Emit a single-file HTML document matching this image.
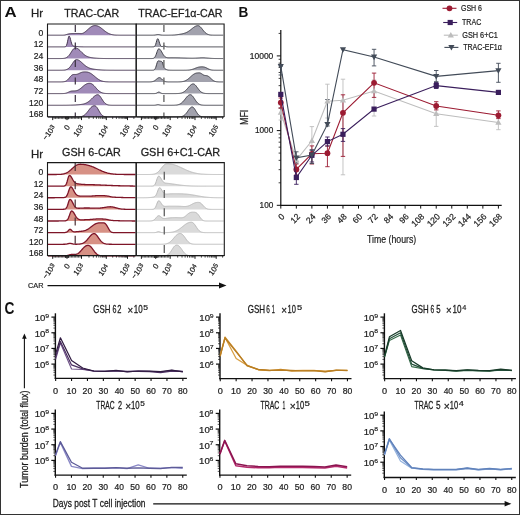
<!DOCTYPE html>
<html><head><meta charset="utf-8"><style>
html,body{margin:0;padding:0;background:#fff;}
body{width:520px;height:515px;overflow:hidden;}
svg{display:block;will-change:transform;font-family:"Liberation Sans", sans-serif;}
</style></head><body>
<svg width="520" height="515" viewBox="0 0 520 515">
<rect x="0" y="0" width="520" height="515" fill="#fff"/>
<text x="4.48" y="17" font-size="15.14" fill="#111" font-weight="bold" textLength="12.18" lengthAdjust="spacingAndGlyphs">A</text>
<text x="30.99" y="16.9" font-size="10.5" fill="#222" font-weight="normal" textLength="12.04" lengthAdjust="spacingAndGlyphs" stroke="#222" stroke-width="0.26">Hr</text>
<text x="64.29" y="16.9" font-size="10.5" fill="#222" font-weight="normal" textLength="54.81" lengthAdjust="spacingAndGlyphs" stroke="#222" stroke-width="0.26">TRAC-CAR</text>
<text x="138.29" y="16.9" font-size="10.5" fill="#222" font-weight="normal" textLength="84.21" lengthAdjust="spacingAndGlyphs" stroke="#222" stroke-width="0.26">TRAC-EF1&#945;-CAR</text>
<text x="30.99" y="157.8" font-size="10.5" fill="#222" font-weight="normal" textLength="12.04" lengthAdjust="spacingAndGlyphs" stroke="#222" stroke-width="0.26">Hr</text>
<text x="62.06" y="156.4" font-size="10.5" fill="#222" font-weight="normal" textLength="58.63" lengthAdjust="spacingAndGlyphs" stroke="#222" stroke-width="0.26">GSH 6-CAR</text>
<text x="140.66" y="156.4" font-size="10.5" fill="#222" font-weight="normal" textLength="79.56" lengthAdjust="spacingAndGlyphs" stroke="#222" stroke-width="0.26">GSH 6+C1-CAR</text>
<text x="43.35" y="35.7" font-size="8.6" text-anchor="end" fill="#222" font-weight="normal" stroke="#222" stroke-width="0.2" >0</text>
<text x="43.35" y="47.38" font-size="8.6" text-anchor="end" fill="#222" font-weight="normal" stroke="#222" stroke-width="0.2" >12</text>
<text x="43.35" y="59.06" font-size="8.6" text-anchor="end" fill="#222" font-weight="normal" stroke="#222" stroke-width="0.2" >24</text>
<text x="43.35" y="70.74" font-size="8.6" text-anchor="end" fill="#222" font-weight="normal" stroke="#222" stroke-width="0.2" >36</text>
<text x="43.35" y="82.42" font-size="8.6" text-anchor="end" fill="#222" font-weight="normal" stroke="#222" stroke-width="0.2" >48</text>
<text x="43.35" y="94.1" font-size="8.6" text-anchor="end" fill="#222" font-weight="normal" stroke="#222" stroke-width="0.2" >72</text>
<text x="43.35" y="105.78" font-size="8.6" text-anchor="end" fill="#222" font-weight="normal" stroke="#222" stroke-width="0.2" >120</text>
<text x="43.35" y="117.46" font-size="8.6" text-anchor="end" fill="#222" font-weight="normal" stroke="#222" stroke-width="0.2" >168</text>
<text x="43.35" y="175" font-size="8.6" text-anchor="end" fill="#222" font-weight="normal" stroke="#222" stroke-width="0.2" >0</text>
<text x="43.35" y="186.63" font-size="8.6" text-anchor="end" fill="#222" font-weight="normal" stroke="#222" stroke-width="0.2" >12</text>
<text x="43.35" y="198.26" font-size="8.6" text-anchor="end" fill="#222" font-weight="normal" stroke="#222" stroke-width="0.2" >24</text>
<text x="43.35" y="209.89" font-size="8.6" text-anchor="end" fill="#222" font-weight="normal" stroke="#222" stroke-width="0.2" >36</text>
<text x="43.35" y="221.52" font-size="8.6" text-anchor="end" fill="#222" font-weight="normal" stroke="#222" stroke-width="0.2" >48</text>
<text x="43.35" y="233.15" font-size="8.6" text-anchor="end" fill="#222" font-weight="normal" stroke="#222" stroke-width="0.2" >72</text>
<text x="43.35" y="244.78" font-size="8.6" text-anchor="end" fill="#222" font-weight="normal" stroke="#222" stroke-width="0.2" >120</text>
<text x="43.35" y="256.41" font-size="8.6" text-anchor="end" fill="#222" font-weight="normal" stroke="#222" stroke-width="0.2" >168</text>
<path d="M48 35.2 L48 35.2 L48.5 35.2 L49 35.2 L49.5 35.2 L50 35.2 L50.5 35.2 L51 35.2 L51.5 35.2 L52 35.2 L52.5 35.2 L53 35.2 L53.5 35.2 L54 35.2 L54.5 35.2 L55 35.2 L55.5 35.2 L56 35.2 L56.5 35.2 L57 35.2 L57.5 35.2 L58 35.2 L58.5 35.2 L59 35.2 L59.5 35.2 L60 35.2 L60.5 35.2 L61 35.2 L61.5 35.2 L62 35.2 L62.5 35.19 L63 35.17 L63.5 35.15 L64 35.1 L64.5 35.04 L65 34.95 L65.5 34.83 L66 34.69 L66.5 34.54 L67 34.38 L67.5 34.23 L68 34.09 L68.5 33.96 L69 33.86 L69.5 33.77 L70 33.71 L70.5 33.66 L71 33.63 L71.5 33.61 L72 33.6 L72.5 33.59 L73 33.58 L73.5 33.57 L74 33.56 L74.5 33.55 L75 33.54 L75.5 33.52 L76 33.5 L76.5 33.49 L77 33.47 L77.5 33.47 L78 33.47 L78.5 33.48 L79 33.5 L79.5 33.53 L80 33.57 L80.5 33.59 L81 33.6 L81.5 33.58 L82 33.51 L82.5 33.38 L83 33.2 L83.5 32.97 L84 32.68 L84.5 32.35 L85 31.99 L85.5 31.59 L86 31.17 L86.5 30.74 L87 30.29 L87.5 29.84 L88 29.38 L88.5 28.92 L89 28.48 L89.5 28.05 L90 27.64 L90.5 27.25 L91 26.9 L91.5 26.59 L92 26.32 L92.5 26.09 L93 25.9 L93.5 25.76 L94 25.67 L94.5 25.61 L95 25.6 L95.5 25.61 L96 25.65 L96.5 25.73 L97 25.84 L97.5 25.98 L98 26.17 L98.5 26.39 L99 26.64 L99.5 26.93 L100 27.25 L100.5 27.59 L101 27.95 L101.5 28.33 L102 28.73 L102.5 29.13 L103 29.54 L103.5 29.95 L104 30.36 L104.5 30.76 L105 31.15 L105.5 31.53 L106 31.89 L106.5 32.23 L107 32.56 L107.5 32.86 L108 33.14 L108.5 33.4 L109 33.63 L109.5 33.84 L110 34.03 L110.5 34.2 L111 34.35 L111.5 34.49 L112 34.6 L112.5 34.7 L113 34.79 L113.5 34.86 L114 34.92 L114.5 34.98 L115 35.02 L115.5 35.05 L116 35.08 L116.5 35.11 L117 35.13 L117.5 35.14 L118 35.16 L118.5 35.17 L119 35.17 L119.5 35.18 L120 35.19 L120.5 35.19 L121 35.19 L121.5 35.19 L122 35.2 L122.5 35.2 L123 35.2 L123.5 35.2 L124 35.2 L124.5 35.2 L125 35.2 L125.5 35.2 L126 35.2 L126.5 35.2 L127 35.2 L127.5 35.2 L128 35.2 L128.5 35.2 L129 35.2 L129.5 35.2 L130 35.2 L130.5 35.2 L131 35.2 L131.5 35.2 L132 35.2 L132.5 35.2 L133 35.2 L133.5 35.2 L134 35.2 L134.5 35.2 L135 35.2 L135.5 35.2 L135.7 35.2 Z" fill="#a08ab8" stroke="none"/>
<path d="M48 35.2 L48.5 35.2 L49 35.2 L49.5 35.2 L50 35.2 L50.5 35.2 L51 35.2 L51.5 35.2 L52 35.2 L52.5 35.2 L53 35.2 L53.5 35.2 L54 35.2 L54.5 35.2 L55 35.2 L55.5 35.2 L56 35.2 L56.5 35.2 L57 35.2 L57.5 35.2 L58 35.2 L58.5 35.2 L59 35.2 L59.5 35.2 L60 35.2 L60.5 35.2 L61 35.2 L61.5 35.2 L62 35.2 L62.5 35.19 L63 35.17 L63.5 35.15 L64 35.1 L64.5 35.04 L65 34.95 L65.5 34.83 L66 34.69 L66.5 34.54 L67 34.38 L67.5 34.23 L68 34.09 L68.5 33.96 L69 33.86 L69.5 33.77 L70 33.71 L70.5 33.66 L71 33.63 L71.5 33.61 L72 33.6 L72.5 33.59 L73 33.58 L73.5 33.57 L74 33.56 L74.5 33.55 L75 33.54 L75.5 33.52 L76 33.5 L76.5 33.49 L77 33.47 L77.5 33.47 L78 33.47 L78.5 33.48 L79 33.5 L79.5 33.53 L80 33.57 L80.5 33.59 L81 33.6 L81.5 33.58 L82 33.51 L82.5 33.38 L83 33.2 L83.5 32.97 L84 32.68 L84.5 32.35 L85 31.99 L85.5 31.59 L86 31.17 L86.5 30.74 L87 30.29 L87.5 29.84 L88 29.38 L88.5 28.92 L89 28.48 L89.5 28.05 L90 27.64 L90.5 27.25 L91 26.9 L91.5 26.59 L92 26.32 L92.5 26.09 L93 25.9 L93.5 25.76 L94 25.67 L94.5 25.61 L95 25.6 L95.5 25.61 L96 25.65 L96.5 25.73 L97 25.84 L97.5 25.98 L98 26.17 L98.5 26.39 L99 26.64 L99.5 26.93 L100 27.25 L100.5 27.59 L101 27.95 L101.5 28.33 L102 28.73 L102.5 29.13 L103 29.54 L103.5 29.95 L104 30.36 L104.5 30.76 L105 31.15 L105.5 31.53 L106 31.89 L106.5 32.23 L107 32.56 L107.5 32.86 L108 33.14 L108.5 33.4 L109 33.63 L109.5 33.84 L110 34.03 L110.5 34.2 L111 34.35 L111.5 34.49 L112 34.6 L112.5 34.7 L113 34.79 L113.5 34.86 L114 34.92 L114.5 34.98 L115 35.02 L115.5 35.05 L116 35.08 L116.5 35.11 L117 35.13 L117.5 35.14 L118 35.16 L118.5 35.17 L119 35.17 L119.5 35.18 L120 35.19 L120.5 35.19 L121 35.19 L121.5 35.19 L122 35.2 L122.5 35.2 L123 35.2 L123.5 35.2 L124 35.2 L124.5 35.2 L125 35.2 L125.5 35.2 L126 35.2 L126.5 35.2 L127 35.2 L127.5 35.2 L128 35.2 L128.5 35.2 L129 35.2 L129.5 35.2 L130 35.2 L130.5 35.2 L131 35.2 L131.5 35.2 L132 35.2 L132.5 35.2 L133 35.2 L133.5 35.2 L134 35.2 L134.5 35.2 L135 35.2 L135.5 35.2" fill="none" stroke="#45354f" stroke-width="1" stroke-linejoin="round"/>
<path d="M48 46.88 L48 46.88 L48.5 46.88 L49 46.88 L49.5 46.88 L50 46.88 L50.5 46.88 L51 46.88 L51.5 46.88 L52 46.88 L52.5 46.88 L53 46.88 L53.5 46.88 L54 46.88 L54.5 46.88 L55 46.88 L55.5 46.88 L56 46.88 L56.5 46.88 L57 46.88 L57.5 46.88 L58 46.88 L58.5 46.88 L59 46.88 L59.5 46.88 L60 46.88 L60.5 46.88 L61 46.88 L61.5 46.88 L62 46.88 L62.5 46.88 L63 46.88 L63.5 46.88 L64 46.88 L64.5 46.86 L65 46.81 L65.5 46.65 L66 46.25 L66.5 45.42 L67 43.95 L67.5 41.81 L68 39.32 L68.5 37.16 L69 36.09 L69.5 36.36 L70 37.58 L70.5 39.39 L71 41.35 L71.5 43.1 L72 44.43 L72.5 45.3 L73 45.8 L73.5 46.05 L74 46.18 L74.5 46.25 L75 46.3 L75.5 46.35 L76 46.4 L76.5 46.46 L77 46.52 L77.5 46.58 L78 46.63 L78.5 46.69 L79 46.73 L79.5 46.77 L80 46.8 L80.5 46.82 L81 46.84 L81.5 46.85 L82 46.86 L82.5 46.87 L83 46.87 L83.5 46.88 L84 46.88 L84.5 46.88 L85 46.88 L85.5 46.88 L86 46.88 L86.5 46.88 L87 46.88 L87.5 46.88 L88 46.88 L88.5 46.88 L89 46.88 L89.5 46.88 L90 46.88 L90.5 46.88 L91 46.88 L91.5 46.88 L92 46.88 L92.5 46.88 L93 46.88 L93.5 46.88 L94 46.88 L94.5 46.88 L95 46.88 L95.5 46.88 L96 46.88 L96.5 46.88 L97 46.88 L97.5 46.88 L98 46.88 L98.5 46.88 L99 46.88 L99.5 46.88 L100 46.88 L100.5 46.88 L101 46.88 L101.5 46.88 L102 46.88 L102.5 46.88 L103 46.88 L103.5 46.88 L104 46.88 L104.5 46.88 L105 46.88 L105.5 46.88 L106 46.88 L106.5 46.88 L107 46.88 L107.5 46.88 L108 46.88 L108.5 46.88 L109 46.88 L109.5 46.88 L110 46.88 L110.5 46.88 L111 46.88 L111.5 46.88 L112 46.88 L112.5 46.88 L113 46.88 L113.5 46.88 L114 46.88 L114.5 46.88 L115 46.88 L115.5 46.88 L116 46.88 L116.5 46.88 L117 46.88 L117.5 46.88 L118 46.88 L118.5 46.88 L119 46.88 L119.5 46.88 L120 46.88 L120.5 46.88 L121 46.88 L121.5 46.88 L122 46.88 L122.5 46.88 L123 46.88 L123.5 46.88 L124 46.88 L124.5 46.88 L125 46.88 L125.5 46.88 L126 46.88 L126.5 46.88 L127 46.88 L127.5 46.88 L128 46.88 L128.5 46.88 L129 46.88 L129.5 46.88 L130 46.88 L130.5 46.88 L131 46.88 L131.5 46.88 L132 46.88 L132.5 46.88 L133 46.88 L133.5 46.88 L134 46.88 L134.5 46.88 L135 46.88 L135.5 46.88 L135.7 46.88 Z" fill="#a08ab8" stroke="none"/>
<path d="M48 46.88 L48.5 46.88 L49 46.88 L49.5 46.88 L50 46.88 L50.5 46.88 L51 46.88 L51.5 46.88 L52 46.88 L52.5 46.88 L53 46.88 L53.5 46.88 L54 46.88 L54.5 46.88 L55 46.88 L55.5 46.88 L56 46.88 L56.5 46.88 L57 46.88 L57.5 46.88 L58 46.88 L58.5 46.88 L59 46.88 L59.5 46.88 L60 46.88 L60.5 46.88 L61 46.88 L61.5 46.88 L62 46.88 L62.5 46.88 L63 46.88 L63.5 46.88 L64 46.88 L64.5 46.86 L65 46.81 L65.5 46.65 L66 46.25 L66.5 45.42 L67 43.95 L67.5 41.81 L68 39.32 L68.5 37.16 L69 36.09 L69.5 36.36 L70 37.58 L70.5 39.39 L71 41.35 L71.5 43.1 L72 44.43 L72.5 45.3 L73 45.8 L73.5 46.05 L74 46.18 L74.5 46.25 L75 46.3 L75.5 46.35 L76 46.4 L76.5 46.46 L77 46.52 L77.5 46.58 L78 46.63 L78.5 46.69 L79 46.73 L79.5 46.77 L80 46.8 L80.5 46.82 L81 46.84 L81.5 46.85 L82 46.86 L82.5 46.87 L83 46.87 L83.5 46.88 L84 46.88 L84.5 46.88 L85 46.88 L85.5 46.88 L86 46.88 L86.5 46.88 L87 46.88 L87.5 46.88 L88 46.88 L88.5 46.88 L89 46.88 L89.5 46.88 L90 46.88 L90.5 46.88 L91 46.88 L91.5 46.88 L92 46.88 L92.5 46.88 L93 46.88 L93.5 46.88 L94 46.88 L94.5 46.88 L95 46.88 L95.5 46.88 L96 46.88 L96.5 46.88 L97 46.88 L97.5 46.88 L98 46.88 L98.5 46.88 L99 46.88 L99.5 46.88 L100 46.88 L100.5 46.88 L101 46.88 L101.5 46.88 L102 46.88 L102.5 46.88 L103 46.88 L103.5 46.88 L104 46.88 L104.5 46.88 L105 46.88 L105.5 46.88 L106 46.88 L106.5 46.88 L107 46.88 L107.5 46.88 L108 46.88 L108.5 46.88 L109 46.88 L109.5 46.88 L110 46.88 L110.5 46.88 L111 46.88 L111.5 46.88 L112 46.88 L112.5 46.88 L113 46.88 L113.5 46.88 L114 46.88 L114.5 46.88 L115 46.88 L115.5 46.88 L116 46.88 L116.5 46.88 L117 46.88 L117.5 46.88 L118 46.88 L118.5 46.88 L119 46.88 L119.5 46.88 L120 46.88 L120.5 46.88 L121 46.88 L121.5 46.88 L122 46.88 L122.5 46.88 L123 46.88 L123.5 46.88 L124 46.88 L124.5 46.88 L125 46.88 L125.5 46.88 L126 46.88 L126.5 46.88 L127 46.88 L127.5 46.88 L128 46.88 L128.5 46.88 L129 46.88 L129.5 46.88 L130 46.88 L130.5 46.88 L131 46.88 L131.5 46.88 L132 46.88 L132.5 46.88 L133 46.88 L133.5 46.88 L134 46.88 L134.5 46.88 L135 46.88 L135.5 46.88" fill="none" stroke="#45354f" stroke-width="1" stroke-linejoin="round"/>
<path d="M48 58.56 L48 58.56 L48.5 58.56 L49 58.56 L49.5 58.56 L50 58.56 L50.5 58.56 L51 58.56 L51.5 58.56 L52 58.56 L52.5 58.56 L53 58.56 L53.5 58.56 L54 58.56 L54.5 58.56 L55 58.56 L55.5 58.56 L56 58.56 L56.5 58.56 L57 58.56 L57.5 58.56 L58 58.56 L58.5 58.56 L59 58.56 L59.5 58.56 L60 58.55 L60.5 58.55 L61 58.54 L61.5 58.53 L62 58.52 L62.5 58.49 L63 58.46 L63.5 58.42 L64 58.35 L64.5 58.27 L65 58.16 L65.5 58.01 L66 57.82 L66.5 57.58 L67 57.28 L67.5 56.92 L68 56.49 L68.5 55.99 L69 55.42 L69.5 54.77 L70 54.07 L70.5 53.31 L71 52.53 L71.5 51.73 L72 50.94 L72.5 50.19 L73 49.51 L73.5 48.93 L74 48.46 L74.5 48.12 L75 47.94 L75.5 47.89 L76 47.94 L76.5 48.06 L77 48.25 L77.5 48.52 L78 48.84 L78.5 49.22 L79 49.64 L79.5 50.1 L80 50.58 L80.5 51.08 L81 51.59 L81.5 52.1 L82 52.61 L82.5 53.1 L83 53.58 L83.5 54.04 L84 54.47 L84.5 54.87 L85 55.24 L85.5 55.58 L86 55.88 L86.5 56.16 L87 56.4 L87.5 56.62 L88 56.81 L88.5 56.98 L89 57.13 L89.5 57.26 L90 57.38 L90.5 57.48 L91 57.57 L91.5 57.66 L92 57.73 L92.5 57.8 L93 57.87 L93.5 57.93 L94 57.98 L94.5 58.03 L95 58.08 L95.5 58.12 L96 58.16 L96.5 58.2 L97 58.24 L97.5 58.27 L98 58.3 L98.5 58.33 L99 58.35 L99.5 58.38 L100 58.4 L100.5 58.42 L101 58.43 L101.5 58.45 L102 58.46 L102.5 58.48 L103 58.49 L103.5 58.5 L104 58.51 L104.5 58.51 L105 58.52 L105.5 58.53 L106 58.53 L106.5 58.54 L107 58.54 L107.5 58.54 L108 58.55 L108.5 58.55 L109 58.55 L109.5 58.55 L110 58.55 L110.5 58.56 L111 58.56 L111.5 58.56 L112 58.56 L112.5 58.56 L113 58.56 L113.5 58.56 L114 58.56 L114.5 58.56 L115 58.56 L115.5 58.56 L116 58.56 L116.5 58.56 L117 58.56 L117.5 58.56 L118 58.56 L118.5 58.56 L119 58.56 L119.5 58.56 L120 58.56 L120.5 58.56 L121 58.56 L121.5 58.56 L122 58.56 L122.5 58.56 L123 58.56 L123.5 58.56 L124 58.56 L124.5 58.56 L125 58.56 L125.5 58.56 L126 58.56 L126.5 58.56 L127 58.56 L127.5 58.56 L128 58.56 L128.5 58.56 L129 58.56 L129.5 58.56 L130 58.56 L130.5 58.56 L131 58.56 L131.5 58.56 L132 58.56 L132.5 58.56 L133 58.56 L133.5 58.56 L134 58.56 L134.5 58.56 L135 58.56 L135.5 58.56 L135.7 58.56 Z" fill="#a08ab8" stroke="none"/>
<path d="M48 58.56 L48.5 58.56 L49 58.56 L49.5 58.56 L50 58.56 L50.5 58.56 L51 58.56 L51.5 58.56 L52 58.56 L52.5 58.56 L53 58.56 L53.5 58.56 L54 58.56 L54.5 58.56 L55 58.56 L55.5 58.56 L56 58.56 L56.5 58.56 L57 58.56 L57.5 58.56 L58 58.56 L58.5 58.56 L59 58.56 L59.5 58.56 L60 58.55 L60.5 58.55 L61 58.54 L61.5 58.53 L62 58.52 L62.5 58.49 L63 58.46 L63.5 58.42 L64 58.35 L64.5 58.27 L65 58.16 L65.5 58.01 L66 57.82 L66.5 57.58 L67 57.28 L67.5 56.92 L68 56.49 L68.5 55.99 L69 55.42 L69.5 54.77 L70 54.07 L70.5 53.31 L71 52.53 L71.5 51.73 L72 50.94 L72.5 50.19 L73 49.51 L73.5 48.93 L74 48.46 L74.5 48.12 L75 47.94 L75.5 47.89 L76 47.94 L76.5 48.06 L77 48.25 L77.5 48.52 L78 48.84 L78.5 49.22 L79 49.64 L79.5 50.1 L80 50.58 L80.5 51.08 L81 51.59 L81.5 52.1 L82 52.61 L82.5 53.1 L83 53.58 L83.5 54.04 L84 54.47 L84.5 54.87 L85 55.24 L85.5 55.58 L86 55.88 L86.5 56.16 L87 56.4 L87.5 56.62 L88 56.81 L88.5 56.98 L89 57.13 L89.5 57.26 L90 57.38 L90.5 57.48 L91 57.57 L91.5 57.66 L92 57.73 L92.5 57.8 L93 57.87 L93.5 57.93 L94 57.98 L94.5 58.03 L95 58.08 L95.5 58.12 L96 58.16 L96.5 58.2 L97 58.24 L97.5 58.27 L98 58.3 L98.5 58.33 L99 58.35 L99.5 58.38 L100 58.4 L100.5 58.42 L101 58.43 L101.5 58.45 L102 58.46 L102.5 58.48 L103 58.49 L103.5 58.5 L104 58.51 L104.5 58.51 L105 58.52 L105.5 58.53 L106 58.53 L106.5 58.54 L107 58.54 L107.5 58.54 L108 58.55 L108.5 58.55 L109 58.55 L109.5 58.55 L110 58.55 L110.5 58.56 L111 58.56 L111.5 58.56 L112 58.56 L112.5 58.56 L113 58.56 L113.5 58.56 L114 58.56 L114.5 58.56 L115 58.56 L115.5 58.56 L116 58.56 L116.5 58.56 L117 58.56 L117.5 58.56 L118 58.56 L118.5 58.56 L119 58.56 L119.5 58.56 L120 58.56 L120.5 58.56 L121 58.56 L121.5 58.56 L122 58.56 L122.5 58.56 L123 58.56 L123.5 58.56 L124 58.56 L124.5 58.56 L125 58.56 L125.5 58.56 L126 58.56 L126.5 58.56 L127 58.56 L127.5 58.56 L128 58.56 L128.5 58.56 L129 58.56 L129.5 58.56 L130 58.56 L130.5 58.56 L131 58.56 L131.5 58.56 L132 58.56 L132.5 58.56 L133 58.56 L133.5 58.56 L134 58.56 L134.5 58.56 L135 58.56 L135.5 58.56" fill="none" stroke="#45354f" stroke-width="1" stroke-linejoin="round"/>
<path d="M48 70.24 L48 70.24 L48.5 70.24 L49 70.24 L49.5 70.24 L50 70.24 L50.5 70.24 L51 70.24 L51.5 70.24 L52 70.24 L52.5 70.24 L53 70.24 L53.5 70.24 L54 70.24 L54.5 70.24 L55 70.24 L55.5 70.24 L56 70.24 L56.5 70.24 L57 70.24 L57.5 70.24 L58 70.24 L58.5 70.24 L59 70.24 L59.5 70.24 L60 70.23 L60.5 70.23 L61 70.23 L61.5 70.22 L62 70.21 L62.5 70.2 L63 70.18 L63.5 70.15 L64 70.11 L64.5 70.05 L65 69.98 L65.5 69.88 L66 69.75 L66.5 69.59 L67 69.39 L67.5 69.14 L68 68.83 L68.5 68.46 L69 68.03 L69.5 67.53 L70 66.97 L70.5 66.35 L71 65.67 L71.5 64.95 L72 64.2 L72.5 63.44 L73 62.69 L73.5 61.98 L74 61.33 L74.5 60.76 L75 60.29 L75.5 59.94 L76 59.72 L76.5 59.65 L77 59.67 L77.5 59.75 L78 59.9 L78.5 60.12 L79 60.38 L79.5 60.7 L80 61.06 L80.5 61.46 L81 61.88 L81.5 62.33 L82 62.78 L82.5 63.25 L83 63.71 L83.5 64.17 L84 64.62 L84.5 65.05 L85 65.46 L85.5 65.85 L86 66.21 L86.5 66.56 L87 66.87 L87.5 67.17 L88 67.44 L88.5 67.68 L89 67.9 L89.5 68.1 L90 68.28 L90.5 68.44 L91 68.58 L91.5 68.71 L92 68.83 L92.5 68.93 L93 69.03 L93.5 69.11 L94 69.19 L94.5 69.27 L95 69.34 L95.5 69.4 L96 69.46 L96.5 69.52 L97 69.57 L97.5 69.63 L98 69.67 L98.5 69.72 L99 69.77 L99.5 69.81 L100 69.85 L100.5 69.88 L101 69.92 L101.5 69.95 L102 69.98 L102.5 70.01 L103 70.03 L103.5 70.06 L104 70.08 L104.5 70.1 L105 70.11 L105.5 70.13 L106 70.14 L106.5 70.16 L107 70.17 L107.5 70.18 L108 70.19 L108.5 70.19 L109 70.2 L109.5 70.21 L110 70.21 L110.5 70.22 L111 70.22 L111.5 70.22 L112 70.23 L112.5 70.23 L113 70.23 L113.5 70.23 L114 70.23 L114.5 70.24 L115 70.24 L115.5 70.24 L116 70.24 L116.5 70.24 L117 70.24 L117.5 70.24 L118 70.24 L118.5 70.24 L119 70.24 L119.5 70.24 L120 70.24 L120.5 70.24 L121 70.24 L121.5 70.24 L122 70.24 L122.5 70.24 L123 70.24 L123.5 70.24 L124 70.24 L124.5 70.24 L125 70.24 L125.5 70.24 L126 70.24 L126.5 70.24 L127 70.24 L127.5 70.24 L128 70.24 L128.5 70.24 L129 70.24 L129.5 70.24 L130 70.24 L130.5 70.24 L131 70.24 L131.5 70.24 L132 70.24 L132.5 70.24 L133 70.24 L133.5 70.24 L134 70.24 L134.5 70.24 L135 70.24 L135.5 70.24 L135.7 70.24 Z" fill="#a08ab8" stroke="none"/>
<path d="M48 70.24 L48.5 70.24 L49 70.24 L49.5 70.24 L50 70.24 L50.5 70.24 L51 70.24 L51.5 70.24 L52 70.24 L52.5 70.24 L53 70.24 L53.5 70.24 L54 70.24 L54.5 70.24 L55 70.24 L55.5 70.24 L56 70.24 L56.5 70.24 L57 70.24 L57.5 70.24 L58 70.24 L58.5 70.24 L59 70.24 L59.5 70.24 L60 70.23 L60.5 70.23 L61 70.23 L61.5 70.22 L62 70.21 L62.5 70.2 L63 70.18 L63.5 70.15 L64 70.11 L64.5 70.05 L65 69.98 L65.5 69.88 L66 69.75 L66.5 69.59 L67 69.39 L67.5 69.14 L68 68.83 L68.5 68.46 L69 68.03 L69.5 67.53 L70 66.97 L70.5 66.35 L71 65.67 L71.5 64.95 L72 64.2 L72.5 63.44 L73 62.69 L73.5 61.98 L74 61.33 L74.5 60.76 L75 60.29 L75.5 59.94 L76 59.72 L76.5 59.65 L77 59.67 L77.5 59.75 L78 59.9 L78.5 60.12 L79 60.38 L79.5 60.7 L80 61.06 L80.5 61.46 L81 61.88 L81.5 62.33 L82 62.78 L82.5 63.25 L83 63.71 L83.5 64.17 L84 64.62 L84.5 65.05 L85 65.46 L85.5 65.85 L86 66.21 L86.5 66.56 L87 66.87 L87.5 67.17 L88 67.44 L88.5 67.68 L89 67.9 L89.5 68.1 L90 68.28 L90.5 68.44 L91 68.58 L91.5 68.71 L92 68.83 L92.5 68.93 L93 69.03 L93.5 69.11 L94 69.19 L94.5 69.27 L95 69.34 L95.5 69.4 L96 69.46 L96.5 69.52 L97 69.57 L97.5 69.63 L98 69.67 L98.5 69.72 L99 69.77 L99.5 69.81 L100 69.85 L100.5 69.88 L101 69.92 L101.5 69.95 L102 69.98 L102.5 70.01 L103 70.03 L103.5 70.06 L104 70.08 L104.5 70.1 L105 70.11 L105.5 70.13 L106 70.14 L106.5 70.16 L107 70.17 L107.5 70.18 L108 70.19 L108.5 70.19 L109 70.2 L109.5 70.21 L110 70.21 L110.5 70.22 L111 70.22 L111.5 70.22 L112 70.23 L112.5 70.23 L113 70.23 L113.5 70.23 L114 70.23 L114.5 70.24 L115 70.24 L115.5 70.24 L116 70.24 L116.5 70.24 L117 70.24 L117.5 70.24 L118 70.24 L118.5 70.24 L119 70.24 L119.5 70.24 L120 70.24 L120.5 70.24 L121 70.24 L121.5 70.24 L122 70.24 L122.5 70.24 L123 70.24 L123.5 70.24 L124 70.24 L124.5 70.24 L125 70.24 L125.5 70.24 L126 70.24 L126.5 70.24 L127 70.24 L127.5 70.24 L128 70.24 L128.5 70.24 L129 70.24 L129.5 70.24 L130 70.24 L130.5 70.24 L131 70.24 L131.5 70.24 L132 70.24 L132.5 70.24 L133 70.24 L133.5 70.24 L134 70.24 L134.5 70.24 L135 70.24 L135.5 70.24" fill="none" stroke="#45354f" stroke-width="1" stroke-linejoin="round"/>
<path d="M48 81.92 L48 81.92 L48.5 81.92 L49 81.92 L49.5 81.92 L50 81.92 L50.5 81.92 L51 81.92 L51.5 81.92 L52 81.92 L52.5 81.92 L53 81.92 L53.5 81.92 L54 81.92 L54.5 81.92 L55 81.92 L55.5 81.92 L56 81.92 L56.5 81.92 L57 81.92 L57.5 81.92 L58 81.92 L58.5 81.92 L59 81.92 L59.5 81.92 L60 81.91 L60.5 81.91 L61 81.9 L61.5 81.89 L62 81.88 L62.5 81.86 L63 81.82 L63.5 81.78 L64 81.71 L64.5 81.61 L65 81.48 L65.5 81.3 L66 81.07 L66.5 80.78 L67 80.42 L67.5 79.98 L68 79.48 L68.5 78.92 L69 78.31 L69.5 77.68 L70 77.05 L70.5 76.45 L71 75.91 L71.5 75.44 L72 75.07 L72.5 74.79 L73 74.6 L73.5 74.5 L74 74.46 L74.5 74.46 L75 74.47 L75.5 74.47 L76 74.45 L76.5 74.39 L77 74.29 L77.5 74.14 L78 73.96 L78.5 73.75 L79 73.51 L79.5 73.27 L80 73.03 L80.5 72.81 L81 72.6 L81.5 72.42 L82 72.27 L82.5 72.14 L83 72.05 L83.5 71.98 L84 71.94 L84.5 71.92 L85 71.92 L85.5 71.92 L86 71.94 L86.5 71.98 L87 72.04 L87.5 72.12 L88 72.24 L88.5 72.38 L89 72.56 L89.5 72.77 L90 73.01 L90.5 73.28 L91 73.58 L91.5 73.91 L92 74.26 L92.5 74.64 L93 75.03 L93.5 75.44 L94 75.85 L94.5 76.28 L95 76.7 L95.5 77.13 L96 77.54 L96.5 77.95 L97 78.34 L97.5 78.71 L98 79.07 L98.5 79.4 L99 79.71 L99.5 79.99 L100 80.26 L100.5 80.49 L101 80.7 L101.5 80.89 L102 81.06 L102.5 81.2 L103 81.33 L103.5 81.44 L104 81.53 L104.5 81.6 L105 81.67 L105.5 81.72 L106 81.76 L106.5 81.8 L107 81.83 L107.5 81.85 L108 81.87 L108.5 81.88 L109 81.89 L109.5 81.9 L110 81.9 L110.5 81.91 L111 81.91 L111.5 81.91 L112 81.92 L112.5 81.92 L113 81.92 L113.5 81.92 L114 81.92 L114.5 81.92 L115 81.92 L115.5 81.92 L116 81.92 L116.5 81.92 L117 81.92 L117.5 81.92 L118 81.92 L118.5 81.92 L119 81.92 L119.5 81.92 L120 81.92 L120.5 81.92 L121 81.92 L121.5 81.92 L122 81.92 L122.5 81.92 L123 81.92 L123.5 81.92 L124 81.92 L124.5 81.92 L125 81.92 L125.5 81.92 L126 81.92 L126.5 81.92 L127 81.92 L127.5 81.92 L128 81.92 L128.5 81.92 L129 81.92 L129.5 81.92 L130 81.92 L130.5 81.92 L131 81.92 L131.5 81.92 L132 81.92 L132.5 81.92 L133 81.92 L133.5 81.92 L134 81.92 L134.5 81.92 L135 81.92 L135.5 81.92 L135.7 81.92 Z" fill="#a08ab8" stroke="none"/>
<path d="M48 81.92 L48.5 81.92 L49 81.92 L49.5 81.92 L50 81.92 L50.5 81.92 L51 81.92 L51.5 81.92 L52 81.92 L52.5 81.92 L53 81.92 L53.5 81.92 L54 81.92 L54.5 81.92 L55 81.92 L55.5 81.92 L56 81.92 L56.5 81.92 L57 81.92 L57.5 81.92 L58 81.92 L58.5 81.92 L59 81.92 L59.5 81.92 L60 81.91 L60.5 81.91 L61 81.9 L61.5 81.89 L62 81.88 L62.5 81.86 L63 81.82 L63.5 81.78 L64 81.71 L64.5 81.61 L65 81.48 L65.5 81.3 L66 81.07 L66.5 80.78 L67 80.42 L67.5 79.98 L68 79.48 L68.5 78.92 L69 78.31 L69.5 77.68 L70 77.05 L70.5 76.45 L71 75.91 L71.5 75.44 L72 75.07 L72.5 74.79 L73 74.6 L73.5 74.5 L74 74.46 L74.5 74.46 L75 74.47 L75.5 74.47 L76 74.45 L76.5 74.39 L77 74.29 L77.5 74.14 L78 73.96 L78.5 73.75 L79 73.51 L79.5 73.27 L80 73.03 L80.5 72.81 L81 72.6 L81.5 72.42 L82 72.27 L82.5 72.14 L83 72.05 L83.5 71.98 L84 71.94 L84.5 71.92 L85 71.92 L85.5 71.92 L86 71.94 L86.5 71.98 L87 72.04 L87.5 72.12 L88 72.24 L88.5 72.38 L89 72.56 L89.5 72.77 L90 73.01 L90.5 73.28 L91 73.58 L91.5 73.91 L92 74.26 L92.5 74.64 L93 75.03 L93.5 75.44 L94 75.85 L94.5 76.28 L95 76.7 L95.5 77.13 L96 77.54 L96.5 77.95 L97 78.34 L97.5 78.71 L98 79.07 L98.5 79.4 L99 79.71 L99.5 79.99 L100 80.26 L100.5 80.49 L101 80.7 L101.5 80.89 L102 81.06 L102.5 81.2 L103 81.33 L103.5 81.44 L104 81.53 L104.5 81.6 L105 81.67 L105.5 81.72 L106 81.76 L106.5 81.8 L107 81.83 L107.5 81.85 L108 81.87 L108.5 81.88 L109 81.89 L109.5 81.9 L110 81.9 L110.5 81.91 L111 81.91 L111.5 81.91 L112 81.92 L112.5 81.92 L113 81.92 L113.5 81.92 L114 81.92 L114.5 81.92 L115 81.92 L115.5 81.92 L116 81.92 L116.5 81.92 L117 81.92 L117.5 81.92 L118 81.92 L118.5 81.92 L119 81.92 L119.5 81.92 L120 81.92 L120.5 81.92 L121 81.92 L121.5 81.92 L122 81.92 L122.5 81.92 L123 81.92 L123.5 81.92 L124 81.92 L124.5 81.92 L125 81.92 L125.5 81.92 L126 81.92 L126.5 81.92 L127 81.92 L127.5 81.92 L128 81.92 L128.5 81.92 L129 81.92 L129.5 81.92 L130 81.92 L130.5 81.92 L131 81.92 L131.5 81.92 L132 81.92 L132.5 81.92 L133 81.92 L133.5 81.92 L134 81.92 L134.5 81.92 L135 81.92 L135.5 81.92" fill="none" stroke="#45354f" stroke-width="1" stroke-linejoin="round"/>
<path d="M48 93.6 L48 93.6 L48.5 93.6 L49 93.6 L49.5 93.6 L50 93.6 L50.5 93.6 L51 93.6 L51.5 93.6 L52 93.6 L52.5 93.6 L53 93.6 L53.5 93.6 L54 93.6 L54.5 93.6 L55 93.6 L55.5 93.6 L56 93.6 L56.5 93.6 L57 93.6 L57.5 93.6 L58 93.6 L58.5 93.6 L59 93.6 L59.5 93.6 L60 93.6 L60.5 93.6 L61 93.59 L61.5 93.59 L62 93.58 L62.5 93.57 L63 93.56 L63.5 93.53 L64 93.5 L64.5 93.45 L65 93.38 L65.5 93.29 L66 93.17 L66.5 93.02 L67 92.85 L67.5 92.65 L68 92.42 L68.5 92.18 L69 91.94 L69.5 91.7 L70 91.49 L70.5 91.3 L71 91.16 L71.5 91.07 L72 91.01 L72.5 90.97 L73 90.94 L73.5 90.93 L74 90.92 L74.5 90.9 L75 90.88 L75.5 90.83 L76 90.77 L76.5 90.67 L77 90.53 L77.5 90.36 L78 90.15 L78.5 89.9 L79 89.61 L79.5 89.28 L80 88.93 L80.5 88.54 L81 88.14 L81.5 87.71 L82 87.28 L82.5 86.85 L83 86.41 L83.5 85.99 L84 85.58 L84.5 85.2 L85 84.84 L85.5 84.51 L86 84.22 L86.5 83.96 L87 83.75 L87.5 83.58 L88 83.45 L88.5 83.36 L89 83.31 L89.5 83.3 L90 83.32 L90.5 83.4 L91 83.54 L91.5 83.75 L92 84.02 L92.5 84.36 L93 84.76 L93.5 85.21 L94 85.7 L94.5 86.23 L95 86.78 L95.5 87.35 L96 87.93 L96.5 88.49 L97 89.05 L97.5 89.58 L98 90.09 L98.5 90.56 L99 90.99 L99.5 91.39 L100 91.74 L100.5 92.06 L101 92.33 L101.5 92.56 L102 92.77 L102.5 92.93 L103 93.08 L103.5 93.19 L104 93.28 L104.5 93.36 L105 93.42 L105.5 93.46 L106 93.5 L106.5 93.53 L107 93.55 L107.5 93.56 L108 93.57 L108.5 93.58 L109 93.59 L109.5 93.59 L110 93.59 L110.5 93.6 L111 93.6 L111.5 93.6 L112 93.6 L112.5 93.6 L113 93.6 L113.5 93.6 L114 93.6 L114.5 93.6 L115 93.6 L115.5 93.6 L116 93.6 L116.5 93.6 L117 93.6 L117.5 93.6 L118 93.6 L118.5 93.6 L119 93.6 L119.5 93.6 L120 93.6 L120.5 93.6 L121 93.6 L121.5 93.6 L122 93.6 L122.5 93.6 L123 93.6 L123.5 93.6 L124 93.6 L124.5 93.6 L125 93.6 L125.5 93.6 L126 93.6 L126.5 93.6 L127 93.6 L127.5 93.6 L128 93.6 L128.5 93.6 L129 93.6 L129.5 93.6 L130 93.6 L130.5 93.6 L131 93.6 L131.5 93.6 L132 93.6 L132.5 93.6 L133 93.6 L133.5 93.6 L134 93.6 L134.5 93.6 L135 93.6 L135.5 93.6 L135.7 93.6 Z" fill="#a08ab8" stroke="none"/>
<path d="M48 93.6 L48.5 93.6 L49 93.6 L49.5 93.6 L50 93.6 L50.5 93.6 L51 93.6 L51.5 93.6 L52 93.6 L52.5 93.6 L53 93.6 L53.5 93.6 L54 93.6 L54.5 93.6 L55 93.6 L55.5 93.6 L56 93.6 L56.5 93.6 L57 93.6 L57.5 93.6 L58 93.6 L58.5 93.6 L59 93.6 L59.5 93.6 L60 93.6 L60.5 93.6 L61 93.59 L61.5 93.59 L62 93.58 L62.5 93.57 L63 93.56 L63.5 93.53 L64 93.5 L64.5 93.45 L65 93.38 L65.5 93.29 L66 93.17 L66.5 93.02 L67 92.85 L67.5 92.65 L68 92.42 L68.5 92.18 L69 91.94 L69.5 91.7 L70 91.49 L70.5 91.3 L71 91.16 L71.5 91.07 L72 91.01 L72.5 90.97 L73 90.94 L73.5 90.93 L74 90.92 L74.5 90.9 L75 90.88 L75.5 90.83 L76 90.77 L76.5 90.67 L77 90.53 L77.5 90.36 L78 90.15 L78.5 89.9 L79 89.61 L79.5 89.28 L80 88.93 L80.5 88.54 L81 88.14 L81.5 87.71 L82 87.28 L82.5 86.85 L83 86.41 L83.5 85.99 L84 85.58 L84.5 85.2 L85 84.84 L85.5 84.51 L86 84.22 L86.5 83.96 L87 83.75 L87.5 83.58 L88 83.45 L88.5 83.36 L89 83.31 L89.5 83.3 L90 83.32 L90.5 83.4 L91 83.54 L91.5 83.75 L92 84.02 L92.5 84.36 L93 84.76 L93.5 85.21 L94 85.7 L94.5 86.23 L95 86.78 L95.5 87.35 L96 87.93 L96.5 88.49 L97 89.05 L97.5 89.58 L98 90.09 L98.5 90.56 L99 90.99 L99.5 91.39 L100 91.74 L100.5 92.06 L101 92.33 L101.5 92.56 L102 92.77 L102.5 92.93 L103 93.08 L103.5 93.19 L104 93.28 L104.5 93.36 L105 93.42 L105.5 93.46 L106 93.5 L106.5 93.53 L107 93.55 L107.5 93.56 L108 93.57 L108.5 93.58 L109 93.59 L109.5 93.59 L110 93.59 L110.5 93.6 L111 93.6 L111.5 93.6 L112 93.6 L112.5 93.6 L113 93.6 L113.5 93.6 L114 93.6 L114.5 93.6 L115 93.6 L115.5 93.6 L116 93.6 L116.5 93.6 L117 93.6 L117.5 93.6 L118 93.6 L118.5 93.6 L119 93.6 L119.5 93.6 L120 93.6 L120.5 93.6 L121 93.6 L121.5 93.6 L122 93.6 L122.5 93.6 L123 93.6 L123.5 93.6 L124 93.6 L124.5 93.6 L125 93.6 L125.5 93.6 L126 93.6 L126.5 93.6 L127 93.6 L127.5 93.6 L128 93.6 L128.5 93.6 L129 93.6 L129.5 93.6 L130 93.6 L130.5 93.6 L131 93.6 L131.5 93.6 L132 93.6 L132.5 93.6 L133 93.6 L133.5 93.6 L134 93.6 L134.5 93.6 L135 93.6 L135.5 93.6" fill="none" stroke="#45354f" stroke-width="1" stroke-linejoin="round"/>
<path d="M48 105.28 L48 105.28 L48.5 105.28 L49 105.28 L49.5 105.28 L50 105.28 L50.5 105.28 L51 105.28 L51.5 105.28 L52 105.28 L52.5 105.28 L53 105.28 L53.5 105.28 L54 105.28 L54.5 105.28 L55 105.28 L55.5 105.28 L56 105.28 L56.5 105.28 L57 105.28 L57.5 105.28 L58 105.28 L58.5 105.28 L59 105.28 L59.5 105.28 L60 105.28 L60.5 105.28 L61 105.27 L61.5 105.27 L62 105.27 L62.5 105.27 L63 105.27 L63.5 105.26 L64 105.26 L64.5 105.26 L65 105.25 L65.5 105.25 L66 105.24 L66.5 105.24 L67 105.23 L67.5 105.22 L68 105.22 L68.5 105.21 L69 105.2 L69.5 105.18 L70 105.17 L70.5 105.16 L71 105.14 L71.5 105.12 L72 105.11 L72.5 105.09 L73 105.07 L73.5 105.04 L74 105.02 L74.5 104.99 L75 104.96 L75.5 104.94 L76 104.9 L76.5 104.87 L77 104.84 L77.5 104.8 L78 104.76 L78.5 104.72 L79 104.68 L79.5 104.63 L80 104.58 L80.5 104.53 L81 104.46 L81.5 104.39 L82 104.32 L82.5 104.23 L83 104.13 L83.5 104.02 L84 103.89 L84.5 103.74 L85 103.57 L85.5 103.37 L86 103.15 L86.5 102.91 L87 102.64 L87.5 102.35 L88 102.02 L88.5 101.67 L89 101.29 L89.5 100.88 L90 100.45 L90.5 99.99 L91 99.51 L91.5 99.02 L92 98.52 L92.5 98.02 L93 97.52 L93.5 97.04 L94 96.59 L94.5 96.16 L95 95.78 L95.5 95.44 L96 95.17 L96.5 94.95 L97 94.81 L97.5 94.74 L98 94.75 L98.5 94.9 L99 95.21 L99.5 95.67 L100 96.24 L100.5 96.91 L101 97.65 L101.5 98.43 L102 99.22 L102.5 100.01 L103 100.77 L103.5 101.47 L104 102.12 L104.5 102.7 L105 103.2 L105.5 103.63 L106 104 L106.5 104.29 L107 104.53 L107.5 104.73 L108 104.87 L108.5 104.99 L109 105.07 L109.5 105.13 L110 105.18 L110.5 105.21 L111 105.23 L111.5 105.25 L112 105.26 L112.5 105.27 L113 105.27 L113.5 105.28 L114 105.28 L114.5 105.28 L115 105.28 L115.5 105.28 L116 105.28 L116.5 105.28 L117 105.28 L117.5 105.28 L118 105.28 L118.5 105.28 L119 105.28 L119.5 105.28 L120 105.28 L120.5 105.28 L121 105.28 L121.5 105.28 L122 105.28 L122.5 105.28 L123 105.28 L123.5 105.28 L124 105.28 L124.5 105.28 L125 105.28 L125.5 105.28 L126 105.28 L126.5 105.28 L127 105.28 L127.5 105.28 L128 105.28 L128.5 105.28 L129 105.28 L129.5 105.28 L130 105.28 L130.5 105.28 L131 105.28 L131.5 105.28 L132 105.28 L132.5 105.28 L133 105.28 L133.5 105.28 L134 105.28 L134.5 105.28 L135 105.28 L135.5 105.28 L135.7 105.28 Z" fill="#a08ab8" stroke="none"/>
<path d="M48 105.28 L48.5 105.28 L49 105.28 L49.5 105.28 L50 105.28 L50.5 105.28 L51 105.28 L51.5 105.28 L52 105.28 L52.5 105.28 L53 105.28 L53.5 105.28 L54 105.28 L54.5 105.28 L55 105.28 L55.5 105.28 L56 105.28 L56.5 105.28 L57 105.28 L57.5 105.28 L58 105.28 L58.5 105.28 L59 105.28 L59.5 105.28 L60 105.28 L60.5 105.28 L61 105.27 L61.5 105.27 L62 105.27 L62.5 105.27 L63 105.27 L63.5 105.26 L64 105.26 L64.5 105.26 L65 105.25 L65.5 105.25 L66 105.24 L66.5 105.24 L67 105.23 L67.5 105.22 L68 105.22 L68.5 105.21 L69 105.2 L69.5 105.18 L70 105.17 L70.5 105.16 L71 105.14 L71.5 105.12 L72 105.11 L72.5 105.09 L73 105.07 L73.5 105.04 L74 105.02 L74.5 104.99 L75 104.96 L75.5 104.94 L76 104.9 L76.5 104.87 L77 104.84 L77.5 104.8 L78 104.76 L78.5 104.72 L79 104.68 L79.5 104.63 L80 104.58 L80.5 104.53 L81 104.46 L81.5 104.39 L82 104.32 L82.5 104.23 L83 104.13 L83.5 104.02 L84 103.89 L84.5 103.74 L85 103.57 L85.5 103.37 L86 103.15 L86.5 102.91 L87 102.64 L87.5 102.35 L88 102.02 L88.5 101.67 L89 101.29 L89.5 100.88 L90 100.45 L90.5 99.99 L91 99.51 L91.5 99.02 L92 98.52 L92.5 98.02 L93 97.52 L93.5 97.04 L94 96.59 L94.5 96.16 L95 95.78 L95.5 95.44 L96 95.17 L96.5 94.95 L97 94.81 L97.5 94.74 L98 94.75 L98.5 94.9 L99 95.21 L99.5 95.67 L100 96.24 L100.5 96.91 L101 97.65 L101.5 98.43 L102 99.22 L102.5 100.01 L103 100.77 L103.5 101.47 L104 102.12 L104.5 102.7 L105 103.2 L105.5 103.63 L106 104 L106.5 104.29 L107 104.53 L107.5 104.73 L108 104.87 L108.5 104.99 L109 105.07 L109.5 105.13 L110 105.18 L110.5 105.21 L111 105.23 L111.5 105.25 L112 105.26 L112.5 105.27 L113 105.27 L113.5 105.28 L114 105.28 L114.5 105.28 L115 105.28 L115.5 105.28 L116 105.28 L116.5 105.28 L117 105.28 L117.5 105.28 L118 105.28 L118.5 105.28 L119 105.28 L119.5 105.28 L120 105.28 L120.5 105.28 L121 105.28 L121.5 105.28 L122 105.28 L122.5 105.28 L123 105.28 L123.5 105.28 L124 105.28 L124.5 105.28 L125 105.28 L125.5 105.28 L126 105.28 L126.5 105.28 L127 105.28 L127.5 105.28 L128 105.28 L128.5 105.28 L129 105.28 L129.5 105.28 L130 105.28 L130.5 105.28 L131 105.28 L131.5 105.28 L132 105.28 L132.5 105.28 L133 105.28 L133.5 105.28 L134 105.28 L134.5 105.28 L135 105.28 L135.5 105.28" fill="none" stroke="#45354f" stroke-width="1" stroke-linejoin="round"/>
<path d="M48 116.96 L48 116.96 L48.5 116.96 L49 116.96 L49.5 116.96 L50 116.96 L50.5 116.96 L51 116.96 L51.5 116.96 L52 116.96 L52.5 116.96 L53 116.96 L53.5 116.96 L54 116.96 L54.5 116.96 L55 116.96 L55.5 116.96 L56 116.96 L56.5 116.96 L57 116.96 L57.5 116.96 L58 116.96 L58.5 116.96 L59 116.96 L59.5 116.96 L60 116.96 L60.5 116.96 L61 116.96 L61.5 116.96 L62 116.96 L62.5 116.96 L63 116.96 L63.5 116.96 L64 116.96 L64.5 116.96 L65 116.96 L65.5 116.96 L66 116.96 L66.5 116.96 L67 116.96 L67.5 116.96 L68 116.96 L68.5 116.96 L69 116.96 L69.5 116.96 L70 116.96 L70.5 116.96 L71 116.96 L71.5 116.96 L72 116.96 L72.5 116.96 L73 116.96 L73.5 116.96 L74 116.96 L74.5 116.96 L75 116.95 L75.5 116.95 L76 116.95 L76.5 116.94 L77 116.93 L77.5 116.92 L78 116.91 L78.5 116.88 L79 116.85 L79.5 116.81 L80 116.75 L80.5 116.68 L81 116.59 L81.5 116.47 L82 116.33 L82.5 116.15 L83 115.93 L83.5 115.67 L84 115.37 L84.5 115.02 L85 114.61 L85.5 114.16 L86 113.65 L86.5 113.1 L87 112.51 L87.5 111.88 L88 111.23 L88.5 110.57 L89 109.9 L89.5 109.24 L90 108.61 L90.5 108.02 L91 107.48 L91.5 107 L92 106.6 L92.5 106.27 L93 106.02 L93.5 105.86 L94 105.78 L94.5 105.76 L95 105.84 L95.5 106.05 L96 106.41 L96.5 106.91 L97 107.55 L97.5 108.29 L98 109.12 L98.5 109.99 L99 110.88 L99.5 111.76 L100 112.59 L100.5 113.37 L101 114.06 L101.5 114.67 L102 115.19 L102.5 115.62 L103 115.96 L103.5 116.24 L104 116.45 L104.5 116.6 L105 116.72 L105.5 116.8 L106 116.86 L106.5 116.89 L107 116.92 L107.5 116.94 L108 116.95 L108.5 116.95 L109 116.96 L109.5 116.96 L110 116.96 L110.5 116.96 L111 116.96 L111.5 116.96 L112 116.96 L112.5 116.96 L113 116.96 L113.5 116.96 L114 116.96 L114.5 116.96 L115 116.96 L115.5 116.96 L116 116.96 L116.5 116.96 L117 116.96 L117.5 116.96 L118 116.96 L118.5 116.96 L119 116.96 L119.5 116.96 L120 116.96 L120.5 116.96 L121 116.96 L121.5 116.96 L122 116.96 L122.5 116.96 L123 116.96 L123.5 116.96 L124 116.96 L124.5 116.96 L125 116.96 L125.5 116.96 L126 116.96 L126.5 116.96 L127 116.96 L127.5 116.96 L128 116.96 L128.5 116.96 L129 116.96 L129.5 116.96 L130 116.96 L130.5 116.96 L131 116.96 L131.5 116.96 L132 116.96 L132.5 116.96 L133 116.96 L133.5 116.96 L134 116.96 L134.5 116.96 L135 116.96 L135.5 116.96 L135.7 116.96 Z" fill="#a08ab8" stroke="none"/>
<path d="M48 116.96 L48.5 116.96 L49 116.96 L49.5 116.96 L50 116.96 L50.5 116.96 L51 116.96 L51.5 116.96 L52 116.96 L52.5 116.96 L53 116.96 L53.5 116.96 L54 116.96 L54.5 116.96 L55 116.96 L55.5 116.96 L56 116.96 L56.5 116.96 L57 116.96 L57.5 116.96 L58 116.96 L58.5 116.96 L59 116.96 L59.5 116.96 L60 116.96 L60.5 116.96 L61 116.96 L61.5 116.96 L62 116.96 L62.5 116.96 L63 116.96 L63.5 116.96 L64 116.96 L64.5 116.96 L65 116.96 L65.5 116.96 L66 116.96 L66.5 116.96 L67 116.96 L67.5 116.96 L68 116.96 L68.5 116.96 L69 116.96 L69.5 116.96 L70 116.96 L70.5 116.96 L71 116.96 L71.5 116.96 L72 116.96 L72.5 116.96 L73 116.96 L73.5 116.96 L74 116.96 L74.5 116.96 L75 116.95 L75.5 116.95 L76 116.95 L76.5 116.94 L77 116.93 L77.5 116.92 L78 116.91 L78.5 116.88 L79 116.85 L79.5 116.81 L80 116.75 L80.5 116.68 L81 116.59 L81.5 116.47 L82 116.33 L82.5 116.15 L83 115.93 L83.5 115.67 L84 115.37 L84.5 115.02 L85 114.61 L85.5 114.16 L86 113.65 L86.5 113.1 L87 112.51 L87.5 111.88 L88 111.23 L88.5 110.57 L89 109.9 L89.5 109.24 L90 108.61 L90.5 108.02 L91 107.48 L91.5 107 L92 106.6 L92.5 106.27 L93 106.02 L93.5 105.86 L94 105.78 L94.5 105.76 L95 105.84 L95.5 106.05 L96 106.41 L96.5 106.91 L97 107.55 L97.5 108.29 L98 109.12 L98.5 109.99 L99 110.88 L99.5 111.76 L100 112.59 L100.5 113.37 L101 114.06 L101.5 114.67 L102 115.19 L102.5 115.62 L103 115.96 L103.5 116.24 L104 116.45 L104.5 116.6 L105 116.72 L105.5 116.8 L106 116.86 L106.5 116.89 L107 116.92 L107.5 116.94 L108 116.95 L108.5 116.95 L109 116.96 L109.5 116.96 L110 116.96 L110.5 116.96 L111 116.96 L111.5 116.96 L112 116.96 L112.5 116.96 L113 116.96 L113.5 116.96 L114 116.96 L114.5 116.96 L115 116.96 L115.5 116.96 L116 116.96 L116.5 116.96 L117 116.96 L117.5 116.96 L118 116.96 L118.5 116.96 L119 116.96 L119.5 116.96 L120 116.96 L120.5 116.96 L121 116.96 L121.5 116.96 L122 116.96 L122.5 116.96 L123 116.96 L123.5 116.96 L124 116.96 L124.5 116.96 L125 116.96 L125.5 116.96 L126 116.96 L126.5 116.96 L127 116.96 L127.5 116.96 L128 116.96 L128.5 116.96 L129 116.96 L129.5 116.96 L130 116.96 L130.5 116.96 L131 116.96 L131.5 116.96 L132 116.96 L132.5 116.96 L133 116.96 L133.5 116.96 L134 116.96 L134.5 116.96 L135 116.96 L135.5 116.96" fill="none" stroke="#45354f" stroke-width="1" stroke-linejoin="round"/>
<line x1="75.3" y1="24" x2="75.3" y2="116.96" stroke="#3a3040" stroke-width="1.2" stroke-dasharray="7 10.5" stroke-dashoffset="16.6"/>
<path d="M47.5 116.96 V24 H136.2 V116.96" fill="none" stroke="#1a1a1a" stroke-width="1.1"/>
<path d="M136.7 35.2 L136.7 35.2 L137.2 35.2 L137.7 35.2 L138.2 35.2 L138.7 35.2 L139.2 35.2 L139.7 35.2 L140.2 35.2 L140.7 35.2 L141.2 35.2 L141.7 35.2 L142.2 35.2 L142.7 35.2 L143.2 35.2 L143.7 35.2 L144.2 35.2 L144.7 35.2 L145.2 35.2 L145.7 35.2 L146.2 35.2 L146.7 35.2 L147.2 35.2 L147.7 35.2 L148.2 35.2 L148.7 35.2 L149.2 35.2 L149.7 35.2 L150.2 35.2 L150.7 35.2 L151.2 35.2 L151.7 35.2 L152.2 35.19 L152.7 35.18 L153.2 35.17 L153.7 35.14 L154.2 35.1 L154.7 35.05 L155.2 34.97 L155.7 34.89 L156.2 34.8 L156.7 34.71 L157.2 34.65 L157.7 34.61 L158.2 34.6 L158.7 34.64 L159.2 34.7 L159.7 34.78 L160.2 34.87 L160.7 34.96 L161.2 35.03 L161.7 35.09 L162.2 35.13 L162.7 35.16 L163.2 35.18 L163.7 35.19 L164.2 35.19 L164.7 35.2 L165.2 35.2 L165.7 35.2 L166.2 35.2 L166.7 35.2 L167.2 35.19 L167.7 35.19 L168.2 35.19 L168.7 35.18 L169.2 35.18 L169.7 35.17 L170.2 35.17 L170.7 35.15 L171.2 35.14 L171.7 35.13 L172.2 35.11 L172.7 35.09 L173.2 35.06 L173.7 35.03 L174.2 35 L174.7 34.96 L175.2 34.91 L175.7 34.86 L176.2 34.81 L176.7 34.75 L177.2 34.68 L177.7 34.61 L178.2 34.54 L178.7 34.46 L179.2 34.38 L179.7 34.3 L180.2 34.21 L180.7 34.12 L181.2 34.02 L181.7 33.92 L182.2 33.82 L182.7 33.71 L183.2 33.59 L183.7 33.46 L184.2 33.32 L184.7 33.16 L185.2 32.99 L185.7 32.8 L186.2 32.59 L186.7 32.36 L187.2 32.11 L187.7 31.83 L188.2 31.53 L188.7 31.21 L189.2 30.87 L189.7 30.51 L190.2 30.14 L190.7 29.75 L191.2 29.35 L191.7 28.95 L192.2 28.54 L192.7 28.14 L193.2 27.76 L193.7 27.38 L194.2 27.03 L194.7 26.71 L195.2 26.43 L195.7 26.18 L196.2 25.98 L196.7 25.82 L197.2 25.72 L197.7 25.67 L198.2 25.67 L198.7 25.78 L199.2 26.01 L199.7 26.34 L200.2 26.76 L200.7 27.25 L201.2 27.81 L201.7 28.42 L202.2 29.05 L202.7 29.69 L203.2 30.32 L203.7 30.94 L204.2 31.52 L204.7 32.06 L205.2 32.56 L205.7 33 L206.2 33.39 L206.7 33.73 L207.2 34.02 L207.7 34.27 L208.2 34.47 L208.7 34.64 L209.2 34.77 L209.7 34.88 L210.2 34.96 L210.7 35.02 L211.2 35.07 L211.7 35.11 L212.2 35.13 L212.7 35.15 L213.2 35.17 L213.7 35.18 L214.2 35.19 L214.7 35.19 L215.2 35.19 L215.7 35.2 L216.2 35.2 L216.7 35.2 L217.2 35.2 L217.7 35.2 L218.2 35.2 L218.7 35.2 L219.2 35.2 L219.7 35.2 L220.2 35.2 L220.7 35.2 L221.2 35.2 L221.7 35.2 L222.2 35.2 L222.7 35.2 L223.2 35.2 L223.6 35.2 Z" fill="#a2a2ad" stroke="none"/>
<path d="M136.7 35.2 L137.2 35.2 L137.7 35.2 L138.2 35.2 L138.7 35.2 L139.2 35.2 L139.7 35.2 L140.2 35.2 L140.7 35.2 L141.2 35.2 L141.7 35.2 L142.2 35.2 L142.7 35.2 L143.2 35.2 L143.7 35.2 L144.2 35.2 L144.7 35.2 L145.2 35.2 L145.7 35.2 L146.2 35.2 L146.7 35.2 L147.2 35.2 L147.7 35.2 L148.2 35.2 L148.7 35.2 L149.2 35.2 L149.7 35.2 L150.2 35.2 L150.7 35.2 L151.2 35.2 L151.7 35.2 L152.2 35.19 L152.7 35.18 L153.2 35.17 L153.7 35.14 L154.2 35.1 L154.7 35.05 L155.2 34.97 L155.7 34.89 L156.2 34.8 L156.7 34.71 L157.2 34.65 L157.7 34.61 L158.2 34.6 L158.7 34.64 L159.2 34.7 L159.7 34.78 L160.2 34.87 L160.7 34.96 L161.2 35.03 L161.7 35.09 L162.2 35.13 L162.7 35.16 L163.2 35.18 L163.7 35.19 L164.2 35.19 L164.7 35.2 L165.2 35.2 L165.7 35.2 L166.2 35.2 L166.7 35.2 L167.2 35.19 L167.7 35.19 L168.2 35.19 L168.7 35.18 L169.2 35.18 L169.7 35.17 L170.2 35.17 L170.7 35.15 L171.2 35.14 L171.7 35.13 L172.2 35.11 L172.7 35.09 L173.2 35.06 L173.7 35.03 L174.2 35 L174.7 34.96 L175.2 34.91 L175.7 34.86 L176.2 34.81 L176.7 34.75 L177.2 34.68 L177.7 34.61 L178.2 34.54 L178.7 34.46 L179.2 34.38 L179.7 34.3 L180.2 34.21 L180.7 34.12 L181.2 34.02 L181.7 33.92 L182.2 33.82 L182.7 33.71 L183.2 33.59 L183.7 33.46 L184.2 33.32 L184.7 33.16 L185.2 32.99 L185.7 32.8 L186.2 32.59 L186.7 32.36 L187.2 32.11 L187.7 31.83 L188.2 31.53 L188.7 31.21 L189.2 30.87 L189.7 30.51 L190.2 30.14 L190.7 29.75 L191.2 29.35 L191.7 28.95 L192.2 28.54 L192.7 28.14 L193.2 27.76 L193.7 27.38 L194.2 27.03 L194.7 26.71 L195.2 26.43 L195.7 26.18 L196.2 25.98 L196.7 25.82 L197.2 25.72 L197.7 25.67 L198.2 25.67 L198.7 25.78 L199.2 26.01 L199.7 26.34 L200.2 26.76 L200.7 27.25 L201.2 27.81 L201.7 28.42 L202.2 29.05 L202.7 29.69 L203.2 30.32 L203.7 30.94 L204.2 31.52 L204.7 32.06 L205.2 32.56 L205.7 33 L206.2 33.39 L206.7 33.73 L207.2 34.02 L207.7 34.27 L208.2 34.47 L208.7 34.64 L209.2 34.77 L209.7 34.88 L210.2 34.96 L210.7 35.02 L211.2 35.07 L211.7 35.11 L212.2 35.13 L212.7 35.15 L213.2 35.17 L213.7 35.18 L214.2 35.19 L214.7 35.19 L215.2 35.19 L215.7 35.2 L216.2 35.2 L216.7 35.2 L217.2 35.2 L217.7 35.2 L218.2 35.2 L218.7 35.2 L219.2 35.2 L219.7 35.2 L220.2 35.2 L220.7 35.2 L221.2 35.2 L221.7 35.2 L222.2 35.2 L222.7 35.2 L223.2 35.2" fill="none" stroke="#3d3d47" stroke-width="1" stroke-linejoin="round"/>
<path d="M136.7 46.88 L136.7 46.88 L137.2 46.88 L137.7 46.88 L138.2 46.88 L138.7 46.88 L139.2 46.88 L139.7 46.88 L140.2 46.88 L140.7 46.88 L141.2 46.88 L141.7 46.88 L142.2 46.88 L142.7 46.88 L143.2 46.88 L143.7 46.88 L144.2 46.88 L144.7 46.88 L145.2 46.88 L145.7 46.88 L146.2 46.88 L146.7 46.88 L147.2 46.88 L147.7 46.88 L148.2 46.88 L148.7 46.88 L149.2 46.88 L149.7 46.88 L150.2 46.88 L150.7 46.88 L151.2 46.88 L151.7 46.88 L152.2 46.88 L152.7 46.87 L153.2 46.86 L153.7 46.81 L154.2 46.66 L154.7 46.31 L155.2 45.59 L155.7 44.37 L156.2 42.67 L156.7 40.78 L157.2 39.26 L157.7 38.68 L158.2 39.12 L158.7 40.31 L159.2 41.91 L159.7 43.51 L160.2 44.83 L160.7 45.77 L161.2 46.32 L161.7 46.57 L162.2 46.59 L162.7 46.42 L163.2 46.14 L163.7 45.92 L164.2 45.89 L164.7 46.04 L165.2 46.27 L165.7 46.51 L166.2 46.69 L166.7 46.8 L167.2 46.85 L167.7 46.87 L168.2 46.88 L168.7 46.88 L169.2 46.88 L169.7 46.88 L170.2 46.88 L170.7 46.88 L171.2 46.88 L171.7 46.88 L172.2 46.88 L172.7 46.88 L173.2 46.88 L173.7 46.88 L174.2 46.88 L174.7 46.88 L175.2 46.88 L175.7 46.88 L176.2 46.88 L176.7 46.88 L177.2 46.88 L177.7 46.88 L178.2 46.88 L178.7 46.88 L179.2 46.88 L179.7 46.88 L180.2 46.88 L180.7 46.88 L181.2 46.88 L181.7 46.88 L182.2 46.88 L182.7 46.88 L183.2 46.88 L183.7 46.88 L184.2 46.88 L184.7 46.88 L185.2 46.88 L185.7 46.88 L186.2 46.88 L186.7 46.88 L187.2 46.88 L187.7 46.88 L188.2 46.88 L188.7 46.88 L189.2 46.88 L189.7 46.88 L190.2 46.88 L190.7 46.88 L191.2 46.88 L191.7 46.88 L192.2 46.88 L192.7 46.88 L193.2 46.88 L193.7 46.88 L194.2 46.88 L194.7 46.88 L195.2 46.88 L195.7 46.88 L196.2 46.88 L196.7 46.88 L197.2 46.88 L197.7 46.88 L198.2 46.88 L198.7 46.88 L199.2 46.88 L199.7 46.88 L200.2 46.88 L200.7 46.88 L201.2 46.88 L201.7 46.88 L202.2 46.88 L202.7 46.88 L203.2 46.88 L203.7 46.88 L204.2 46.88 L204.7 46.88 L205.2 46.88 L205.7 46.88 L206.2 46.88 L206.7 46.88 L207.2 46.88 L207.7 46.88 L208.2 46.88 L208.7 46.88 L209.2 46.88 L209.7 46.88 L210.2 46.88 L210.7 46.88 L211.2 46.88 L211.7 46.88 L212.2 46.88 L212.7 46.88 L213.2 46.88 L213.7 46.88 L214.2 46.88 L214.7 46.88 L215.2 46.88 L215.7 46.88 L216.2 46.88 L216.7 46.88 L217.2 46.88 L217.7 46.88 L218.2 46.88 L218.7 46.88 L219.2 46.88 L219.7 46.88 L220.2 46.88 L220.7 46.88 L221.2 46.88 L221.7 46.88 L222.2 46.88 L222.7 46.88 L223.2 46.88 L223.6 46.88 Z" fill="#a2a2ad" stroke="none"/>
<path d="M136.7 46.88 L137.2 46.88 L137.7 46.88 L138.2 46.88 L138.7 46.88 L139.2 46.88 L139.7 46.88 L140.2 46.88 L140.7 46.88 L141.2 46.88 L141.7 46.88 L142.2 46.88 L142.7 46.88 L143.2 46.88 L143.7 46.88 L144.2 46.88 L144.7 46.88 L145.2 46.88 L145.7 46.88 L146.2 46.88 L146.7 46.88 L147.2 46.88 L147.7 46.88 L148.2 46.88 L148.7 46.88 L149.2 46.88 L149.7 46.88 L150.2 46.88 L150.7 46.88 L151.2 46.88 L151.7 46.88 L152.2 46.88 L152.7 46.87 L153.2 46.86 L153.7 46.81 L154.2 46.66 L154.7 46.31 L155.2 45.59 L155.7 44.37 L156.2 42.67 L156.7 40.78 L157.2 39.26 L157.7 38.68 L158.2 39.12 L158.7 40.31 L159.2 41.91 L159.7 43.51 L160.2 44.83 L160.7 45.77 L161.2 46.32 L161.7 46.57 L162.2 46.59 L162.7 46.42 L163.2 46.14 L163.7 45.92 L164.2 45.89 L164.7 46.04 L165.2 46.27 L165.7 46.51 L166.2 46.69 L166.7 46.8 L167.2 46.85 L167.7 46.87 L168.2 46.88 L168.7 46.88 L169.2 46.88 L169.7 46.88 L170.2 46.88 L170.7 46.88 L171.2 46.88 L171.7 46.88 L172.2 46.88 L172.7 46.88 L173.2 46.88 L173.7 46.88 L174.2 46.88 L174.7 46.88 L175.2 46.88 L175.7 46.88 L176.2 46.88 L176.7 46.88 L177.2 46.88 L177.7 46.88 L178.2 46.88 L178.7 46.88 L179.2 46.88 L179.7 46.88 L180.2 46.88 L180.7 46.88 L181.2 46.88 L181.7 46.88 L182.2 46.88 L182.7 46.88 L183.2 46.88 L183.7 46.88 L184.2 46.88 L184.7 46.88 L185.2 46.88 L185.7 46.88 L186.2 46.88 L186.7 46.88 L187.2 46.88 L187.7 46.88 L188.2 46.88 L188.7 46.88 L189.2 46.88 L189.7 46.88 L190.2 46.88 L190.7 46.88 L191.2 46.88 L191.7 46.88 L192.2 46.88 L192.7 46.88 L193.2 46.88 L193.7 46.88 L194.2 46.88 L194.7 46.88 L195.2 46.88 L195.7 46.88 L196.2 46.88 L196.7 46.88 L197.2 46.88 L197.7 46.88 L198.2 46.88 L198.7 46.88 L199.2 46.88 L199.7 46.88 L200.2 46.88 L200.7 46.88 L201.2 46.88 L201.7 46.88 L202.2 46.88 L202.7 46.88 L203.2 46.88 L203.7 46.88 L204.2 46.88 L204.7 46.88 L205.2 46.88 L205.7 46.88 L206.2 46.88 L206.7 46.88 L207.2 46.88 L207.7 46.88 L208.2 46.88 L208.7 46.88 L209.2 46.88 L209.7 46.88 L210.2 46.88 L210.7 46.88 L211.2 46.88 L211.7 46.88 L212.2 46.88 L212.7 46.88 L213.2 46.88 L213.7 46.88 L214.2 46.88 L214.7 46.88 L215.2 46.88 L215.7 46.88 L216.2 46.88 L216.7 46.88 L217.2 46.88 L217.7 46.88 L218.2 46.88 L218.7 46.88 L219.2 46.88 L219.7 46.88 L220.2 46.88 L220.7 46.88 L221.2 46.88 L221.7 46.88 L222.2 46.88 L222.7 46.88 L223.2 46.88" fill="none" stroke="#3d3d47" stroke-width="1" stroke-linejoin="round"/>
<path d="M136.7 58.56 L136.7 58.56 L137.2 58.56 L137.7 58.56 L138.2 58.56 L138.7 58.56 L139.2 58.56 L139.7 58.56 L140.2 58.56 L140.7 58.56 L141.2 58.56 L141.7 58.56 L142.2 58.56 L142.7 58.56 L143.2 58.56 L143.7 58.56 L144.2 58.56 L144.7 58.56 L145.2 58.56 L145.7 58.56 L146.2 58.56 L146.7 58.56 L147.2 58.56 L147.7 58.56 L148.2 58.56 L148.7 58.56 L149.2 58.56 L149.7 58.56 L150.2 58.56 L150.7 58.56 L151.2 58.55 L151.7 58.54 L152.2 58.51 L152.7 58.46 L153.2 58.36 L153.7 58.18 L154.2 57.86 L154.7 57.36 L155.2 56.62 L155.7 55.62 L156.2 54.37 L156.7 52.94 L157.2 51.48 L157.7 50.17 L158.2 49.23 L158.7 48.8 L159.2 48.85 L159.7 49.14 L160.2 49.63 L160.7 50.29 L161.2 51.08 L161.7 51.94 L162.2 52.83 L162.7 53.7 L163.2 54.52 L163.7 55.25 L164.2 55.88 L164.7 56.41 L165.2 56.83 L165.7 57.15 L166.2 57.39 L166.7 57.56 L167.2 57.67 L167.7 57.74 L168.2 57.78 L168.7 57.79 L169.2 57.79 L169.7 57.79 L170.2 57.78 L170.7 57.77 L171.2 57.76 L171.7 57.76 L172.2 57.76 L172.7 57.76 L173.2 57.76 L173.7 57.77 L174.2 57.77 L174.7 57.77 L175.2 57.78 L175.7 57.79 L176.2 57.8 L176.7 57.8 L177.2 57.81 L177.7 57.82 L178.2 57.83 L178.7 57.85 L179.2 57.86 L179.7 57.87 L180.2 57.89 L180.7 57.9 L181.2 57.92 L181.7 57.93 L182.2 57.95 L182.7 57.96 L183.2 57.98 L183.7 58 L184.2 58.01 L184.7 58.03 L185.2 58.05 L185.7 58.06 L186.2 58.08 L186.7 58.1 L187.2 58.11 L187.7 58.13 L188.2 58.14 L188.7 58.16 L189.2 58.17 L189.7 58.18 L190.2 58.19 L190.7 58.2 L191.2 58.2 L191.7 58.21 L192.2 58.21 L192.7 58.21 L193.2 58.2 L193.7 58.2 L194.2 58.18 L194.7 58.17 L195.2 58.15 L195.7 58.13 L196.2 58.1 L196.7 58.07 L197.2 58.04 L197.7 58.01 L198.2 57.98 L198.7 57.95 L199.2 57.91 L199.7 57.88 L200.2 57.86 L200.7 57.83 L201.2 57.81 L201.7 57.8 L202.2 57.79 L202.7 57.79 L203.2 57.79 L203.7 57.81 L204.2 57.82 L204.7 57.85 L205.2 57.88 L205.7 57.91 L206.2 57.95 L206.7 57.99 L207.2 58.03 L207.7 58.08 L208.2 58.12 L208.7 58.17 L209.2 58.21 L209.7 58.25 L210.2 58.29 L210.7 58.33 L211.2 58.36 L211.7 58.39 L212.2 58.42 L212.7 58.44 L213.2 58.46 L213.7 58.48 L214.2 58.49 L214.7 58.51 L215.2 58.52 L215.7 58.53 L216.2 58.53 L216.7 58.54 L217.2 58.54 L217.7 58.55 L218.2 58.55 L218.7 58.55 L219.2 58.55 L219.7 58.55 L220.2 58.56 L220.7 58.56 L221.2 58.56 L221.7 58.56 L222.2 58.56 L222.7 58.56 L223.2 58.56 L223.6 58.56 Z" fill="#a2a2ad" stroke="none"/>
<path d="M136.7 58.56 L137.2 58.56 L137.7 58.56 L138.2 58.56 L138.7 58.56 L139.2 58.56 L139.7 58.56 L140.2 58.56 L140.7 58.56 L141.2 58.56 L141.7 58.56 L142.2 58.56 L142.7 58.56 L143.2 58.56 L143.7 58.56 L144.2 58.56 L144.7 58.56 L145.2 58.56 L145.7 58.56 L146.2 58.56 L146.7 58.56 L147.2 58.56 L147.7 58.56 L148.2 58.56 L148.7 58.56 L149.2 58.56 L149.7 58.56 L150.2 58.56 L150.7 58.56 L151.2 58.55 L151.7 58.54 L152.2 58.51 L152.7 58.46 L153.2 58.36 L153.7 58.18 L154.2 57.86 L154.7 57.36 L155.2 56.62 L155.7 55.62 L156.2 54.37 L156.7 52.94 L157.2 51.48 L157.7 50.17 L158.2 49.23 L158.7 48.8 L159.2 48.85 L159.7 49.14 L160.2 49.63 L160.7 50.29 L161.2 51.08 L161.7 51.94 L162.2 52.83 L162.7 53.7 L163.2 54.52 L163.7 55.25 L164.2 55.88 L164.7 56.41 L165.2 56.83 L165.7 57.15 L166.2 57.39 L166.7 57.56 L167.2 57.67 L167.7 57.74 L168.2 57.78 L168.7 57.79 L169.2 57.79 L169.7 57.79 L170.2 57.78 L170.7 57.77 L171.2 57.76 L171.7 57.76 L172.2 57.76 L172.7 57.76 L173.2 57.76 L173.7 57.77 L174.2 57.77 L174.7 57.77 L175.2 57.78 L175.7 57.79 L176.2 57.8 L176.7 57.8 L177.2 57.81 L177.7 57.82 L178.2 57.83 L178.7 57.85 L179.2 57.86 L179.7 57.87 L180.2 57.89 L180.7 57.9 L181.2 57.92 L181.7 57.93 L182.2 57.95 L182.7 57.96 L183.2 57.98 L183.7 58 L184.2 58.01 L184.7 58.03 L185.2 58.05 L185.7 58.06 L186.2 58.08 L186.7 58.1 L187.2 58.11 L187.7 58.13 L188.2 58.14 L188.7 58.16 L189.2 58.17 L189.7 58.18 L190.2 58.19 L190.7 58.2 L191.2 58.2 L191.7 58.21 L192.2 58.21 L192.7 58.21 L193.2 58.2 L193.7 58.2 L194.2 58.18 L194.7 58.17 L195.2 58.15 L195.7 58.13 L196.2 58.1 L196.7 58.07 L197.2 58.04 L197.7 58.01 L198.2 57.98 L198.7 57.95 L199.2 57.91 L199.7 57.88 L200.2 57.86 L200.7 57.83 L201.2 57.81 L201.7 57.8 L202.2 57.79 L202.7 57.79 L203.2 57.79 L203.7 57.81 L204.2 57.82 L204.7 57.85 L205.2 57.88 L205.7 57.91 L206.2 57.95 L206.7 57.99 L207.2 58.03 L207.7 58.08 L208.2 58.12 L208.7 58.17 L209.2 58.21 L209.7 58.25 L210.2 58.29 L210.7 58.33 L211.2 58.36 L211.7 58.39 L212.2 58.42 L212.7 58.44 L213.2 58.46 L213.7 58.48 L214.2 58.49 L214.7 58.51 L215.2 58.52 L215.7 58.53 L216.2 58.53 L216.7 58.54 L217.2 58.54 L217.7 58.55 L218.2 58.55 L218.7 58.55 L219.2 58.55 L219.7 58.55 L220.2 58.56 L220.7 58.56 L221.2 58.56 L221.7 58.56 L222.2 58.56 L222.7 58.56 L223.2 58.56" fill="none" stroke="#3d3d47" stroke-width="1" stroke-linejoin="round"/>
<path d="M136.7 70.24 L136.7 70.24 L137.2 70.24 L137.7 70.24 L138.2 70.24 L138.7 70.24 L139.2 70.24 L139.7 70.24 L140.2 70.24 L140.7 70.24 L141.2 70.24 L141.7 70.24 L142.2 70.24 L142.7 70.24 L143.2 70.24 L143.7 70.24 L144.2 70.24 L144.7 70.24 L145.2 70.24 L145.7 70.24 L146.2 70.24 L146.7 70.24 L147.2 70.24 L147.7 70.24 L148.2 70.24 L148.7 70.24 L149.2 70.24 L149.7 70.24 L150.2 70.24 L150.7 70.24 L151.2 70.24 L151.7 70.24 L152.2 70.23 L152.7 70.21 L153.2 70.17 L153.7 70.06 L154.2 69.83 L154.7 69.39 L155.2 68.64 L155.7 67.5 L156.2 65.98 L156.7 64.24 L157.2 62.58 L157.7 61.36 L158.2 60.88 L158.7 60.88 L159.2 60.96 L159.7 61.08 L160.2 61.18 L160.7 61.25 L161.2 61.34 L161.7 61.57 L162.2 62.05 L162.7 63.06 L163.2 65.03 L163.7 66.77 L164.2 67.8 L164.7 68.4 L165.2 68.83 L165.7 69.18 L166.2 69.45 L166.7 69.67 L167.2 69.83 L167.7 69.95 L168.2 70.04 L168.7 70.11 L169.2 70.15 L169.7 70.18 L170.2 70.2 L170.7 70.22 L171.2 70.23 L171.7 70.23 L172.2 70.24 L172.7 70.24 L173.2 70.24 L173.7 70.24 L174.2 70.24 L174.7 70.24 L175.2 70.24 L175.7 70.24 L176.2 70.24 L176.7 70.24 L177.2 70.24 L177.7 70.24 L178.2 70.24 L178.7 70.24 L179.2 70.24 L179.7 70.24 L180.2 70.24 L180.7 70.24 L181.2 70.24 L181.7 70.24 L182.2 70.24 L182.7 70.24 L183.2 70.24 L183.7 70.24 L184.2 70.23 L184.7 70.23 L185.2 70.22 L185.7 70.22 L186.2 70.21 L186.7 70.19 L187.2 70.17 L187.7 70.15 L188.2 70.11 L188.7 70.07 L189.2 70.02 L189.7 69.95 L190.2 69.87 L190.7 69.78 L191.2 69.67 L191.7 69.54 L192.2 69.4 L192.7 69.24 L193.2 69.07 L193.7 68.89 L194.2 68.69 L194.7 68.5 L195.2 68.3 L195.7 68.1 L196.2 67.91 L196.7 67.72 L197.2 67.55 L197.7 67.39 L198.2 67.26 L198.7 67.14 L199.2 67.04 L199.7 66.96 L200.2 66.91 L200.7 66.87 L201.2 66.85 L201.7 66.84 L202.2 66.84 L202.7 66.85 L203.2 66.89 L203.7 66.95 L204.2 67.05 L204.7 67.19 L205.2 67.35 L205.7 67.55 L206.2 67.78 L206.7 68.02 L207.2 68.28 L207.7 68.54 L208.2 68.8 L208.7 69.04 L209.2 69.26 L209.7 69.46 L210.2 69.63 L210.7 69.78 L211.2 69.9 L211.7 69.99 L212.2 70.07 L212.7 70.12 L213.2 70.16 L213.7 70.19 L214.2 70.21 L214.7 70.22 L215.2 70.23 L215.7 70.23 L216.2 70.24 L216.7 70.24 L217.2 70.24 L217.7 70.24 L218.2 70.24 L218.7 70.24 L219.2 70.24 L219.7 70.24 L220.2 70.24 L220.7 70.24 L221.2 70.24 L221.7 70.24 L222.2 70.24 L222.7 70.24 L223.2 70.24 L223.6 70.24 Z" fill="#a2a2ad" stroke="none"/>
<path d="M136.7 70.24 L137.2 70.24 L137.7 70.24 L138.2 70.24 L138.7 70.24 L139.2 70.24 L139.7 70.24 L140.2 70.24 L140.7 70.24 L141.2 70.24 L141.7 70.24 L142.2 70.24 L142.7 70.24 L143.2 70.24 L143.7 70.24 L144.2 70.24 L144.7 70.24 L145.2 70.24 L145.7 70.24 L146.2 70.24 L146.7 70.24 L147.2 70.24 L147.7 70.24 L148.2 70.24 L148.7 70.24 L149.2 70.24 L149.7 70.24 L150.2 70.24 L150.7 70.24 L151.2 70.24 L151.7 70.24 L152.2 70.23 L152.7 70.21 L153.2 70.17 L153.7 70.06 L154.2 69.83 L154.7 69.39 L155.2 68.64 L155.7 67.5 L156.2 65.98 L156.7 64.24 L157.2 62.58 L157.7 61.36 L158.2 60.88 L158.7 60.88 L159.2 60.96 L159.7 61.08 L160.2 61.18 L160.7 61.25 L161.2 61.34 L161.7 61.57 L162.2 62.05 L162.7 63.06 L163.2 65.03 L163.7 66.77 L164.2 67.8 L164.7 68.4 L165.2 68.83 L165.7 69.18 L166.2 69.45 L166.7 69.67 L167.2 69.83 L167.7 69.95 L168.2 70.04 L168.7 70.11 L169.2 70.15 L169.7 70.18 L170.2 70.2 L170.7 70.22 L171.2 70.23 L171.7 70.23 L172.2 70.24 L172.7 70.24 L173.2 70.24 L173.7 70.24 L174.2 70.24 L174.7 70.24 L175.2 70.24 L175.7 70.24 L176.2 70.24 L176.7 70.24 L177.2 70.24 L177.7 70.24 L178.2 70.24 L178.7 70.24 L179.2 70.24 L179.7 70.24 L180.2 70.24 L180.7 70.24 L181.2 70.24 L181.7 70.24 L182.2 70.24 L182.7 70.24 L183.2 70.24 L183.7 70.24 L184.2 70.23 L184.7 70.23 L185.2 70.22 L185.7 70.22 L186.2 70.21 L186.7 70.19 L187.2 70.17 L187.7 70.15 L188.2 70.11 L188.7 70.07 L189.2 70.02 L189.7 69.95 L190.2 69.87 L190.7 69.78 L191.2 69.67 L191.7 69.54 L192.2 69.4 L192.7 69.24 L193.2 69.07 L193.7 68.89 L194.2 68.69 L194.7 68.5 L195.2 68.3 L195.7 68.1 L196.2 67.91 L196.7 67.72 L197.2 67.55 L197.7 67.39 L198.2 67.26 L198.7 67.14 L199.2 67.04 L199.7 66.96 L200.2 66.91 L200.7 66.87 L201.2 66.85 L201.7 66.84 L202.2 66.84 L202.7 66.85 L203.2 66.89 L203.7 66.95 L204.2 67.05 L204.7 67.19 L205.2 67.35 L205.7 67.55 L206.2 67.78 L206.7 68.02 L207.2 68.28 L207.7 68.54 L208.2 68.8 L208.7 69.04 L209.2 69.26 L209.7 69.46 L210.2 69.63 L210.7 69.78 L211.2 69.9 L211.7 69.99 L212.2 70.07 L212.7 70.12 L213.2 70.16 L213.7 70.19 L214.2 70.21 L214.7 70.22 L215.2 70.23 L215.7 70.23 L216.2 70.24 L216.7 70.24 L217.2 70.24 L217.7 70.24 L218.2 70.24 L218.7 70.24 L219.2 70.24 L219.7 70.24 L220.2 70.24 L220.7 70.24 L221.2 70.24 L221.7 70.24 L222.2 70.24 L222.7 70.24 L223.2 70.24" fill="none" stroke="#3d3d47" stroke-width="1" stroke-linejoin="round"/>
<path d="M136.7 81.92 L136.7 81.92 L137.2 81.92 L137.7 81.92 L138.2 81.92 L138.7 81.92 L139.2 81.92 L139.7 81.92 L140.2 81.92 L140.7 81.92 L141.2 81.92 L141.7 81.92 L142.2 81.92 L142.7 81.92 L143.2 81.92 L143.7 81.92 L144.2 81.92 L144.7 81.92 L145.2 81.92 L145.7 81.92 L146.2 81.92 L146.7 81.92 L147.2 81.92 L147.7 81.92 L148.2 81.92 L148.7 81.91 L149.2 81.91 L149.7 81.9 L150.2 81.88 L150.7 81.86 L151.2 81.82 L151.7 81.76 L152.2 81.68 L152.7 81.56 L153.2 81.41 L153.7 81.21 L154.2 80.96 L154.7 80.66 L155.2 80.31 L155.7 79.91 L156.2 79.49 L156.7 79.05 L157.2 78.63 L157.7 78.26 L158.2 77.95 L158.7 77.74 L159.2 77.63 L159.7 77.65 L160.2 77.82 L160.7 78.13 L161.2 78.54 L161.7 79.01 L162.2 79.51 L162.7 80 L163.2 80.44 L163.7 80.82 L164.2 81.14 L164.7 81.38 L165.2 81.56 L165.7 81.69 L166.2 81.78 L166.7 81.84 L167.2 81.87 L167.7 81.89 L168.2 81.91 L168.7 81.91 L169.2 81.92 L169.7 81.92 L170.2 81.92 L170.7 81.92 L171.2 81.92 L171.7 81.92 L172.2 81.92 L172.7 81.92 L173.2 81.92 L173.7 81.92 L174.2 81.92 L174.7 81.92 L175.2 81.92 L175.7 81.92 L176.2 81.92 L176.7 81.91 L177.2 81.91 L177.7 81.91 L178.2 81.9 L178.7 81.89 L179.2 81.88 L179.7 81.86 L180.2 81.83 L180.7 81.8 L181.2 81.76 L181.7 81.71 L182.2 81.64 L182.7 81.56 L183.2 81.46 L183.7 81.34 L184.2 81.19 L184.7 81.01 L185.2 80.81 L185.7 80.58 L186.2 80.31 L186.7 80.01 L187.2 79.69 L187.7 79.33 L188.2 78.94 L188.7 78.53 L189.2 78.1 L189.7 77.65 L190.2 77.19 L190.7 76.74 L191.2 76.28 L191.7 75.83 L192.2 75.41 L192.7 75 L193.2 74.62 L193.7 74.28 L194.2 73.97 L194.7 73.71 L195.2 73.48 L195.7 73.29 L196.2 73.15 L196.7 73.04 L197.2 72.96 L197.7 72.91 L198.2 72.88 L198.7 72.85 L199.2 72.84 L199.7 72.9 L200.2 73.02 L200.7 73.22 L201.2 73.48 L201.7 73.8 L202.2 74.14 L202.7 74.48 L203.2 74.8 L203.7 75.06 L204.2 75.27 L204.7 75.41 L205.2 75.49 L205.7 75.54 L206.2 75.59 L206.7 75.66 L207.2 75.78 L207.7 75.98 L208.2 76.23 L208.7 76.55 L209.2 76.92 L209.7 77.34 L210.2 77.8 L210.7 78.28 L211.2 78.76 L211.7 79.24 L212.2 79.68 L212.7 80.09 L213.2 80.46 L213.7 80.77 L214.2 81.04 L214.7 81.26 L215.2 81.43 L215.7 81.57 L216.2 81.67 L216.7 81.75 L217.2 81.8 L217.7 81.84 L218.2 81.87 L218.7 81.89 L219.2 81.9 L219.7 81.91 L220.2 81.91 L220.7 81.92 L221.2 81.92 L221.7 81.92 L222.2 81.92 L222.7 81.92 L223.2 81.92 L223.6 81.92 Z" fill="#a2a2ad" stroke="none"/>
<path d="M136.7 81.92 L137.2 81.92 L137.7 81.92 L138.2 81.92 L138.7 81.92 L139.2 81.92 L139.7 81.92 L140.2 81.92 L140.7 81.92 L141.2 81.92 L141.7 81.92 L142.2 81.92 L142.7 81.92 L143.2 81.92 L143.7 81.92 L144.2 81.92 L144.7 81.92 L145.2 81.92 L145.7 81.92 L146.2 81.92 L146.7 81.92 L147.2 81.92 L147.7 81.92 L148.2 81.92 L148.7 81.91 L149.2 81.91 L149.7 81.9 L150.2 81.88 L150.7 81.86 L151.2 81.82 L151.7 81.76 L152.2 81.68 L152.7 81.56 L153.2 81.41 L153.7 81.21 L154.2 80.96 L154.7 80.66 L155.2 80.31 L155.7 79.91 L156.2 79.49 L156.7 79.05 L157.2 78.63 L157.7 78.26 L158.2 77.95 L158.7 77.74 L159.2 77.63 L159.7 77.65 L160.2 77.82 L160.7 78.13 L161.2 78.54 L161.7 79.01 L162.2 79.51 L162.7 80 L163.2 80.44 L163.7 80.82 L164.2 81.14 L164.7 81.38 L165.2 81.56 L165.7 81.69 L166.2 81.78 L166.7 81.84 L167.2 81.87 L167.7 81.89 L168.2 81.91 L168.7 81.91 L169.2 81.92 L169.7 81.92 L170.2 81.92 L170.7 81.92 L171.2 81.92 L171.7 81.92 L172.2 81.92 L172.7 81.92 L173.2 81.92 L173.7 81.92 L174.2 81.92 L174.7 81.92 L175.2 81.92 L175.7 81.92 L176.2 81.92 L176.7 81.91 L177.2 81.91 L177.7 81.91 L178.2 81.9 L178.7 81.89 L179.2 81.88 L179.7 81.86 L180.2 81.83 L180.7 81.8 L181.2 81.76 L181.7 81.71 L182.2 81.64 L182.7 81.56 L183.2 81.46 L183.7 81.34 L184.2 81.19 L184.7 81.01 L185.2 80.81 L185.7 80.58 L186.2 80.31 L186.7 80.01 L187.2 79.69 L187.7 79.33 L188.2 78.94 L188.7 78.53 L189.2 78.1 L189.7 77.65 L190.2 77.19 L190.7 76.74 L191.2 76.28 L191.7 75.83 L192.2 75.41 L192.7 75 L193.2 74.62 L193.7 74.28 L194.2 73.97 L194.7 73.71 L195.2 73.48 L195.7 73.29 L196.2 73.15 L196.7 73.04 L197.2 72.96 L197.7 72.91 L198.2 72.88 L198.7 72.85 L199.2 72.84 L199.7 72.9 L200.2 73.02 L200.7 73.22 L201.2 73.48 L201.7 73.8 L202.2 74.14 L202.7 74.48 L203.2 74.8 L203.7 75.06 L204.2 75.27 L204.7 75.41 L205.2 75.49 L205.7 75.54 L206.2 75.59 L206.7 75.66 L207.2 75.78 L207.7 75.98 L208.2 76.23 L208.7 76.55 L209.2 76.92 L209.7 77.34 L210.2 77.8 L210.7 78.28 L211.2 78.76 L211.7 79.24 L212.2 79.68 L212.7 80.09 L213.2 80.46 L213.7 80.77 L214.2 81.04 L214.7 81.26 L215.2 81.43 L215.7 81.57 L216.2 81.67 L216.7 81.75 L217.2 81.8 L217.7 81.84 L218.2 81.87 L218.7 81.89 L219.2 81.9 L219.7 81.91 L220.2 81.91 L220.7 81.92 L221.2 81.92 L221.7 81.92 L222.2 81.92 L222.7 81.92 L223.2 81.92" fill="none" stroke="#3d3d47" stroke-width="1" stroke-linejoin="round"/>
<path d="M136.7 93.6 L136.7 93.6 L137.2 93.6 L137.7 93.6 L138.2 93.6 L138.7 93.6 L139.2 93.6 L139.7 93.6 L140.2 93.6 L140.7 93.6 L141.2 93.6 L141.7 93.6 L142.2 93.6 L142.7 93.6 L143.2 93.6 L143.7 93.6 L144.2 93.6 L144.7 93.6 L145.2 93.6 L145.7 93.6 L146.2 93.6 L146.7 93.6 L147.2 93.6 L147.7 93.6 L148.2 93.6 L148.7 93.6 L149.2 93.6 L149.7 93.6 L150.2 93.6 L150.7 93.6 L151.2 93.6 L151.7 93.6 L152.2 93.6 L152.7 93.6 L153.2 93.6 L153.7 93.6 L154.2 93.59 L154.7 93.56 L155.2 93.52 L155.7 93.42 L156.2 93.27 L156.7 93.04 L157.2 92.75 L157.7 92.45 L158.2 92.22 L158.7 92.1 L159.2 92.15 L159.7 92.35 L160.2 92.63 L160.7 92.93 L161.2 93.18 L161.7 93.37 L162.2 93.49 L162.7 93.55 L163.2 93.58 L163.7 93.59 L164.2 93.6 L164.7 93.6 L165.2 93.6 L165.7 93.6 L166.2 93.6 L166.7 93.6 L167.2 93.6 L167.7 93.6 L168.2 93.6 L168.7 93.6 L169.2 93.6 L169.7 93.6 L170.2 93.6 L170.7 93.6 L171.2 93.6 L171.7 93.6 L172.2 93.6 L172.7 93.6 L173.2 93.6 L173.7 93.6 L174.2 93.59 L174.7 93.59 L175.2 93.59 L175.7 93.58 L176.2 93.57 L176.7 93.56 L177.2 93.54 L177.7 93.52 L178.2 93.49 L178.7 93.46 L179.2 93.41 L179.7 93.35 L180.2 93.27 L180.7 93.17 L181.2 93.06 L181.7 92.91 L182.2 92.74 L182.7 92.53 L183.2 92.29 L183.7 92 L184.2 91.68 L184.7 91.31 L185.2 90.9 L185.7 90.45 L186.2 89.96 L186.7 89.43 L187.2 88.88 L187.7 88.3 L188.2 87.72 L188.7 87.13 L189.2 86.56 L189.7 86.01 L190.2 85.5 L190.7 85.04 L191.2 84.65 L191.7 84.33 L192.2 84.09 L192.7 83.95 L193.2 83.9 L193.7 83.97 L194.2 84.17 L194.7 84.5 L195.2 84.94 L195.7 85.47 L196.2 86.08 L196.7 86.75 L197.2 87.44 L197.7 88.14 L198.2 88.82 L198.7 89.48 L199.2 90.1 L199.7 90.67 L200.2 91.18 L200.7 91.63 L201.2 92.02 L201.7 92.35 L202.2 92.62 L202.7 92.85 L203.2 93.03 L203.7 93.17 L204.2 93.29 L204.7 93.37 L205.2 93.44 L205.7 93.48 L206.2 93.52 L206.7 93.54 L207.2 93.56 L207.7 93.57 L208.2 93.58 L208.7 93.59 L209.2 93.59 L209.7 93.6 L210.2 93.6 L210.7 93.6 L211.2 93.6 L211.7 93.6 L212.2 93.6 L212.7 93.6 L213.2 93.6 L213.7 93.6 L214.2 93.6 L214.7 93.6 L215.2 93.6 L215.7 93.6 L216.2 93.6 L216.7 93.6 L217.2 93.6 L217.7 93.6 L218.2 93.6 L218.7 93.6 L219.2 93.6 L219.7 93.6 L220.2 93.6 L220.7 93.6 L221.2 93.6 L221.7 93.6 L222.2 93.6 L222.7 93.6 L223.2 93.6 L223.6 93.6 Z" fill="#a2a2ad" stroke="none"/>
<path d="M136.7 93.6 L137.2 93.6 L137.7 93.6 L138.2 93.6 L138.7 93.6 L139.2 93.6 L139.7 93.6 L140.2 93.6 L140.7 93.6 L141.2 93.6 L141.7 93.6 L142.2 93.6 L142.7 93.6 L143.2 93.6 L143.7 93.6 L144.2 93.6 L144.7 93.6 L145.2 93.6 L145.7 93.6 L146.2 93.6 L146.7 93.6 L147.2 93.6 L147.7 93.6 L148.2 93.6 L148.7 93.6 L149.2 93.6 L149.7 93.6 L150.2 93.6 L150.7 93.6 L151.2 93.6 L151.7 93.6 L152.2 93.6 L152.7 93.6 L153.2 93.6 L153.7 93.6 L154.2 93.59 L154.7 93.56 L155.2 93.52 L155.7 93.42 L156.2 93.27 L156.7 93.04 L157.2 92.75 L157.7 92.45 L158.2 92.22 L158.7 92.1 L159.2 92.15 L159.7 92.35 L160.2 92.63 L160.7 92.93 L161.2 93.18 L161.7 93.37 L162.2 93.49 L162.7 93.55 L163.2 93.58 L163.7 93.59 L164.2 93.6 L164.7 93.6 L165.2 93.6 L165.7 93.6 L166.2 93.6 L166.7 93.6 L167.2 93.6 L167.7 93.6 L168.2 93.6 L168.7 93.6 L169.2 93.6 L169.7 93.6 L170.2 93.6 L170.7 93.6 L171.2 93.6 L171.7 93.6 L172.2 93.6 L172.7 93.6 L173.2 93.6 L173.7 93.6 L174.2 93.59 L174.7 93.59 L175.2 93.59 L175.7 93.58 L176.2 93.57 L176.7 93.56 L177.2 93.54 L177.7 93.52 L178.2 93.49 L178.7 93.46 L179.2 93.41 L179.7 93.35 L180.2 93.27 L180.7 93.17 L181.2 93.06 L181.7 92.91 L182.2 92.74 L182.7 92.53 L183.2 92.29 L183.7 92 L184.2 91.68 L184.7 91.31 L185.2 90.9 L185.7 90.45 L186.2 89.96 L186.7 89.43 L187.2 88.88 L187.7 88.3 L188.2 87.72 L188.7 87.13 L189.2 86.56 L189.7 86.01 L190.2 85.5 L190.7 85.04 L191.2 84.65 L191.7 84.33 L192.2 84.09 L192.7 83.95 L193.2 83.9 L193.7 83.97 L194.2 84.17 L194.7 84.5 L195.2 84.94 L195.7 85.47 L196.2 86.08 L196.7 86.75 L197.2 87.44 L197.7 88.14 L198.2 88.82 L198.7 89.48 L199.2 90.1 L199.7 90.67 L200.2 91.18 L200.7 91.63 L201.2 92.02 L201.7 92.35 L202.2 92.62 L202.7 92.85 L203.2 93.03 L203.7 93.17 L204.2 93.29 L204.7 93.37 L205.2 93.44 L205.7 93.48 L206.2 93.52 L206.7 93.54 L207.2 93.56 L207.7 93.57 L208.2 93.58 L208.7 93.59 L209.2 93.59 L209.7 93.6 L210.2 93.6 L210.7 93.6 L211.2 93.6 L211.7 93.6 L212.2 93.6 L212.7 93.6 L213.2 93.6 L213.7 93.6 L214.2 93.6 L214.7 93.6 L215.2 93.6 L215.7 93.6 L216.2 93.6 L216.7 93.6 L217.2 93.6 L217.7 93.6 L218.2 93.6 L218.7 93.6 L219.2 93.6 L219.7 93.6 L220.2 93.6 L220.7 93.6 L221.2 93.6 L221.7 93.6 L222.2 93.6 L222.7 93.6 L223.2 93.6" fill="none" stroke="#3d3d47" stroke-width="1" stroke-linejoin="round"/>
<path d="M136.7 105.28 L136.7 105.28 L137.2 105.28 L137.7 105.28 L138.2 105.28 L138.7 105.28 L139.2 105.28 L139.7 105.28 L140.2 105.28 L140.7 105.28 L141.2 105.28 L141.7 105.28 L142.2 105.28 L142.7 105.28 L143.2 105.28 L143.7 105.28 L144.2 105.28 L144.7 105.28 L145.2 105.28 L145.7 105.28 L146.2 105.28 L146.7 105.28 L147.2 105.28 L147.7 105.28 L148.2 105.28 L148.7 105.28 L149.2 105.28 L149.7 105.28 L150.2 105.28 L150.7 105.28 L151.2 105.28 L151.7 105.28 L152.2 105.28 L152.7 105.28 L153.2 105.28 L153.7 105.27 L154.2 105.26 L154.7 105.23 L155.2 105.17 L155.7 105.09 L156.2 104.99 L156.7 104.87 L157.2 104.76 L157.7 104.69 L158.2 104.69 L158.7 104.74 L159.2 104.84 L159.7 104.96 L160.2 105.08 L160.7 105.16 L161.2 105.22 L161.7 105.25 L162.2 105.27 L162.7 105.28 L163.2 105.28 L163.7 105.28 L164.2 105.28 L164.7 105.28 L165.2 105.28 L165.7 105.28 L166.2 105.28 L166.7 105.28 L167.2 105.28 L167.7 105.28 L168.2 105.28 L168.7 105.28 L169.2 105.28 L169.7 105.28 L170.2 105.28 L170.7 105.28 L171.2 105.27 L171.7 105.27 L172.2 105.26 L172.7 105.26 L173.2 105.25 L173.7 105.24 L174.2 105.22 L174.7 105.2 L175.2 105.17 L175.7 105.13 L176.2 105.08 L176.7 105.02 L177.2 104.94 L177.7 104.84 L178.2 104.71 L178.7 104.56 L179.2 104.38 L179.7 104.16 L180.2 103.9 L180.7 103.6 L181.2 103.26 L181.7 102.87 L182.2 102.43 L182.7 101.94 L183.2 101.41 L183.7 100.84 L184.2 100.24 L184.7 99.62 L185.2 98.98 L185.7 98.34 L186.2 97.71 L186.7 97.1 L187.2 96.53 L187.7 96.02 L188.2 95.57 L188.7 95.21 L189.2 94.93 L189.7 94.76 L190.2 94.68 L190.7 94.73 L191.2 94.92 L191.7 95.25 L192.2 95.71 L192.7 96.28 L193.2 96.93 L193.7 97.64 L194.2 98.39 L194.7 99.16 L195.2 99.91 L195.7 100.64 L196.2 101.33 L196.7 101.96 L197.2 102.53 L197.7 103.04 L198.2 103.47 L198.7 103.85 L199.2 104.16 L199.7 104.41 L200.2 104.62 L200.7 104.79 L201.2 104.91 L201.7 105.01 L202.2 105.09 L202.7 105.14 L203.2 105.19 L203.7 105.21 L204.2 105.24 L204.7 105.25 L205.2 105.26 L205.7 105.27 L206.2 105.27 L206.7 105.27 L207.2 105.28 L207.7 105.28 L208.2 105.28 L208.7 105.28 L209.2 105.28 L209.7 105.28 L210.2 105.28 L210.7 105.28 L211.2 105.28 L211.7 105.28 L212.2 105.28 L212.7 105.28 L213.2 105.28 L213.7 105.28 L214.2 105.28 L214.7 105.28 L215.2 105.28 L215.7 105.28 L216.2 105.28 L216.7 105.28 L217.2 105.28 L217.7 105.28 L218.2 105.28 L218.7 105.28 L219.2 105.28 L219.7 105.28 L220.2 105.28 L220.7 105.28 L221.2 105.28 L221.7 105.28 L222.2 105.28 L222.7 105.28 L223.2 105.28 L223.6 105.28 Z" fill="#a2a2ad" stroke="none"/>
<path d="M136.7 105.28 L137.2 105.28 L137.7 105.28 L138.2 105.28 L138.7 105.28 L139.2 105.28 L139.7 105.28 L140.2 105.28 L140.7 105.28 L141.2 105.28 L141.7 105.28 L142.2 105.28 L142.7 105.28 L143.2 105.28 L143.7 105.28 L144.2 105.28 L144.7 105.28 L145.2 105.28 L145.7 105.28 L146.2 105.28 L146.7 105.28 L147.2 105.28 L147.7 105.28 L148.2 105.28 L148.7 105.28 L149.2 105.28 L149.7 105.28 L150.2 105.28 L150.7 105.28 L151.2 105.28 L151.7 105.28 L152.2 105.28 L152.7 105.28 L153.2 105.28 L153.7 105.27 L154.2 105.26 L154.7 105.23 L155.2 105.17 L155.7 105.09 L156.2 104.99 L156.7 104.87 L157.2 104.76 L157.7 104.69 L158.2 104.69 L158.7 104.74 L159.2 104.84 L159.7 104.96 L160.2 105.08 L160.7 105.16 L161.2 105.22 L161.7 105.25 L162.2 105.27 L162.7 105.28 L163.2 105.28 L163.7 105.28 L164.2 105.28 L164.7 105.28 L165.2 105.28 L165.7 105.28 L166.2 105.28 L166.7 105.28 L167.2 105.28 L167.7 105.28 L168.2 105.28 L168.7 105.28 L169.2 105.28 L169.7 105.28 L170.2 105.28 L170.7 105.28 L171.2 105.27 L171.7 105.27 L172.2 105.26 L172.7 105.26 L173.2 105.25 L173.7 105.24 L174.2 105.22 L174.7 105.2 L175.2 105.17 L175.7 105.13 L176.2 105.08 L176.7 105.02 L177.2 104.94 L177.7 104.84 L178.2 104.71 L178.7 104.56 L179.2 104.38 L179.7 104.16 L180.2 103.9 L180.7 103.6 L181.2 103.26 L181.7 102.87 L182.2 102.43 L182.7 101.94 L183.2 101.41 L183.7 100.84 L184.2 100.24 L184.7 99.62 L185.2 98.98 L185.7 98.34 L186.2 97.71 L186.7 97.1 L187.2 96.53 L187.7 96.02 L188.2 95.57 L188.7 95.21 L189.2 94.93 L189.7 94.76 L190.2 94.68 L190.7 94.73 L191.2 94.92 L191.7 95.25 L192.2 95.71 L192.7 96.28 L193.2 96.93 L193.7 97.64 L194.2 98.39 L194.7 99.16 L195.2 99.91 L195.7 100.64 L196.2 101.33 L196.7 101.96 L197.2 102.53 L197.7 103.04 L198.2 103.47 L198.7 103.85 L199.2 104.16 L199.7 104.41 L200.2 104.62 L200.7 104.79 L201.2 104.91 L201.7 105.01 L202.2 105.09 L202.7 105.14 L203.2 105.19 L203.7 105.21 L204.2 105.24 L204.7 105.25 L205.2 105.26 L205.7 105.27 L206.2 105.27 L206.7 105.27 L207.2 105.28 L207.7 105.28 L208.2 105.28 L208.7 105.28 L209.2 105.28 L209.7 105.28 L210.2 105.28 L210.7 105.28 L211.2 105.28 L211.7 105.28 L212.2 105.28 L212.7 105.28 L213.2 105.28 L213.7 105.28 L214.2 105.28 L214.7 105.28 L215.2 105.28 L215.7 105.28 L216.2 105.28 L216.7 105.28 L217.2 105.28 L217.7 105.28 L218.2 105.28 L218.7 105.28 L219.2 105.28 L219.7 105.28 L220.2 105.28 L220.7 105.28 L221.2 105.28 L221.7 105.28 L222.2 105.28 L222.7 105.28 L223.2 105.28" fill="none" stroke="#3d3d47" stroke-width="1" stroke-linejoin="round"/>
<path d="M136.7 116.96 L136.7 116.96 L137.2 116.96 L137.7 116.96 L138.2 116.96 L138.7 116.96 L139.2 116.96 L139.7 116.96 L140.2 116.96 L140.7 116.96 L141.2 116.96 L141.7 116.96 L142.2 116.96 L142.7 116.96 L143.2 116.96 L143.7 116.96 L144.2 116.96 L144.7 116.96 L145.2 116.96 L145.7 116.96 L146.2 116.96 L146.7 116.96 L147.2 116.96 L147.7 116.96 L148.2 116.96 L148.7 116.96 L149.2 116.96 L149.7 116.96 L150.2 116.96 L150.7 116.96 L151.2 116.96 L151.7 116.96 L152.2 116.96 L152.7 116.96 L153.2 116.96 L153.7 116.96 L154.2 116.96 L154.7 116.96 L155.2 116.96 L155.7 116.96 L156.2 116.96 L156.7 116.96 L157.2 116.96 L157.7 116.96 L158.2 116.96 L158.7 116.96 L159.2 116.96 L159.7 116.96 L160.2 116.96 L160.7 116.96 L161.2 116.96 L161.7 116.96 L162.2 116.96 L162.7 116.96 L163.2 116.96 L163.7 116.96 L164.2 116.96 L164.7 116.96 L165.2 116.96 L165.7 116.96 L166.2 116.96 L166.7 116.96 L167.2 116.96 L167.7 116.96 L168.2 116.96 L168.7 116.96 L169.2 116.96 L169.7 116.96 L170.2 116.96 L170.7 116.96 L171.2 116.96 L171.7 116.96 L172.2 116.96 L172.7 116.96 L173.2 116.96 L173.7 116.96 L174.2 116.96 L174.7 116.96 L175.2 116.96 L175.7 116.96 L176.2 116.95 L176.7 116.95 L177.2 116.94 L177.7 116.93 L178.2 116.92 L178.7 116.9 L179.2 116.88 L179.7 116.84 L180.2 116.79 L180.7 116.72 L181.2 116.64 L181.7 116.52 L182.2 116.37 L182.7 116.19 L183.2 115.95 L183.7 115.67 L184.2 115.33 L184.7 114.93 L185.2 114.47 L185.7 113.94 L186.2 113.36 L186.7 112.72 L187.2 112.04 L187.7 111.33 L188.2 110.61 L188.7 109.89 L189.2 109.21 L189.7 108.58 L190.2 108.03 L190.7 107.58 L191.2 107.24 L191.7 107.03 L192.2 106.96 L192.7 107.06 L193.2 107.34 L193.7 107.79 L194.2 108.39 L194.7 109.1 L195.2 109.89 L195.7 110.73 L196.2 111.57 L196.7 112.38 L197.2 113.15 L197.7 113.85 L198.2 114.47 L198.7 115 L199.2 115.45 L199.7 115.82 L200.2 116.11 L200.7 116.34 L201.2 116.52 L201.7 116.65 L202.2 116.75 L202.7 116.82 L203.2 116.87 L203.7 116.9 L204.2 116.92 L204.7 116.94 L205.2 116.95 L205.7 116.95 L206.2 116.95 L206.7 116.96 L207.2 116.96 L207.7 116.96 L208.2 116.96 L208.7 116.96 L209.2 116.96 L209.7 116.96 L210.2 116.96 L210.7 116.96 L211.2 116.96 L211.7 116.96 L212.2 116.96 L212.7 116.96 L213.2 116.96 L213.7 116.96 L214.2 116.96 L214.7 116.96 L215.2 116.96 L215.7 116.96 L216.2 116.96 L216.7 116.96 L217.2 116.96 L217.7 116.96 L218.2 116.96 L218.7 116.96 L219.2 116.96 L219.7 116.96 L220.2 116.96 L220.7 116.96 L221.2 116.96 L221.7 116.96 L222.2 116.96 L222.7 116.96 L223.2 116.96 L223.6 116.96 Z" fill="#a2a2ad" stroke="none"/>
<path d="M136.7 116.96 L137.2 116.96 L137.7 116.96 L138.2 116.96 L138.7 116.96 L139.2 116.96 L139.7 116.96 L140.2 116.96 L140.7 116.96 L141.2 116.96 L141.7 116.96 L142.2 116.96 L142.7 116.96 L143.2 116.96 L143.7 116.96 L144.2 116.96 L144.7 116.96 L145.2 116.96 L145.7 116.96 L146.2 116.96 L146.7 116.96 L147.2 116.96 L147.7 116.96 L148.2 116.96 L148.7 116.96 L149.2 116.96 L149.7 116.96 L150.2 116.96 L150.7 116.96 L151.2 116.96 L151.7 116.96 L152.2 116.96 L152.7 116.96 L153.2 116.96 L153.7 116.96 L154.2 116.96 L154.7 116.96 L155.2 116.96 L155.7 116.96 L156.2 116.96 L156.7 116.96 L157.2 116.96 L157.7 116.96 L158.2 116.96 L158.7 116.96 L159.2 116.96 L159.7 116.96 L160.2 116.96 L160.7 116.96 L161.2 116.96 L161.7 116.96 L162.2 116.96 L162.7 116.96 L163.2 116.96 L163.7 116.96 L164.2 116.96 L164.7 116.96 L165.2 116.96 L165.7 116.96 L166.2 116.96 L166.7 116.96 L167.2 116.96 L167.7 116.96 L168.2 116.96 L168.7 116.96 L169.2 116.96 L169.7 116.96 L170.2 116.96 L170.7 116.96 L171.2 116.96 L171.7 116.96 L172.2 116.96 L172.7 116.96 L173.2 116.96 L173.7 116.96 L174.2 116.96 L174.7 116.96 L175.2 116.96 L175.7 116.96 L176.2 116.95 L176.7 116.95 L177.2 116.94 L177.7 116.93 L178.2 116.92 L178.7 116.9 L179.2 116.88 L179.7 116.84 L180.2 116.79 L180.7 116.72 L181.2 116.64 L181.7 116.52 L182.2 116.37 L182.7 116.19 L183.2 115.95 L183.7 115.67 L184.2 115.33 L184.7 114.93 L185.2 114.47 L185.7 113.94 L186.2 113.36 L186.7 112.72 L187.2 112.04 L187.7 111.33 L188.2 110.61 L188.7 109.89 L189.2 109.21 L189.7 108.58 L190.2 108.03 L190.7 107.58 L191.2 107.24 L191.7 107.03 L192.2 106.96 L192.7 107.06 L193.2 107.34 L193.7 107.79 L194.2 108.39 L194.7 109.1 L195.2 109.89 L195.7 110.73 L196.2 111.57 L196.7 112.38 L197.2 113.15 L197.7 113.85 L198.2 114.47 L198.7 115 L199.2 115.45 L199.7 115.82 L200.2 116.11 L200.7 116.34 L201.2 116.52 L201.7 116.65 L202.2 116.75 L202.7 116.82 L203.2 116.87 L203.7 116.9 L204.2 116.92 L204.7 116.94 L205.2 116.95 L205.7 116.95 L206.2 116.95 L206.7 116.96 L207.2 116.96 L207.7 116.96 L208.2 116.96 L208.7 116.96 L209.2 116.96 L209.7 116.96 L210.2 116.96 L210.7 116.96 L211.2 116.96 L211.7 116.96 L212.2 116.96 L212.7 116.96 L213.2 116.96 L213.7 116.96 L214.2 116.96 L214.7 116.96 L215.2 116.96 L215.7 116.96 L216.2 116.96 L216.7 116.96 L217.2 116.96 L217.7 116.96 L218.2 116.96 L218.7 116.96 L219.2 116.96 L219.7 116.96 L220.2 116.96 L220.7 116.96 L221.2 116.96 L221.7 116.96 L222.2 116.96 L222.7 116.96 L223.2 116.96" fill="none" stroke="#3d3d47" stroke-width="1" stroke-linejoin="round"/>
<line x1="163.9" y1="24" x2="163.9" y2="116.96" stroke="#6a6a6a" stroke-width="1.4" stroke-dasharray="7 10.5" stroke-dashoffset="16.6"/>
<path d="M136.2 116.96 V24 H224.1 V116.96" fill="none" stroke="#1a1a1a" stroke-width="1.1"/>
<path d="M48 174.5 L48 174.5 L48.5 174.5 L49 174.5 L49.5 174.5 L50 174.5 L50.5 174.5 L51 174.5 L51.5 174.5 L52 174.5 L52.5 174.5 L53 174.5 L53.5 174.5 L54 174.5 L54.5 174.49 L55 174.49 L55.5 174.49 L56 174.48 L56.5 174.48 L57 174.47 L57.5 174.46 L58 174.45 L58.5 174.44 L59 174.42 L59.5 174.39 L60 174.37 L60.5 174.33 L61 174.29 L61.5 174.23 L62 174.17 L62.5 174.09 L63 174.01 L63.5 173.9 L64 173.78 L64.5 173.64 L65 173.47 L65.5 173.29 L66 173.08 L66.5 172.85 L67 172.59 L67.5 172.31 L68 172 L68.5 171.67 L69 171.31 L69.5 170.92 L70 170.52 L70.5 170.1 L71 169.67 L71.5 169.22 L72 168.77 L72.5 168.31 L73 167.86 L73.5 167.42 L74 166.99 L74.5 166.58 L75 166.19 L75.5 165.83 L76 165.5 L76.5 165.21 L77 164.95 L77.5 164.74 L78 164.56 L78.5 164.43 L79 164.34 L79.5 164.29 L80 164.27 L80.5 164.27 L81 164.27 L81.5 164.28 L82 164.3 L82.5 164.34 L83 164.38 L83.5 164.42 L84 164.48 L84.5 164.55 L85 164.63 L85.5 164.72 L86 164.81 L86.5 164.92 L87 165.03 L87.5 165.15 L88 165.27 L88.5 165.41 L89 165.55 L89.5 165.7 L90 165.86 L90.5 166.02 L91 166.19 L91.5 166.37 L92 166.56 L92.5 166.75 L93 166.95 L93.5 167.15 L94 167.37 L94.5 167.59 L95 167.81 L95.5 168.05 L96 168.28 L96.5 168.53 L97 168.77 L97.5 169.01 L98 169.25 L98.5 169.5 L99 169.74 L99.5 169.97 L100 170.21 L100.5 170.44 L101 170.67 L101.5 170.89 L102 171.1 L102.5 171.32 L103 171.52 L103.5 171.72 L104 171.91 L104.5 172.09 L105 172.27 L105.5 172.43 L106 172.59 L106.5 172.74 L107 172.89 L107.5 173.02 L108 173.15 L108.5 173.27 L109 173.38 L109.5 173.48 L110 173.58 L110.5 173.67 L111 173.75 L111.5 173.83 L112 173.9 L112.5 173.96 L113 174.02 L113.5 174.07 L114 174.12 L114.5 174.16 L115 174.2 L115.5 174.24 L116 174.27 L116.5 174.3 L117 174.32 L117.5 174.34 L118 174.36 L118.5 174.38 L119 174.4 L119.5 174.41 L120 174.42 L120.5 174.43 L121 174.44 L121.5 174.45 L122 174.46 L122.5 174.46 L123 174.47 L123.5 174.47 L124 174.48 L124.5 174.48 L125 174.48 L125.5 174.49 L126 174.49 L126.5 174.49 L127 174.49 L127.5 174.49 L128 174.49 L128.5 174.5 L129 174.5 L129.5 174.5 L130 174.5 L130.5 174.5 L131 174.5 L131.5 174.5 L132 174.5 L132.5 174.5 L133 174.5 L133.5 174.5 L134 174.5 L134.5 174.5 L135 174.5 L135.5 174.5 L135.7 174.5 Z" fill="#d79185" stroke="none"/>
<path d="M48 174.5 L48.5 174.5 L49 174.5 L49.5 174.5 L50 174.5 L50.5 174.5 L51 174.5 L51.5 174.5 L52 174.5 L52.5 174.5 L53 174.5 L53.5 174.5 L54 174.5 L54.5 174.49 L55 174.49 L55.5 174.49 L56 174.48 L56.5 174.48 L57 174.47 L57.5 174.46 L58 174.45 L58.5 174.44 L59 174.42 L59.5 174.39 L60 174.37 L60.5 174.33 L61 174.29 L61.5 174.23 L62 174.17 L62.5 174.09 L63 174.01 L63.5 173.9 L64 173.78 L64.5 173.64 L65 173.47 L65.5 173.29 L66 173.08 L66.5 172.85 L67 172.59 L67.5 172.31 L68 172 L68.5 171.67 L69 171.31 L69.5 170.92 L70 170.52 L70.5 170.1 L71 169.67 L71.5 169.22 L72 168.77 L72.5 168.31 L73 167.86 L73.5 167.42 L74 166.99 L74.5 166.58 L75 166.19 L75.5 165.83 L76 165.5 L76.5 165.21 L77 164.95 L77.5 164.74 L78 164.56 L78.5 164.43 L79 164.34 L79.5 164.29 L80 164.27 L80.5 164.27 L81 164.27 L81.5 164.28 L82 164.3 L82.5 164.34 L83 164.38 L83.5 164.42 L84 164.48 L84.5 164.55 L85 164.63 L85.5 164.72 L86 164.81 L86.5 164.92 L87 165.03 L87.5 165.15 L88 165.27 L88.5 165.41 L89 165.55 L89.5 165.7 L90 165.86 L90.5 166.02 L91 166.19 L91.5 166.37 L92 166.56 L92.5 166.75 L93 166.95 L93.5 167.15 L94 167.37 L94.5 167.59 L95 167.81 L95.5 168.05 L96 168.28 L96.5 168.53 L97 168.77 L97.5 169.01 L98 169.25 L98.5 169.5 L99 169.74 L99.5 169.97 L100 170.21 L100.5 170.44 L101 170.67 L101.5 170.89 L102 171.1 L102.5 171.32 L103 171.52 L103.5 171.72 L104 171.91 L104.5 172.09 L105 172.27 L105.5 172.43 L106 172.59 L106.5 172.74 L107 172.89 L107.5 173.02 L108 173.15 L108.5 173.27 L109 173.38 L109.5 173.48 L110 173.58 L110.5 173.67 L111 173.75 L111.5 173.83 L112 173.9 L112.5 173.96 L113 174.02 L113.5 174.07 L114 174.12 L114.5 174.16 L115 174.2 L115.5 174.24 L116 174.27 L116.5 174.3 L117 174.32 L117.5 174.34 L118 174.36 L118.5 174.38 L119 174.4 L119.5 174.41 L120 174.42 L120.5 174.43 L121 174.44 L121.5 174.45 L122 174.46 L122.5 174.46 L123 174.47 L123.5 174.47 L124 174.48 L124.5 174.48 L125 174.48 L125.5 174.49 L126 174.49 L126.5 174.49 L127 174.49 L127.5 174.49 L128 174.49 L128.5 174.5 L129 174.5 L129.5 174.5 L130 174.5 L130.5 174.5 L131 174.5 L131.5 174.5 L132 174.5 L132.5 174.5 L133 174.5 L133.5 174.5 L134 174.5 L134.5 174.5 L135 174.5 L135.5 174.5" fill="none" stroke="#7e1528" stroke-width="1.3" stroke-linejoin="round"/>
<path d="M48 186.13 L48 186.13 L48.5 186.13 L49 186.13 L49.5 186.13 L50 186.13 L50.5 186.13 L51 186.13 L51.5 186.13 L52 186.13 L52.5 186.13 L53 186.13 L53.5 186.13 L54 186.13 L54.5 186.13 L55 186.13 L55.5 186.13 L56 186.13 L56.5 186.13 L57 186.13 L57.5 186.13 L58 186.13 L58.5 186.13 L59 186.13 L59.5 186.13 L60 186.13 L60.5 186.13 L61 186.13 L61.5 186.12 L62 186.12 L62.5 186.12 L63 186.11 L63.5 186.08 L64 186.03 L64.5 185.91 L65 185.68 L65.5 185.24 L66 184.52 L66.5 183.43 L67 181.96 L67.5 180.19 L68 178.36 L68.5 176.77 L69 175.76 L69.5 175.49 L70 175.6 L70.5 175.99 L71 176.61 L71.5 177.38 L72 178.25 L72.5 179.14 L73 180.02 L73.5 180.82 L74 181.53 L74.5 182.13 L75 182.61 L75.5 182.98 L76 183.26 L76.5 183.48 L77 183.64 L77.5 183.76 L78 183.86 L78.5 183.94 L79 184.01 L79.5 184.07 L80 184.12 L80.5 184.18 L81 184.23 L81.5 184.28 L82 184.33 L82.5 184.37 L83 184.41 L83.5 184.44 L84 184.47 L84.5 184.49 L85 184.51 L85.5 184.53 L86 184.54 L86.5 184.55 L87 184.56 L87.5 184.57 L88 184.59 L88.5 184.6 L89 184.61 L89.5 184.62 L90 184.63 L90.5 184.64 L91 184.66 L91.5 184.67 L92 184.69 L92.5 184.7 L93 184.72 L93.5 184.73 L94 184.75 L94.5 184.77 L95 184.79 L95.5 184.8 L96 184.82 L96.5 184.84 L97 184.86 L97.5 184.88 L98 184.9 L98.5 184.92 L99 184.94 L99.5 184.96 L100 184.99 L100.5 185.01 L101 185.03 L101.5 185.05 L102 185.07 L102.5 185.09 L103 185.12 L103.5 185.14 L104 185.16 L104.5 185.18 L105 185.2 L105.5 185.23 L106 185.25 L106.5 185.27 L107 185.29 L107.5 185.31 L108 185.33 L108.5 185.36 L109 185.38 L109.5 185.4 L110 185.42 L110.5 185.44 L111 185.46 L111.5 185.48 L112 185.5 L112.5 185.52 L113 185.54 L113.5 185.56 L114 185.57 L114.5 185.59 L115 185.61 L115.5 185.63 L116 185.65 L116.5 185.66 L117 185.68 L117.5 185.69 L118 185.71 L118.5 185.73 L119 185.74 L119.5 185.76 L120 185.77 L120.5 185.78 L121 185.8 L121.5 185.81 L122 185.82 L122.5 185.84 L123 185.85 L123.5 185.86 L124 185.87 L124.5 185.88 L125 185.89 L125.5 185.9 L126 185.91 L126.5 185.92 L127 185.93 L127.5 185.94 L128 185.95 L128.5 185.96 L129 185.97 L129.5 185.97 L130 185.98 L130.5 185.99 L131 186 L131.5 186 L132 186.01 L132.5 186.02 L133 186.02 L133.5 186.03 L134 186.03 L134.5 186.04 L135 186.04 L135.5 186.05 L135.7 186.13 Z" fill="#d79185" stroke="none"/>
<path d="M48 186.13 L48.5 186.13 L49 186.13 L49.5 186.13 L50 186.13 L50.5 186.13 L51 186.13 L51.5 186.13 L52 186.13 L52.5 186.13 L53 186.13 L53.5 186.13 L54 186.13 L54.5 186.13 L55 186.13 L55.5 186.13 L56 186.13 L56.5 186.13 L57 186.13 L57.5 186.13 L58 186.13 L58.5 186.13 L59 186.13 L59.5 186.13 L60 186.13 L60.5 186.13 L61 186.13 L61.5 186.12 L62 186.12 L62.5 186.12 L63 186.11 L63.5 186.08 L64 186.03 L64.5 185.91 L65 185.68 L65.5 185.24 L66 184.52 L66.5 183.43 L67 181.96 L67.5 180.19 L68 178.36 L68.5 176.77 L69 175.76 L69.5 175.49 L70 175.6 L70.5 175.99 L71 176.61 L71.5 177.38 L72 178.25 L72.5 179.14 L73 180.02 L73.5 180.82 L74 181.53 L74.5 182.13 L75 182.61 L75.5 182.98 L76 183.26 L76.5 183.48 L77 183.64 L77.5 183.76 L78 183.86 L78.5 183.94 L79 184.01 L79.5 184.07 L80 184.12 L80.5 184.18 L81 184.23 L81.5 184.28 L82 184.33 L82.5 184.37 L83 184.41 L83.5 184.44 L84 184.47 L84.5 184.49 L85 184.51 L85.5 184.53 L86 184.54 L86.5 184.55 L87 184.56 L87.5 184.57 L88 184.59 L88.5 184.6 L89 184.61 L89.5 184.62 L90 184.63 L90.5 184.64 L91 184.66 L91.5 184.67 L92 184.69 L92.5 184.7 L93 184.72 L93.5 184.73 L94 184.75 L94.5 184.77 L95 184.79 L95.5 184.8 L96 184.82 L96.5 184.84 L97 184.86 L97.5 184.88 L98 184.9 L98.5 184.92 L99 184.94 L99.5 184.96 L100 184.99 L100.5 185.01 L101 185.03 L101.5 185.05 L102 185.07 L102.5 185.09 L103 185.12 L103.5 185.14 L104 185.16 L104.5 185.18 L105 185.2 L105.5 185.23 L106 185.25 L106.5 185.27 L107 185.29 L107.5 185.31 L108 185.33 L108.5 185.36 L109 185.38 L109.5 185.4 L110 185.42 L110.5 185.44 L111 185.46 L111.5 185.48 L112 185.5 L112.5 185.52 L113 185.54 L113.5 185.56 L114 185.57 L114.5 185.59 L115 185.61 L115.5 185.63 L116 185.65 L116.5 185.66 L117 185.68 L117.5 185.69 L118 185.71 L118.5 185.73 L119 185.74 L119.5 185.76 L120 185.77 L120.5 185.78 L121 185.8 L121.5 185.81 L122 185.82 L122.5 185.84 L123 185.85 L123.5 185.86 L124 185.87 L124.5 185.88 L125 185.89 L125.5 185.9 L126 185.91 L126.5 185.92 L127 185.93 L127.5 185.94 L128 185.95 L128.5 185.96 L129 185.97 L129.5 185.97 L130 185.98 L130.5 185.99 L131 186 L131.5 186 L132 186.01 L132.5 186.02 L133 186.02 L133.5 186.03 L134 186.03 L134.5 186.04 L135 186.04 L135.5 186.05" fill="none" stroke="#7e1528" stroke-width="1.3" stroke-linejoin="round"/>
<path d="M48 197.76 L48 197.75 L48.5 197.75 L49 197.75 L49.5 197.75 L50 197.75 L50.5 197.75 L51 197.75 L51.5 197.74 L52 197.74 L52.5 197.74 L53 197.74 L53.5 197.73 L54 197.73 L54.5 197.73 L55 197.72 L55.5 197.72 L56 197.71 L56.5 197.71 L57 197.7 L57.5 197.7 L58 197.69 L58.5 197.68 L59 197.67 L59.5 197.66 L60 197.65 L60.5 197.64 L61 197.63 L61.5 197.62 L62 197.61 L62.5 197.59 L63 197.57 L63.5 197.54 L64 197.5 L64.5 197.43 L65 197.3 L65.5 197.09 L66 196.75 L66.5 196.21 L67 195.44 L67.5 194.39 L68 193.07 L68.5 191.58 L69 190.03 L69.5 188.63 L70 187.57 L70.5 187.01 L71 186.94 L71.5 187.17 L72 187.67 L72.5 188.38 L73 189.24 L73.5 190.19 L74 191.16 L74.5 192.08 L75 192.91 L75.5 193.64 L76 194.24 L76.5 194.72 L77 195.1 L77.5 195.39 L78 195.61 L78.5 195.77 L79 195.9 L79.5 195.99 L80 196.05 L80.5 196.1 L81 196.14 L81.5 196.17 L82 196.18 L82.5 196.19 L83 196.2 L83.5 196.2 L84 196.19 L84.5 196.19 L85 196.18 L85.5 196.17 L86 196.17 L86.5 196.16 L87 196.15 L87.5 196.14 L88 196.14 L88.5 196.13 L89 196.12 L89.5 196.11 L90 196.1 L90.5 196.08 L91 196.06 L91.5 196.04 L92 196.01 L92.5 195.98 L93 195.95 L93.5 195.91 L94 195.87 L94.5 195.83 L95 195.79 L95.5 195.74 L96 195.7 L96.5 195.67 L97 195.63 L97.5 195.6 L98 195.58 L98.5 195.56 L99 195.55 L99.5 195.54 L100 195.54 L100.5 195.54 L101 195.55 L101.5 195.57 L102 195.59 L102.5 195.61 L103 195.63 L103.5 195.66 L104 195.68 L104.5 195.71 L105 195.74 L105.5 195.78 L106 195.82 L106.5 195.88 L107 195.95 L107.5 196.03 L108 196.12 L108.5 196.23 L109 196.34 L109.5 196.46 L110 196.58 L110.5 196.69 L111 196.8 L111.5 196.89 L112 196.97 L112.5 197.04 L113 197.1 L113.5 197.14 L114 197.18 L114.5 197.21 L115 197.24 L115.5 197.26 L116 197.28 L116.5 197.3 L117 197.32 L117.5 197.34 L118 197.36 L118.5 197.38 L119 197.4 L119.5 197.41 L120 197.43 L120.5 197.45 L121 197.46 L121.5 197.48 L122 197.49 L122.5 197.51 L123 197.52 L123.5 197.53 L124 197.54 L124.5 197.56 L125 197.57 L125.5 197.58 L126 197.59 L126.5 197.6 L127 197.61 L127.5 197.62 L128 197.62 L128.5 197.63 L129 197.64 L129.5 197.65 L130 197.65 L130.5 197.66 L131 197.67 L131.5 197.67 L132 197.68 L132.5 197.68 L133 197.69 L133.5 197.69 L134 197.7 L134.5 197.7 L135 197.71 L135.5 197.71 L135.7 197.76 Z" fill="#d79185" stroke="none"/>
<path d="M48 197.75 L48.5 197.75 L49 197.75 L49.5 197.75 L50 197.75 L50.5 197.75 L51 197.75 L51.5 197.74 L52 197.74 L52.5 197.74 L53 197.74 L53.5 197.73 L54 197.73 L54.5 197.73 L55 197.72 L55.5 197.72 L56 197.71 L56.5 197.71 L57 197.7 L57.5 197.7 L58 197.69 L58.5 197.68 L59 197.67 L59.5 197.66 L60 197.65 L60.5 197.64 L61 197.63 L61.5 197.62 L62 197.61 L62.5 197.59 L63 197.57 L63.5 197.54 L64 197.5 L64.5 197.43 L65 197.3 L65.5 197.09 L66 196.75 L66.5 196.21 L67 195.44 L67.5 194.39 L68 193.07 L68.5 191.58 L69 190.03 L69.5 188.63 L70 187.57 L70.5 187.01 L71 186.94 L71.5 187.17 L72 187.67 L72.5 188.38 L73 189.24 L73.5 190.19 L74 191.16 L74.5 192.08 L75 192.91 L75.5 193.64 L76 194.24 L76.5 194.72 L77 195.1 L77.5 195.39 L78 195.61 L78.5 195.77 L79 195.9 L79.5 195.99 L80 196.05 L80.5 196.1 L81 196.14 L81.5 196.17 L82 196.18 L82.5 196.19 L83 196.2 L83.5 196.2 L84 196.19 L84.5 196.19 L85 196.18 L85.5 196.17 L86 196.17 L86.5 196.16 L87 196.15 L87.5 196.14 L88 196.14 L88.5 196.13 L89 196.12 L89.5 196.11 L90 196.1 L90.5 196.08 L91 196.06 L91.5 196.04 L92 196.01 L92.5 195.98 L93 195.95 L93.5 195.91 L94 195.87 L94.5 195.83 L95 195.79 L95.5 195.74 L96 195.7 L96.5 195.67 L97 195.63 L97.5 195.6 L98 195.58 L98.5 195.56 L99 195.55 L99.5 195.54 L100 195.54 L100.5 195.54 L101 195.55 L101.5 195.57 L102 195.59 L102.5 195.61 L103 195.63 L103.5 195.66 L104 195.68 L104.5 195.71 L105 195.74 L105.5 195.78 L106 195.82 L106.5 195.88 L107 195.95 L107.5 196.03 L108 196.12 L108.5 196.23 L109 196.34 L109.5 196.46 L110 196.58 L110.5 196.69 L111 196.8 L111.5 196.89 L112 196.97 L112.5 197.04 L113 197.1 L113.5 197.14 L114 197.18 L114.5 197.21 L115 197.24 L115.5 197.26 L116 197.28 L116.5 197.3 L117 197.32 L117.5 197.34 L118 197.36 L118.5 197.38 L119 197.4 L119.5 197.41 L120 197.43 L120.5 197.45 L121 197.46 L121.5 197.48 L122 197.49 L122.5 197.51 L123 197.52 L123.5 197.53 L124 197.54 L124.5 197.56 L125 197.57 L125.5 197.58 L126 197.59 L126.5 197.6 L127 197.61 L127.5 197.62 L128 197.62 L128.5 197.63 L129 197.64 L129.5 197.65 L130 197.65 L130.5 197.66 L131 197.67 L131.5 197.67 L132 197.68 L132.5 197.68 L133 197.69 L133.5 197.69 L134 197.7 L134.5 197.7 L135 197.71 L135.5 197.71" fill="none" stroke="#7e1528" stroke-width="1.3" stroke-linejoin="round"/>
<path d="M48 209.39 L48 209.39 L48.5 209.39 L49 209.39 L49.5 209.39 L50 209.39 L50.5 209.39 L51 209.39 L51.5 209.39 L52 209.39 L52.5 209.38 L53 209.38 L53.5 209.38 L54 209.38 L54.5 209.38 L55 209.38 L55.5 209.38 L56 209.37 L56.5 209.37 L57 209.37 L57.5 209.37 L58 209.36 L58.5 209.36 L59 209.35 L59.5 209.35 L60 209.34 L60.5 209.34 L61 209.33 L61.5 209.32 L62 209.31 L62.5 209.3 L63 209.29 L63.5 209.26 L64 209.23 L64.5 209.16 L65 209.03 L65.5 208.8 L66 208.39 L66.5 207.73 L67 206.77 L67.5 205.48 L68 203.93 L68.5 202.3 L69 200.83 L69.5 199.79 L70 199.4 L70.5 199.52 L71 199.93 L71.5 200.58 L72 201.43 L72.5 202.38 L73 203.38 L73.5 204.35 L74 205.25 L74.5 206.03 L75 206.68 L75.5 207.19 L76 207.57 L76.5 207.85 L77 208.03 L77.5 208.15 L78 208.21 L78.5 208.24 L79 208.24 L79.5 208.23 L80 208.2 L80.5 208.18 L81 208.15 L81.5 208.12 L82 208.1 L82.5 208.07 L83 208.05 L83.5 208.03 L84 208.02 L84.5 208.01 L85 208 L85.5 207.99 L86 207.99 L86.5 207.99 L87 207.99 L87.5 208 L88 208 L88.5 208.01 L89 208.01 L89.5 208.02 L90 208.03 L90.5 208.04 L91 208.05 L91.5 208.06 L92 208.07 L92.5 208.08 L93 208.09 L93.5 208.1 L94 208.11 L94.5 208.12 L95 208.13 L95.5 208.14 L96 208.14 L96.5 208.14 L97 208.14 L97.5 208.13 L98 208.12 L98.5 208.11 L99 208.09 L99.5 208.06 L100 208.03 L100.5 207.99 L101 207.94 L101.5 207.89 L102 207.83 L102.5 207.76 L103 207.69 L103.5 207.61 L104 207.53 L104.5 207.45 L105 207.36 L105.5 207.28 L106 207.19 L106.5 207.11 L107 207.04 L107.5 206.97 L108 206.9 L108.5 206.85 L109 206.81 L109.5 206.78 L110 206.77 L110.5 206.76 L111 206.78 L111.5 206.81 L112 206.86 L112.5 206.93 L113 207.02 L113.5 207.13 L114 207.25 L114.5 207.38 L115 207.52 L115.5 207.67 L116 207.81 L116.5 207.96 L117 208.1 L117.5 208.24 L118 208.37 L118.5 208.5 L119 208.61 L119.5 208.71 L120 208.81 L120.5 208.89 L121 208.96 L121.5 209.03 L122 209.08 L122.5 209.13 L123 209.17 L123.5 209.2 L124 209.23 L124.5 209.26 L125 209.27 L125.5 209.29 L126 209.3 L126.5 209.32 L127 209.32 L127.5 209.33 L128 209.34 L128.5 209.34 L129 209.35 L129.5 209.35 L130 209.36 L130.5 209.36 L131 209.36 L131.5 209.36 L132 209.37 L132.5 209.37 L133 209.37 L133.5 209.37 L134 209.37 L134.5 209.38 L135 209.38 L135.5 209.38 L135.7 209.39 Z" fill="#d79185" stroke="none"/>
<path d="M48 209.39 L48.5 209.39 L49 209.39 L49.5 209.39 L50 209.39 L50.5 209.39 L51 209.39 L51.5 209.39 L52 209.39 L52.5 209.38 L53 209.38 L53.5 209.38 L54 209.38 L54.5 209.38 L55 209.38 L55.5 209.38 L56 209.37 L56.5 209.37 L57 209.37 L57.5 209.37 L58 209.36 L58.5 209.36 L59 209.35 L59.5 209.35 L60 209.34 L60.5 209.34 L61 209.33 L61.5 209.32 L62 209.31 L62.5 209.3 L63 209.29 L63.5 209.26 L64 209.23 L64.5 209.16 L65 209.03 L65.5 208.8 L66 208.39 L66.5 207.73 L67 206.77 L67.5 205.48 L68 203.93 L68.5 202.3 L69 200.83 L69.5 199.79 L70 199.4 L70.5 199.52 L71 199.93 L71.5 200.58 L72 201.43 L72.5 202.38 L73 203.38 L73.5 204.35 L74 205.25 L74.5 206.03 L75 206.68 L75.5 207.19 L76 207.57 L76.5 207.85 L77 208.03 L77.5 208.15 L78 208.21 L78.5 208.24 L79 208.24 L79.5 208.23 L80 208.2 L80.5 208.18 L81 208.15 L81.5 208.12 L82 208.1 L82.5 208.07 L83 208.05 L83.5 208.03 L84 208.02 L84.5 208.01 L85 208 L85.5 207.99 L86 207.99 L86.5 207.99 L87 207.99 L87.5 208 L88 208 L88.5 208.01 L89 208.01 L89.5 208.02 L90 208.03 L90.5 208.04 L91 208.05 L91.5 208.06 L92 208.07 L92.5 208.08 L93 208.09 L93.5 208.1 L94 208.11 L94.5 208.12 L95 208.13 L95.5 208.14 L96 208.14 L96.5 208.14 L97 208.14 L97.5 208.13 L98 208.12 L98.5 208.11 L99 208.09 L99.5 208.06 L100 208.03 L100.5 207.99 L101 207.94 L101.5 207.89 L102 207.83 L102.5 207.76 L103 207.69 L103.5 207.61 L104 207.53 L104.5 207.45 L105 207.36 L105.5 207.28 L106 207.19 L106.5 207.11 L107 207.04 L107.5 206.97 L108 206.9 L108.5 206.85 L109 206.81 L109.5 206.78 L110 206.77 L110.5 206.76 L111 206.78 L111.5 206.81 L112 206.86 L112.5 206.93 L113 207.02 L113.5 207.13 L114 207.25 L114.5 207.38 L115 207.52 L115.5 207.67 L116 207.81 L116.5 207.96 L117 208.1 L117.5 208.24 L118 208.37 L118.5 208.5 L119 208.61 L119.5 208.71 L120 208.81 L120.5 208.89 L121 208.96 L121.5 209.03 L122 209.08 L122.5 209.13 L123 209.17 L123.5 209.2 L124 209.23 L124.5 209.26 L125 209.27 L125.5 209.29 L126 209.3 L126.5 209.32 L127 209.32 L127.5 209.33 L128 209.34 L128.5 209.34 L129 209.35 L129.5 209.35 L130 209.36 L130.5 209.36 L131 209.36 L131.5 209.36 L132 209.37 L132.5 209.37 L133 209.37 L133.5 209.37 L134 209.37 L134.5 209.38 L135 209.38 L135.5 209.38" fill="none" stroke="#7e1528" stroke-width="1.3" stroke-linejoin="round"/>
<path d="M48 221.02 L48 221.02 L48.5 221.02 L49 221.02 L49.5 221.02 L50 221.01 L50.5 221.01 L51 221.01 L51.5 221.01 L52 221.01 L52.5 221.01 L53 221.01 L53.5 221.01 L54 221 L54.5 221 L55 221 L55.5 221 L56 220.99 L56.5 220.99 L57 220.99 L57.5 220.98 L58 220.98 L58.5 220.98 L59 220.97 L59.5 220.96 L60 220.96 L60.5 220.95 L61 220.94 L61.5 220.94 L62 220.93 L62.5 220.92 L63 220.91 L63.5 220.9 L64 220.88 L64.5 220.86 L65 220.82 L65.5 220.75 L66 220.64 L66.5 220.44 L67 220.12 L67.5 219.6 L68 218.86 L68.5 217.85 L69 216.59 L69.5 215.16 L70 213.7 L70.5 212.39 L71 211.44 L71.5 211.01 L72 211.04 L72.5 211.31 L73 211.78 L73.5 212.43 L74 213.2 L74.5 214.05 L75 214.92 L75.5 215.78 L76 216.58 L76.5 217.3 L77 217.93 L77.5 218.45 L78 218.87 L78.5 219.2 L79 219.44 L79.5 219.61 L80 219.72 L80.5 219.8 L81 219.83 L81.5 219.85 L82 219.85 L82.5 219.84 L83 219.82 L83.5 219.8 L84 219.78 L84.5 219.75 L85 219.73 L85.5 219.71 L86 219.69 L86.5 219.67 L87 219.64 L87.5 219.62 L88 219.6 L88.5 219.58 L89 219.56 L89.5 219.53 L90 219.5 L90.5 219.47 L91 219.44 L91.5 219.4 L92 219.36 L92.5 219.31 L93 219.27 L93.5 219.22 L94 219.17 L94.5 219.13 L95 219.08 L95.5 219.04 L96 219 L96.5 218.97 L97 218.94 L97.5 218.92 L98 218.9 L98.5 218.89 L99 218.89 L99.5 218.89 L100 218.89 L100.5 218.91 L101 218.92 L101.5 218.94 L102 218.96 L102.5 218.99 L103 219.01 L103.5 219.04 L104 219.07 L104.5 219.1 L105 219.15 L105.5 219.2 L106 219.27 L106.5 219.35 L107 219.45 L107.5 219.56 L108 219.67 L108.5 219.79 L109 219.91 L109.5 220.02 L110 220.13 L110.5 220.22 L111 220.3 L111.5 220.37 L112 220.42 L112.5 220.47 L113 220.5 L113.5 220.53 L114 220.56 L114.5 220.58 L115 220.61 L115.5 220.63 L116 220.65 L116.5 220.66 L117 220.68 L117.5 220.7 L118 220.72 L118.5 220.73 L119 220.75 L119.5 220.76 L120 220.78 L120.5 220.79 L121 220.81 L121.5 220.82 L122 220.83 L122.5 220.84 L123 220.85 L123.5 220.86 L124 220.87 L124.5 220.88 L125 220.89 L125.5 220.9 L126 220.91 L126.5 220.92 L127 220.92 L127.5 220.93 L128 220.94 L128.5 220.94 L129 220.95 L129.5 220.95 L130 220.96 L130.5 220.96 L131 220.97 L131.5 220.97 L132 220.98 L132.5 220.98 L133 220.98 L133.5 220.99 L134 220.99 L134.5 220.99 L135 220.99 L135.5 221 L135.7 221.02 Z" fill="#d79185" stroke="none"/>
<path d="M48 221.02 L48.5 221.02 L49 221.02 L49.5 221.02 L50 221.01 L50.5 221.01 L51 221.01 L51.5 221.01 L52 221.01 L52.5 221.01 L53 221.01 L53.5 221.01 L54 221 L54.5 221 L55 221 L55.5 221 L56 220.99 L56.5 220.99 L57 220.99 L57.5 220.98 L58 220.98 L58.5 220.98 L59 220.97 L59.5 220.96 L60 220.96 L60.5 220.95 L61 220.94 L61.5 220.94 L62 220.93 L62.5 220.92 L63 220.91 L63.5 220.9 L64 220.88 L64.5 220.86 L65 220.82 L65.5 220.75 L66 220.64 L66.5 220.44 L67 220.12 L67.5 219.6 L68 218.86 L68.5 217.85 L69 216.59 L69.5 215.16 L70 213.7 L70.5 212.39 L71 211.44 L71.5 211.01 L72 211.04 L72.5 211.31 L73 211.78 L73.5 212.43 L74 213.2 L74.5 214.05 L75 214.92 L75.5 215.78 L76 216.58 L76.5 217.3 L77 217.93 L77.5 218.45 L78 218.87 L78.5 219.2 L79 219.44 L79.5 219.61 L80 219.72 L80.5 219.8 L81 219.83 L81.5 219.85 L82 219.85 L82.5 219.84 L83 219.82 L83.5 219.8 L84 219.78 L84.5 219.75 L85 219.73 L85.5 219.71 L86 219.69 L86.5 219.67 L87 219.64 L87.5 219.62 L88 219.6 L88.5 219.58 L89 219.56 L89.5 219.53 L90 219.5 L90.5 219.47 L91 219.44 L91.5 219.4 L92 219.36 L92.5 219.31 L93 219.27 L93.5 219.22 L94 219.17 L94.5 219.13 L95 219.08 L95.5 219.04 L96 219 L96.5 218.97 L97 218.94 L97.5 218.92 L98 218.9 L98.5 218.89 L99 218.89 L99.5 218.89 L100 218.89 L100.5 218.91 L101 218.92 L101.5 218.94 L102 218.96 L102.5 218.99 L103 219.01 L103.5 219.04 L104 219.07 L104.5 219.1 L105 219.15 L105.5 219.2 L106 219.27 L106.5 219.35 L107 219.45 L107.5 219.56 L108 219.67 L108.5 219.79 L109 219.91 L109.5 220.02 L110 220.13 L110.5 220.22 L111 220.3 L111.5 220.37 L112 220.42 L112.5 220.47 L113 220.5 L113.5 220.53 L114 220.56 L114.5 220.58 L115 220.61 L115.5 220.63 L116 220.65 L116.5 220.66 L117 220.68 L117.5 220.7 L118 220.72 L118.5 220.73 L119 220.75 L119.5 220.76 L120 220.78 L120.5 220.79 L121 220.81 L121.5 220.82 L122 220.83 L122.5 220.84 L123 220.85 L123.5 220.86 L124 220.87 L124.5 220.88 L125 220.89 L125.5 220.9 L126 220.91 L126.5 220.92 L127 220.92 L127.5 220.93 L128 220.94 L128.5 220.94 L129 220.95 L129.5 220.95 L130 220.96 L130.5 220.96 L131 220.97 L131.5 220.97 L132 220.98 L132.5 220.98 L133 220.98 L133.5 220.99 L134 220.99 L134.5 220.99 L135 220.99 L135.5 221" fill="none" stroke="#7e1528" stroke-width="1.3" stroke-linejoin="round"/>
<path d="M48 232.65 L48 232.65 L48.5 232.65 L49 232.65 L49.5 232.65 L50 232.65 L50.5 232.65 L51 232.65 L51.5 232.65 L52 232.65 L52.5 232.65 L53 232.65 L53.5 232.65 L54 232.65 L54.5 232.65 L55 232.65 L55.5 232.65 L56 232.64 L56.5 232.64 L57 232.64 L57.5 232.64 L58 232.64 L58.5 232.63 L59 232.63 L59.5 232.63 L60 232.62 L60.5 232.62 L61 232.61 L61.5 232.6 L62 232.6 L62.5 232.59 L63 232.58 L63.5 232.57 L64 232.55 L64.5 232.53 L65 232.5 L65.5 232.45 L66 232.36 L66.5 232.19 L67 231.93 L67.5 231.53 L68 231.02 L68.5 230.43 L69 229.86 L69.5 229.44 L70 229.26 L70.5 229.37 L71 229.72 L71.5 230.21 L72 230.73 L72.5 231.17 L73 231.5 L73.5 231.69 L74 231.79 L74.5 231.82 L75 231.81 L75.5 231.78 L76 231.74 L76.5 231.7 L77 231.66 L77.5 231.61 L78 231.57 L78.5 231.53 L79 231.5 L79.5 231.46 L80 231.42 L80.5 231.37 L81 231.33 L81.5 231.27 L82 231.21 L82.5 231.14 L83 231.06 L83.5 230.96 L84 230.85 L84.5 230.72 L85 230.56 L85.5 230.39 L86 230.18 L86.5 229.95 L87 229.7 L87.5 229.42 L88 229.12 L88.5 228.79 L89 228.45 L89.5 228.08 L90 227.71 L90.5 227.32 L91 226.93 L91.5 226.54 L92 226.16 L92.5 225.78 L93 225.42 L93.5 225.07 L94 224.74 L94.5 224.44 L95 224.16 L95.5 223.91 L96 223.69 L96.5 223.49 L97 223.32 L97.5 223.18 L98 223.07 L98.5 222.97 L99 222.9 L99.5 222.85 L100 222.82 L100.5 222.8 L101 222.79 L101.5 222.79 L102 222.8 L102.5 222.8 L103 222.82 L103.5 222.86 L104 222.95 L104.5 223.14 L105 223.42 L105.5 223.84 L106 224.38 L106.5 225.05 L107 225.83 L107.5 226.7 L108 227.61 L108.5 228.51 L109 229.38 L109.5 230.16 L110 230.83 L110.5 231.38 L111 231.81 L111.5 232.12 L112 232.33 L112.5 232.47 L113 232.55 L113.5 232.6 L114 232.63 L114.5 232.64 L115 232.65 L115.5 232.65 L116 232.65 L116.5 232.65 L117 232.65 L117.5 232.65 L118 232.65 L118.5 232.65 L119 232.65 L119.5 232.65 L120 232.65 L120.5 232.65 L121 232.65 L121.5 232.65 L122 232.65 L122.5 232.65 L123 232.65 L123.5 232.65 L124 232.65 L124.5 232.65 L125 232.65 L125.5 232.65 L126 232.65 L126.5 232.65 L127 232.65 L127.5 232.65 L128 232.65 L128.5 232.65 L129 232.65 L129.5 232.65 L130 232.65 L130.5 232.65 L131 232.65 L131.5 232.65 L132 232.65 L132.5 232.65 L133 232.65 L133.5 232.65 L134 232.65 L134.5 232.65 L135 232.65 L135.5 232.65 L135.7 232.65 Z" fill="#d79185" stroke="none"/>
<path d="M48 232.65 L48.5 232.65 L49 232.65 L49.5 232.65 L50 232.65 L50.5 232.65 L51 232.65 L51.5 232.65 L52 232.65 L52.5 232.65 L53 232.65 L53.5 232.65 L54 232.65 L54.5 232.65 L55 232.65 L55.5 232.65 L56 232.64 L56.5 232.64 L57 232.64 L57.5 232.64 L58 232.64 L58.5 232.63 L59 232.63 L59.5 232.63 L60 232.62 L60.5 232.62 L61 232.61 L61.5 232.6 L62 232.6 L62.5 232.59 L63 232.58 L63.5 232.57 L64 232.55 L64.5 232.53 L65 232.5 L65.5 232.45 L66 232.36 L66.5 232.19 L67 231.93 L67.5 231.53 L68 231.02 L68.5 230.43 L69 229.86 L69.5 229.44 L70 229.26 L70.5 229.37 L71 229.72 L71.5 230.21 L72 230.73 L72.5 231.17 L73 231.5 L73.5 231.69 L74 231.79 L74.5 231.82 L75 231.81 L75.5 231.78 L76 231.74 L76.5 231.7 L77 231.66 L77.5 231.61 L78 231.57 L78.5 231.53 L79 231.5 L79.5 231.46 L80 231.42 L80.5 231.37 L81 231.33 L81.5 231.27 L82 231.21 L82.5 231.14 L83 231.06 L83.5 230.96 L84 230.85 L84.5 230.72 L85 230.56 L85.5 230.39 L86 230.18 L86.5 229.95 L87 229.7 L87.5 229.42 L88 229.12 L88.5 228.79 L89 228.45 L89.5 228.08 L90 227.71 L90.5 227.32 L91 226.93 L91.5 226.54 L92 226.16 L92.5 225.78 L93 225.42 L93.5 225.07 L94 224.74 L94.5 224.44 L95 224.16 L95.5 223.91 L96 223.69 L96.5 223.49 L97 223.32 L97.5 223.18 L98 223.07 L98.5 222.97 L99 222.9 L99.5 222.85 L100 222.82 L100.5 222.8 L101 222.79 L101.5 222.79 L102 222.8 L102.5 222.8 L103 222.82 L103.5 222.86 L104 222.95 L104.5 223.14 L105 223.42 L105.5 223.84 L106 224.38 L106.5 225.05 L107 225.83 L107.5 226.7 L108 227.61 L108.5 228.51 L109 229.38 L109.5 230.16 L110 230.83 L110.5 231.38 L111 231.81 L111.5 232.12 L112 232.33 L112.5 232.47 L113 232.55 L113.5 232.6 L114 232.63 L114.5 232.64 L115 232.65 L115.5 232.65 L116 232.65 L116.5 232.65 L117 232.65 L117.5 232.65 L118 232.65 L118.5 232.65 L119 232.65 L119.5 232.65 L120 232.65 L120.5 232.65 L121 232.65 L121.5 232.65 L122 232.65 L122.5 232.65 L123 232.65 L123.5 232.65 L124 232.65 L124.5 232.65 L125 232.65 L125.5 232.65 L126 232.65 L126.5 232.65 L127 232.65 L127.5 232.65 L128 232.65 L128.5 232.65 L129 232.65 L129.5 232.65 L130 232.65 L130.5 232.65 L131 232.65 L131.5 232.65 L132 232.65 L132.5 232.65 L133 232.65 L133.5 232.65 L134 232.65 L134.5 232.65 L135 232.65 L135.5 232.65" fill="none" stroke="#7e1528" stroke-width="1.3" stroke-linejoin="round"/>
<path d="M48 244.28 L48 244.28 L48.5 244.28 L49 244.28 L49.5 244.28 L50 244.28 L50.5 244.28 L51 244.28 L51.5 244.28 L52 244.28 L52.5 244.28 L53 244.28 L53.5 244.28 L54 244.28 L54.5 244.28 L55 244.28 L55.5 244.28 L56 244.28 L56.5 244.28 L57 244.28 L57.5 244.28 L58 244.28 L58.5 244.28 L59 244.28 L59.5 244.28 L60 244.28 L60.5 244.28 L61 244.28 L61.5 244.28 L62 244.28 L62.5 244.28 L63 244.28 L63.5 244.27 L64 244.27 L64.5 244.26 L65 244.24 L65.5 244.2 L66 244.14 L66.5 244.06 L67 243.96 L67.5 243.82 L68 243.67 L68.5 243.53 L69 243.4 L69.5 243.31 L70 243.28 L70.5 243.31 L71 243.4 L71.5 243.52 L72 243.67 L72.5 243.82 L73 243.95 L73.5 244.06 L74 244.14 L74.5 244.19 L75 244.22 L75.5 244.24 L76 244.24 L76.5 244.24 L77 244.23 L77.5 244.21 L78 244.19 L78.5 244.15 L79 244.11 L79.5 244.06 L80 243.99 L80.5 243.91 L81 243.81 L81.5 243.68 L82 243.53 L82.5 243.35 L83 243.14 L83.5 242.89 L84 242.6 L84.5 242.26 L85 241.89 L85.5 241.47 L86 241 L86.5 240.5 L87 239.96 L87.5 239.38 L88 238.78 L88.5 238.16 L89 237.54 L89.5 236.92 L90 236.32 L90.5 235.75 L91 235.22 L91.5 234.75 L92 234.34 L92.5 234.02 L93 233.78 L93.5 233.63 L94 233.58 L94.5 233.65 L95 233.84 L95.5 234.16 L96 234.59 L96.5 235.11 L97 235.71 L97.5 236.37 L98 237.07 L98.5 237.79 L99 238.51 L99.5 239.21 L100 239.88 L100.5 240.51 L101 241.09 L101.5 241.61 L102 242.08 L102.5 242.48 L103 242.83 L103.5 243.13 L104 243.37 L104.5 243.58 L105 243.74 L105.5 243.87 L106 243.97 L106.5 244.05 L107 244.12 L107.5 244.16 L108 244.2 L108.5 244.22 L109 244.24 L109.5 244.25 L110 244.26 L110.5 244.27 L111 244.27 L111.5 244.27 L112 244.28 L112.5 244.28 L113 244.28 L113.5 244.28 L114 244.28 L114.5 244.28 L115 244.28 L115.5 244.28 L116 244.28 L116.5 244.28 L117 244.28 L117.5 244.28 L118 244.28 L118.5 244.28 L119 244.28 L119.5 244.28 L120 244.28 L120.5 244.28 L121 244.28 L121.5 244.28 L122 244.28 L122.5 244.28 L123 244.28 L123.5 244.28 L124 244.28 L124.5 244.28 L125 244.28 L125.5 244.28 L126 244.28 L126.5 244.28 L127 244.28 L127.5 244.28 L128 244.28 L128.5 244.28 L129 244.28 L129.5 244.28 L130 244.28 L130.5 244.28 L131 244.28 L131.5 244.28 L132 244.28 L132.5 244.28 L133 244.28 L133.5 244.28 L134 244.28 L134.5 244.28 L135 244.28 L135.5 244.28 L135.7 244.28 Z" fill="#d79185" stroke="none"/>
<path d="M48 244.28 L48.5 244.28 L49 244.28 L49.5 244.28 L50 244.28 L50.5 244.28 L51 244.28 L51.5 244.28 L52 244.28 L52.5 244.28 L53 244.28 L53.5 244.28 L54 244.28 L54.5 244.28 L55 244.28 L55.5 244.28 L56 244.28 L56.5 244.28 L57 244.28 L57.5 244.28 L58 244.28 L58.5 244.28 L59 244.28 L59.5 244.28 L60 244.28 L60.5 244.28 L61 244.28 L61.5 244.28 L62 244.28 L62.5 244.28 L63 244.28 L63.5 244.27 L64 244.27 L64.5 244.26 L65 244.24 L65.5 244.2 L66 244.14 L66.5 244.06 L67 243.96 L67.5 243.82 L68 243.67 L68.5 243.53 L69 243.4 L69.5 243.31 L70 243.28 L70.5 243.31 L71 243.4 L71.5 243.52 L72 243.67 L72.5 243.82 L73 243.95 L73.5 244.06 L74 244.14 L74.5 244.19 L75 244.22 L75.5 244.24 L76 244.24 L76.5 244.24 L77 244.23 L77.5 244.21 L78 244.19 L78.5 244.15 L79 244.11 L79.5 244.06 L80 243.99 L80.5 243.91 L81 243.81 L81.5 243.68 L82 243.53 L82.5 243.35 L83 243.14 L83.5 242.89 L84 242.6 L84.5 242.26 L85 241.89 L85.5 241.47 L86 241 L86.5 240.5 L87 239.96 L87.5 239.38 L88 238.78 L88.5 238.16 L89 237.54 L89.5 236.92 L90 236.32 L90.5 235.75 L91 235.22 L91.5 234.75 L92 234.34 L92.5 234.02 L93 233.78 L93.5 233.63 L94 233.58 L94.5 233.65 L95 233.84 L95.5 234.16 L96 234.59 L96.5 235.11 L97 235.71 L97.5 236.37 L98 237.07 L98.5 237.79 L99 238.51 L99.5 239.21 L100 239.88 L100.5 240.51 L101 241.09 L101.5 241.61 L102 242.08 L102.5 242.48 L103 242.83 L103.5 243.13 L104 243.37 L104.5 243.58 L105 243.74 L105.5 243.87 L106 243.97 L106.5 244.05 L107 244.12 L107.5 244.16 L108 244.2 L108.5 244.22 L109 244.24 L109.5 244.25 L110 244.26 L110.5 244.27 L111 244.27 L111.5 244.27 L112 244.28 L112.5 244.28 L113 244.28 L113.5 244.28 L114 244.28 L114.5 244.28 L115 244.28 L115.5 244.28 L116 244.28 L116.5 244.28 L117 244.28 L117.5 244.28 L118 244.28 L118.5 244.28 L119 244.28 L119.5 244.28 L120 244.28 L120.5 244.28 L121 244.28 L121.5 244.28 L122 244.28 L122.5 244.28 L123 244.28 L123.5 244.28 L124 244.28 L124.5 244.28 L125 244.28 L125.5 244.28 L126 244.28 L126.5 244.28 L127 244.28 L127.5 244.28 L128 244.28 L128.5 244.28 L129 244.28 L129.5 244.28 L130 244.28 L130.5 244.28 L131 244.28 L131.5 244.28 L132 244.28 L132.5 244.28 L133 244.28 L133.5 244.28 L134 244.28 L134.5 244.28 L135 244.28 L135.5 244.28" fill="none" stroke="#7e1528" stroke-width="1.3" stroke-linejoin="round"/>
<path d="M48 255.91 L48 255.91 L48.5 255.91 L49 255.91 L49.5 255.91 L50 255.91 L50.5 255.91 L51 255.91 L51.5 255.91 L52 255.91 L52.5 255.91 L53 255.91 L53.5 255.91 L54 255.91 L54.5 255.91 L55 255.91 L55.5 255.91 L56 255.91 L56.5 255.91 L57 255.91 L57.5 255.91 L58 255.91 L58.5 255.91 L59 255.91 L59.5 255.91 L60 255.91 L60.5 255.91 L61 255.91 L61.5 255.91 L62 255.9 L62.5 255.9 L63 255.89 L63.5 255.88 L64 255.87 L64.5 255.85 L65 255.82 L65.5 255.78 L66 255.72 L66.5 255.65 L67 255.56 L67.5 255.45 L68 255.33 L68.5 255.19 L69 255.04 L69.5 254.89 L70 254.75 L70.5 254.62 L71 254.51 L71.5 254.43 L72 254.37 L72.5 254.34 L73 254.34 L73.5 254.35 L74 254.37 L74.5 254.39 L75 254.38 L75.5 254.35 L76 254.28 L76.5 254.16 L77 253.99 L77.5 253.76 L78 253.47 L78.5 253.12 L79 252.72 L79.5 252.27 L80 251.77 L80.5 251.25 L81 250.69 L81.5 250.12 L82 249.54 L82.5 248.96 L83 248.4 L83.5 247.86 L84 247.35 L84.5 246.9 L85 246.49 L85.5 246.15 L86 245.87 L86.5 245.66 L87 245.51 L87.5 245.43 L88 245.41 L88.5 245.44 L89 245.56 L89.5 245.77 L90 246.09 L90.5 246.49 L91 246.98 L91.5 247.55 L92 248.18 L92.5 248.85 L93 249.54 L93.5 250.24 L94 250.93 L94.5 251.6 L95 252.23 L95.5 252.81 L96 253.34 L96.5 253.8 L97 254.21 L97.5 254.56 L98 254.85 L98.5 255.1 L99 255.29 L99.5 255.45 L100 255.57 L100.5 255.66 L101 255.73 L101.5 255.79 L102 255.82 L102.5 255.85 L103 255.87 L103.5 255.88 L104 255.89 L104.5 255.9 L105 255.9 L105.5 255.91 L106 255.91 L106.5 255.91 L107 255.91 L107.5 255.91 L108 255.91 L108.5 255.91 L109 255.91 L109.5 255.91 L110 255.91 L110.5 255.91 L111 255.91 L111.5 255.91 L112 255.91 L112.5 255.91 L113 255.91 L113.5 255.91 L114 255.91 L114.5 255.91 L115 255.91 L115.5 255.91 L116 255.91 L116.5 255.91 L117 255.91 L117.5 255.91 L118 255.91 L118.5 255.91 L119 255.91 L119.5 255.91 L120 255.91 L120.5 255.91 L121 255.91 L121.5 255.91 L122 255.91 L122.5 255.91 L123 255.91 L123.5 255.91 L124 255.91 L124.5 255.91 L125 255.91 L125.5 255.91 L126 255.91 L126.5 255.91 L127 255.91 L127.5 255.91 L128 255.91 L128.5 255.91 L129 255.91 L129.5 255.91 L130 255.91 L130.5 255.91 L131 255.91 L131.5 255.91 L132 255.91 L132.5 255.91 L133 255.91 L133.5 255.91 L134 255.91 L134.5 255.91 L135 255.91 L135.5 255.91 L135.7 255.91 Z" fill="#d79185" stroke="none"/>
<path d="M48 255.91 L48.5 255.91 L49 255.91 L49.5 255.91 L50 255.91 L50.5 255.91 L51 255.91 L51.5 255.91 L52 255.91 L52.5 255.91 L53 255.91 L53.5 255.91 L54 255.91 L54.5 255.91 L55 255.91 L55.5 255.91 L56 255.91 L56.5 255.91 L57 255.91 L57.5 255.91 L58 255.91 L58.5 255.91 L59 255.91 L59.5 255.91 L60 255.91 L60.5 255.91 L61 255.91 L61.5 255.91 L62 255.9 L62.5 255.9 L63 255.89 L63.5 255.88 L64 255.87 L64.5 255.85 L65 255.82 L65.5 255.78 L66 255.72 L66.5 255.65 L67 255.56 L67.5 255.45 L68 255.33 L68.5 255.19 L69 255.04 L69.5 254.89 L70 254.75 L70.5 254.62 L71 254.51 L71.5 254.43 L72 254.37 L72.5 254.34 L73 254.34 L73.5 254.35 L74 254.37 L74.5 254.39 L75 254.38 L75.5 254.35 L76 254.28 L76.5 254.16 L77 253.99 L77.5 253.76 L78 253.47 L78.5 253.12 L79 252.72 L79.5 252.27 L80 251.77 L80.5 251.25 L81 250.69 L81.5 250.12 L82 249.54 L82.5 248.96 L83 248.4 L83.5 247.86 L84 247.35 L84.5 246.9 L85 246.49 L85.5 246.15 L86 245.87 L86.5 245.66 L87 245.51 L87.5 245.43 L88 245.41 L88.5 245.44 L89 245.56 L89.5 245.77 L90 246.09 L90.5 246.49 L91 246.98 L91.5 247.55 L92 248.18 L92.5 248.85 L93 249.54 L93.5 250.24 L94 250.93 L94.5 251.6 L95 252.23 L95.5 252.81 L96 253.34 L96.5 253.8 L97 254.21 L97.5 254.56 L98 254.85 L98.5 255.1 L99 255.29 L99.5 255.45 L100 255.57 L100.5 255.66 L101 255.73 L101.5 255.79 L102 255.82 L102.5 255.85 L103 255.87 L103.5 255.88 L104 255.89 L104.5 255.9 L105 255.9 L105.5 255.91 L106 255.91 L106.5 255.91 L107 255.91 L107.5 255.91 L108 255.91 L108.5 255.91 L109 255.91 L109.5 255.91 L110 255.91 L110.5 255.91 L111 255.91 L111.5 255.91 L112 255.91 L112.5 255.91 L113 255.91 L113.5 255.91 L114 255.91 L114.5 255.91 L115 255.91 L115.5 255.91 L116 255.91 L116.5 255.91 L117 255.91 L117.5 255.91 L118 255.91 L118.5 255.91 L119 255.91 L119.5 255.91 L120 255.91 L120.5 255.91 L121 255.91 L121.5 255.91 L122 255.91 L122.5 255.91 L123 255.91 L123.5 255.91 L124 255.91 L124.5 255.91 L125 255.91 L125.5 255.91 L126 255.91 L126.5 255.91 L127 255.91 L127.5 255.91 L128 255.91 L128.5 255.91 L129 255.91 L129.5 255.91 L130 255.91 L130.5 255.91 L131 255.91 L131.5 255.91 L132 255.91 L132.5 255.91 L133 255.91 L133.5 255.91 L134 255.91 L134.5 255.91 L135 255.91 L135.5 255.91" fill="none" stroke="#7e1528" stroke-width="1.3" stroke-linejoin="round"/>
<line x1="75.2" y1="162.6" x2="75.2" y2="255.91" stroke="#4a3034" stroke-width="1.2" stroke-dasharray="8 10.2" stroke-dashoffset="17.8"/>
<path d="M47.5 255.91 V162.6 H136.2 V255.91" fill="none" stroke="#1a1a1a" stroke-width="1.1"/>
<path d="M136.7 174.5 L136.7 174.5 L137.2 174.5 L137.7 174.5 L138.2 174.5 L138.7 174.5 L139.2 174.5 L139.7 174.5 L140.2 174.5 L140.7 174.5 L141.2 174.5 L141.7 174.5 L142.2 174.5 L142.7 174.5 L143.2 174.5 L143.7 174.5 L144.2 174.5 L144.7 174.5 L145.2 174.5 L145.7 174.5 L146.2 174.5 L146.7 174.5 L147.2 174.5 L147.7 174.5 L148.2 174.49 L148.7 174.49 L149.2 174.49 L149.7 174.48 L150.2 174.47 L150.7 174.45 L151.2 174.43 L151.7 174.41 L152.2 174.37 L152.7 174.32 L153.2 174.26 L153.7 174.17 L154.2 174.07 L154.7 173.93 L155.2 173.77 L155.7 173.57 L156.2 173.32 L156.7 173.03 L157.2 172.7 L157.7 172.31 L158.2 171.88 L158.7 171.39 L159.2 170.86 L159.7 170.29 L160.2 169.68 L160.7 169.05 L161.2 168.4 L161.7 167.75 L162.2 167.11 L162.7 166.5 L163.2 165.93 L163.7 165.4 L164.2 164.95 L164.7 164.56 L165.2 164.25 L165.7 164.02 L166.2 163.88 L166.7 163.81 L167.2 163.8 L167.7 163.81 L168.2 163.82 L168.7 163.84 L169.2 163.88 L169.7 163.92 L170.2 163.98 L170.7 164.04 L171.2 164.12 L171.7 164.21 L172.2 164.31 L172.7 164.42 L173.2 164.54 L173.7 164.67 L174.2 164.81 L174.7 164.97 L175.2 165.13 L175.7 165.3 L176.2 165.48 L176.7 165.67 L177.2 165.86 L177.7 166.06 L178.2 166.27 L178.7 166.49 L179.2 166.71 L179.7 166.93 L180.2 167.16 L180.7 167.4 L181.2 167.63 L181.7 167.87 L182.2 168.11 L182.7 168.34 L183.2 168.58 L183.7 168.82 L184.2 169.06 L184.7 169.29 L185.2 169.52 L185.7 169.75 L186.2 169.98 L186.7 170.2 L187.2 170.41 L187.7 170.62 L188.2 170.83 L188.7 171.03 L189.2 171.23 L189.7 171.42 L190.2 171.6 L190.7 171.78 L191.2 171.94 L191.7 172.11 L192.2 172.26 L192.7 172.41 L193.2 172.56 L193.7 172.69 L194.2 172.82 L194.7 172.94 L195.2 173.06 L195.7 173.17 L196.2 173.27 L196.7 173.37 L197.2 173.46 L197.7 173.55 L198.2 173.63 L198.7 173.7 L199.2 173.77 L199.7 173.83 L200.2 173.89 L200.7 173.95 L201.2 174 L201.7 174.05 L202.2 174.09 L202.7 174.13 L203.2 174.17 L203.7 174.2 L204.2 174.23 L204.7 174.26 L205.2 174.29 L205.7 174.31 L206.2 174.33 L206.7 174.35 L207.2 174.37 L207.7 174.38 L208.2 174.39 L208.7 174.41 L209.2 174.42 L209.7 174.43 L210.2 174.44 L210.7 174.44 L211.2 174.45 L211.7 174.46 L212.2 174.46 L212.7 174.47 L213.2 174.47 L213.7 174.48 L214.2 174.48 L214.7 174.48 L215.2 174.48 L215.7 174.49 L216.2 174.49 L216.7 174.49 L217.2 174.49 L217.7 174.49 L218.2 174.49 L218.7 174.49 L219.2 174.5 L219.7 174.5 L220.2 174.5 L220.7 174.5 L221.2 174.5 L221.7 174.5 L222.2 174.5 L222.7 174.5 L223.2 174.5 L223.7 174.5 L223.8 174.5 Z" fill="#dadada" stroke="none"/>
<path d="M136.7 174.5 L137.2 174.5 L137.7 174.5 L138.2 174.5 L138.7 174.5 L139.2 174.5 L139.7 174.5 L140.2 174.5 L140.7 174.5 L141.2 174.5 L141.7 174.5 L142.2 174.5 L142.7 174.5 L143.2 174.5 L143.7 174.5 L144.2 174.5 L144.7 174.5 L145.2 174.5 L145.7 174.5 L146.2 174.5 L146.7 174.5 L147.2 174.5 L147.7 174.5 L148.2 174.49 L148.7 174.49 L149.2 174.49 L149.7 174.48 L150.2 174.47 L150.7 174.45 L151.2 174.43 L151.7 174.41 L152.2 174.37 L152.7 174.32 L153.2 174.26 L153.7 174.17 L154.2 174.07 L154.7 173.93 L155.2 173.77 L155.7 173.57 L156.2 173.32 L156.7 173.03 L157.2 172.7 L157.7 172.31 L158.2 171.88 L158.7 171.39 L159.2 170.86 L159.7 170.29 L160.2 169.68 L160.7 169.05 L161.2 168.4 L161.7 167.75 L162.2 167.11 L162.7 166.5 L163.2 165.93 L163.7 165.4 L164.2 164.95 L164.7 164.56 L165.2 164.25 L165.7 164.02 L166.2 163.88 L166.7 163.81 L167.2 163.8 L167.7 163.81 L168.2 163.82 L168.7 163.84 L169.2 163.88 L169.7 163.92 L170.2 163.98 L170.7 164.04 L171.2 164.12 L171.7 164.21 L172.2 164.31 L172.7 164.42 L173.2 164.54 L173.7 164.67 L174.2 164.81 L174.7 164.97 L175.2 165.13 L175.7 165.3 L176.2 165.48 L176.7 165.67 L177.2 165.86 L177.7 166.06 L178.2 166.27 L178.7 166.49 L179.2 166.71 L179.7 166.93 L180.2 167.16 L180.7 167.4 L181.2 167.63 L181.7 167.87 L182.2 168.11 L182.7 168.34 L183.2 168.58 L183.7 168.82 L184.2 169.06 L184.7 169.29 L185.2 169.52 L185.7 169.75 L186.2 169.98 L186.7 170.2 L187.2 170.41 L187.7 170.62 L188.2 170.83 L188.7 171.03 L189.2 171.23 L189.7 171.42 L190.2 171.6 L190.7 171.78 L191.2 171.94 L191.7 172.11 L192.2 172.26 L192.7 172.41 L193.2 172.56 L193.7 172.69 L194.2 172.82 L194.7 172.94 L195.2 173.06 L195.7 173.17 L196.2 173.27 L196.7 173.37 L197.2 173.46 L197.7 173.55 L198.2 173.63 L198.7 173.7 L199.2 173.77 L199.7 173.83 L200.2 173.89 L200.7 173.95 L201.2 174 L201.7 174.05 L202.2 174.09 L202.7 174.13 L203.2 174.17 L203.7 174.2 L204.2 174.23 L204.7 174.26 L205.2 174.29 L205.7 174.31 L206.2 174.33 L206.7 174.35 L207.2 174.37 L207.7 174.38 L208.2 174.39 L208.7 174.41 L209.2 174.42 L209.7 174.43 L210.2 174.44 L210.7 174.44 L211.2 174.45 L211.7 174.46 L212.2 174.46 L212.7 174.47 L213.2 174.47 L213.7 174.48 L214.2 174.48 L214.7 174.48 L215.2 174.48 L215.7 174.49 L216.2 174.49 L216.7 174.49 L217.2 174.49 L217.7 174.49 L218.2 174.49 L218.7 174.49 L219.2 174.5 L219.7 174.5 L220.2 174.5 L220.7 174.5 L221.2 174.5 L221.7 174.5 L222.2 174.5 L222.7 174.5 L223.2 174.5 L223.7 174.5" fill="none" stroke="#b9b9b9" stroke-width="1" stroke-linejoin="round"/>
<path d="M136.7 186.13 L136.7 186.13 L137.2 186.13 L137.7 186.13 L138.2 186.13 L138.7 186.13 L139.2 186.13 L139.7 186.13 L140.2 186.13 L140.7 186.13 L141.2 186.13 L141.7 186.13 L142.2 186.13 L142.7 186.13 L143.2 186.13 L143.7 186.13 L144.2 186.13 L144.7 186.13 L145.2 186.13 L145.7 186.13 L146.2 186.13 L146.7 186.13 L147.2 186.13 L147.7 186.13 L148.2 186.13 L148.7 186.13 L149.2 186.13 L149.7 186.13 L150.2 186.13 L150.7 186.13 L151.2 186.12 L151.7 186.11 L152.2 186.09 L152.7 186.04 L153.2 185.93 L153.7 185.74 L154.2 185.39 L154.7 184.85 L155.2 184.04 L155.7 182.94 L156.2 181.57 L156.7 180.05 L157.2 178.55 L157.7 177.26 L158.2 176.41 L158.7 176.09 L159.2 176.16 L159.7 176.55 L160.2 177.19 L160.7 177.98 L161.2 178.84 L161.7 179.7 L162.2 180.49 L162.7 181.2 L163.2 181.81 L163.7 182.27 L164.2 182.61 L164.7 182.84 L165.2 183 L165.7 183.11 L166.2 183.18 L166.7 183.24 L167.2 183.3 L167.7 183.35 L168.2 183.4 L168.7 183.45 L169.2 183.5 L169.7 183.56 L170.2 183.62 L170.7 183.69 L171.2 183.75 L171.7 183.82 L172.2 183.89 L172.7 183.97 L173.2 184.04 L173.7 184.11 L174.2 184.19 L174.7 184.26 L175.2 184.34 L175.7 184.42 L176.2 184.49 L176.7 184.57 L177.2 184.64 L177.7 184.71 L178.2 184.79 L178.7 184.86 L179.2 184.92 L179.7 184.99 L180.2 185.06 L180.7 185.12 L181.2 185.18 L181.7 185.24 L182.2 185.3 L182.7 185.35 L183.2 185.4 L183.7 185.45 L184.2 185.5 L184.7 185.55 L185.2 185.59 L185.7 185.63 L186.2 185.67 L186.7 185.7 L187.2 185.74 L187.7 185.77 L188.2 185.8 L188.7 185.83 L189.2 185.85 L189.7 185.88 L190.2 185.9 L190.7 185.92 L191.2 185.94 L191.7 185.96 L192.2 185.97 L192.7 185.99 L193.2 186 L193.7 186.02 L194.2 186.03 L194.7 186.04 L195.2 186.05 L195.7 186.06 L196.2 186.06 L196.7 186.07 L197.2 186.08 L197.7 186.08 L198.2 186.09 L198.7 186.09 L199.2 186.1 L199.7 186.1 L200.2 186.11 L200.7 186.11 L201.2 186.11 L201.7 186.11 L202.2 186.12 L202.7 186.12 L203.2 186.12 L203.7 186.12 L204.2 186.12 L204.7 186.12 L205.2 186.12 L205.7 186.12 L206.2 186.13 L206.7 186.13 L207.2 186.13 L207.7 186.13 L208.2 186.13 L208.7 186.13 L209.2 186.13 L209.7 186.13 L210.2 186.13 L210.7 186.13 L211.2 186.13 L211.7 186.13 L212.2 186.13 L212.7 186.13 L213.2 186.13 L213.7 186.13 L214.2 186.13 L214.7 186.13 L215.2 186.13 L215.7 186.13 L216.2 186.13 L216.7 186.13 L217.2 186.13 L217.7 186.13 L218.2 186.13 L218.7 186.13 L219.2 186.13 L219.7 186.13 L220.2 186.13 L220.7 186.13 L221.2 186.13 L221.7 186.13 L222.2 186.13 L222.7 186.13 L223.2 186.13 L223.7 186.13 L223.8 186.13 Z" fill="#dadada" stroke="none"/>
<path d="M136.7 186.13 L137.2 186.13 L137.7 186.13 L138.2 186.13 L138.7 186.13 L139.2 186.13 L139.7 186.13 L140.2 186.13 L140.7 186.13 L141.2 186.13 L141.7 186.13 L142.2 186.13 L142.7 186.13 L143.2 186.13 L143.7 186.13 L144.2 186.13 L144.7 186.13 L145.2 186.13 L145.7 186.13 L146.2 186.13 L146.7 186.13 L147.2 186.13 L147.7 186.13 L148.2 186.13 L148.7 186.13 L149.2 186.13 L149.7 186.13 L150.2 186.13 L150.7 186.13 L151.2 186.12 L151.7 186.11 L152.2 186.09 L152.7 186.04 L153.2 185.93 L153.7 185.74 L154.2 185.39 L154.7 184.85 L155.2 184.04 L155.7 182.94 L156.2 181.57 L156.7 180.05 L157.2 178.55 L157.7 177.26 L158.2 176.41 L158.7 176.09 L159.2 176.16 L159.7 176.55 L160.2 177.19 L160.7 177.98 L161.2 178.84 L161.7 179.7 L162.2 180.49 L162.7 181.2 L163.2 181.81 L163.7 182.27 L164.2 182.61 L164.7 182.84 L165.2 183 L165.7 183.11 L166.2 183.18 L166.7 183.24 L167.2 183.3 L167.7 183.35 L168.2 183.4 L168.7 183.45 L169.2 183.5 L169.7 183.56 L170.2 183.62 L170.7 183.69 L171.2 183.75 L171.7 183.82 L172.2 183.89 L172.7 183.97 L173.2 184.04 L173.7 184.11 L174.2 184.19 L174.7 184.26 L175.2 184.34 L175.7 184.42 L176.2 184.49 L176.7 184.57 L177.2 184.64 L177.7 184.71 L178.2 184.79 L178.7 184.86 L179.2 184.92 L179.7 184.99 L180.2 185.06 L180.7 185.12 L181.2 185.18 L181.7 185.24 L182.2 185.3 L182.7 185.35 L183.2 185.4 L183.7 185.45 L184.2 185.5 L184.7 185.55 L185.2 185.59 L185.7 185.63 L186.2 185.67 L186.7 185.7 L187.2 185.74 L187.7 185.77 L188.2 185.8 L188.7 185.83 L189.2 185.85 L189.7 185.88 L190.2 185.9 L190.7 185.92 L191.2 185.94 L191.7 185.96 L192.2 185.97 L192.7 185.99 L193.2 186 L193.7 186.02 L194.2 186.03 L194.7 186.04 L195.2 186.05 L195.7 186.06 L196.2 186.06 L196.7 186.07 L197.2 186.08 L197.7 186.08 L198.2 186.09 L198.7 186.09 L199.2 186.1 L199.7 186.1 L200.2 186.11 L200.7 186.11 L201.2 186.11 L201.7 186.11 L202.2 186.12 L202.7 186.12 L203.2 186.12 L203.7 186.12 L204.2 186.12 L204.7 186.12 L205.2 186.12 L205.7 186.12 L206.2 186.13 L206.7 186.13 L207.2 186.13 L207.7 186.13 L208.2 186.13 L208.7 186.13 L209.2 186.13 L209.7 186.13 L210.2 186.13 L210.7 186.13 L211.2 186.13 L211.7 186.13 L212.2 186.13 L212.7 186.13 L213.2 186.13 L213.7 186.13 L214.2 186.13 L214.7 186.13 L215.2 186.13 L215.7 186.13 L216.2 186.13 L216.7 186.13 L217.2 186.13 L217.7 186.13 L218.2 186.13 L218.7 186.13 L219.2 186.13 L219.7 186.13 L220.2 186.13 L220.7 186.13 L221.2 186.13 L221.7 186.13 L222.2 186.13 L222.7 186.13 L223.2 186.13 L223.7 186.13" fill="none" stroke="#b9b9b9" stroke-width="1" stroke-linejoin="round"/>
<path d="M136.7 197.76 L136.7 197.76 L137.2 197.76 L137.7 197.76 L138.2 197.76 L138.7 197.76 L139.2 197.76 L139.7 197.76 L140.2 197.76 L140.7 197.76 L141.2 197.76 L141.7 197.76 L142.2 197.75 L142.7 197.75 L143.2 197.75 L143.7 197.75 L144.2 197.74 L144.7 197.73 L145.2 197.73 L145.7 197.72 L146.2 197.71 L146.7 197.7 L147.2 197.68 L147.7 197.66 L148.2 197.64 L148.7 197.61 L149.2 197.59 L149.7 197.55 L150.2 197.51 L150.7 197.47 L151.2 197.42 L151.7 197.36 L152.2 197.29 L152.7 197.22 L153.2 197.12 L153.7 197 L154.2 196.82 L154.7 196.56 L155.2 196.17 L155.7 195.6 L156.2 194.8 L156.7 193.75 L157.2 192.48 L157.7 191.1 L158.2 189.74 L158.7 188.62 L159.2 187.91 L159.7 187.71 L160.2 187.88 L160.7 188.35 L161.2 189.06 L161.7 189.9 L162.2 190.78 L162.7 191.62 L163.2 192.36 L163.7 192.95 L164.2 193.4 L164.7 193.72 L165.2 193.91 L165.7 194.02 L166.2 194.06 L166.7 194.07 L167.2 194.04 L167.7 194.01 L168.2 193.97 L168.7 193.93 L169.2 193.9 L169.7 193.87 L170.2 193.84 L170.7 193.82 L171.2 193.8 L171.7 193.79 L172.2 193.78 L172.7 193.77 L173.2 193.76 L173.7 193.76 L174.2 193.76 L174.7 193.76 L175.2 193.76 L175.7 193.76 L176.2 193.76 L176.7 193.76 L177.2 193.76 L177.7 193.76 L178.2 193.77 L178.7 193.77 L179.2 193.78 L179.7 193.79 L180.2 193.79 L180.7 193.81 L181.2 193.82 L181.7 193.83 L182.2 193.85 L182.7 193.87 L183.2 193.9 L183.7 193.92 L184.2 193.95 L184.7 193.98 L185.2 194.02 L185.7 194.05 L186.2 194.1 L186.7 194.14 L187.2 194.19 L187.7 194.24 L188.2 194.3 L188.7 194.35 L189.2 194.42 L189.7 194.48 L190.2 194.55 L190.7 194.62 L191.2 194.69 L191.7 194.77 L192.2 194.85 L192.7 194.93 L193.2 195.02 L193.7 195.1 L194.2 195.19 L194.7 195.28 L195.2 195.37 L195.7 195.46 L196.2 195.55 L196.7 195.65 L197.2 195.74 L197.7 195.83 L198.2 195.93 L198.7 196.02 L199.2 196.11 L199.7 196.2 L200.2 196.29 L200.7 196.38 L201.2 196.46 L201.7 196.54 L202.2 196.62 L202.7 196.7 L203.2 196.78 L203.7 196.85 L204.2 196.92 L204.7 196.98 L205.2 197.04 L205.7 197.1 L206.2 197.16 L206.7 197.21 L207.2 197.26 L207.7 197.31 L208.2 197.35 L208.7 197.39 L209.2 197.43 L209.7 197.47 L210.2 197.5 L210.7 197.53 L211.2 197.55 L211.7 197.58 L212.2 197.6 L212.7 197.62 L213.2 197.64 L213.7 197.65 L214.2 197.67 L214.7 197.68 L215.2 197.69 L215.7 197.7 L216.2 197.71 L216.7 197.72 L217.2 197.72 L217.7 197.73 L218.2 197.73 L218.7 197.74 L219.2 197.74 L219.7 197.74 L220.2 197.75 L220.7 197.75 L221.2 197.75 L221.7 197.75 L222.2 197.75 L222.7 197.76 L223.2 197.76 L223.7 197.76 L223.8 197.76 Z" fill="#dadada" stroke="none"/>
<path d="M136.7 197.76 L137.2 197.76 L137.7 197.76 L138.2 197.76 L138.7 197.76 L139.2 197.76 L139.7 197.76 L140.2 197.76 L140.7 197.76 L141.2 197.76 L141.7 197.76 L142.2 197.75 L142.7 197.75 L143.2 197.75 L143.7 197.75 L144.2 197.74 L144.7 197.73 L145.2 197.73 L145.7 197.72 L146.2 197.71 L146.7 197.7 L147.2 197.68 L147.7 197.66 L148.2 197.64 L148.7 197.61 L149.2 197.59 L149.7 197.55 L150.2 197.51 L150.7 197.47 L151.2 197.42 L151.7 197.36 L152.2 197.29 L152.7 197.22 L153.2 197.12 L153.7 197 L154.2 196.82 L154.7 196.56 L155.2 196.17 L155.7 195.6 L156.2 194.8 L156.7 193.75 L157.2 192.48 L157.7 191.1 L158.2 189.74 L158.7 188.62 L159.2 187.91 L159.7 187.71 L160.2 187.88 L160.7 188.35 L161.2 189.06 L161.7 189.9 L162.2 190.78 L162.7 191.62 L163.2 192.36 L163.7 192.95 L164.2 193.4 L164.7 193.72 L165.2 193.91 L165.7 194.02 L166.2 194.06 L166.7 194.07 L167.2 194.04 L167.7 194.01 L168.2 193.97 L168.7 193.93 L169.2 193.9 L169.7 193.87 L170.2 193.84 L170.7 193.82 L171.2 193.8 L171.7 193.79 L172.2 193.78 L172.7 193.77 L173.2 193.76 L173.7 193.76 L174.2 193.76 L174.7 193.76 L175.2 193.76 L175.7 193.76 L176.2 193.76 L176.7 193.76 L177.2 193.76 L177.7 193.76 L178.2 193.77 L178.7 193.77 L179.2 193.78 L179.7 193.79 L180.2 193.79 L180.7 193.81 L181.2 193.82 L181.7 193.83 L182.2 193.85 L182.7 193.87 L183.2 193.9 L183.7 193.92 L184.2 193.95 L184.7 193.98 L185.2 194.02 L185.7 194.05 L186.2 194.1 L186.7 194.14 L187.2 194.19 L187.7 194.24 L188.2 194.3 L188.7 194.35 L189.2 194.42 L189.7 194.48 L190.2 194.55 L190.7 194.62 L191.2 194.69 L191.7 194.77 L192.2 194.85 L192.7 194.93 L193.2 195.02 L193.7 195.1 L194.2 195.19 L194.7 195.28 L195.2 195.37 L195.7 195.46 L196.2 195.55 L196.7 195.65 L197.2 195.74 L197.7 195.83 L198.2 195.93 L198.7 196.02 L199.2 196.11 L199.7 196.2 L200.2 196.29 L200.7 196.38 L201.2 196.46 L201.7 196.54 L202.2 196.62 L202.7 196.7 L203.2 196.78 L203.7 196.85 L204.2 196.92 L204.7 196.98 L205.2 197.04 L205.7 197.1 L206.2 197.16 L206.7 197.21 L207.2 197.26 L207.7 197.31 L208.2 197.35 L208.7 197.39 L209.2 197.43 L209.7 197.47 L210.2 197.5 L210.7 197.53 L211.2 197.55 L211.7 197.58 L212.2 197.6 L212.7 197.62 L213.2 197.64 L213.7 197.65 L214.2 197.67 L214.7 197.68 L215.2 197.69 L215.7 197.7 L216.2 197.71 L216.7 197.72 L217.2 197.72 L217.7 197.73 L218.2 197.73 L218.7 197.74 L219.2 197.74 L219.7 197.74 L220.2 197.75 L220.7 197.75 L221.2 197.75 L221.7 197.75 L222.2 197.75 L222.7 197.76 L223.2 197.76 L223.7 197.76" fill="none" stroke="#b9b9b9" stroke-width="1" stroke-linejoin="round"/>
<path d="M136.7 209.39 L136.7 209.39 L137.2 209.39 L137.7 209.39 L138.2 209.39 L138.7 209.39 L139.2 209.39 L139.7 209.39 L140.2 209.39 L140.7 209.39 L141.2 209.39 L141.7 209.39 L142.2 209.39 L142.7 209.39 L143.2 209.39 L143.7 209.39 L144.2 209.39 L144.7 209.39 L145.2 209.39 L145.7 209.39 L146.2 209.39 L146.7 209.39 L147.2 209.39 L147.7 209.39 L148.2 209.39 L148.7 209.39 L149.2 209.39 L149.7 209.39 L150.2 209.39 L150.7 209.39 L151.2 209.39 L151.7 209.38 L152.2 209.36 L152.7 209.32 L153.2 209.24 L153.7 209.09 L154.2 208.82 L154.7 208.38 L155.2 207.72 L155.7 206.8 L156.2 205.65 L156.7 204.33 L157.2 203 L157.7 201.84 L158.2 201.04 L158.7 200.73 L159.2 200.8 L159.7 201.17 L160.2 201.77 L160.7 202.52 L161.2 203.32 L161.7 204.09 L162.2 204.78 L162.7 205.33 L163.2 205.74 L163.7 206.03 L164.2 206.2 L164.7 206.3 L165.2 206.33 L165.7 206.33 L166.2 206.31 L166.7 206.29 L167.2 206.26 L167.7 206.24 L168.2 206.22 L168.7 206.21 L169.2 206.2 L169.7 206.19 L170.2 206.19 L170.7 206.19 L171.2 206.19 L171.7 206.19 L172.2 206.19 L172.7 206.19 L173.2 206.19 L173.7 206.19 L174.2 206.19 L174.7 206.19 L175.2 206.19 L175.7 206.2 L176.2 206.2 L176.7 206.21 L177.2 206.21 L177.7 206.22 L178.2 206.24 L178.7 206.25 L179.2 206.27 L179.7 206.3 L180.2 206.32 L180.7 206.35 L181.2 206.38 L181.7 206.41 L182.2 206.44 L182.7 206.46 L183.2 206.49 L183.7 206.5 L184.2 206.51 L184.7 206.51 L185.2 206.5 L185.7 206.47 L186.2 206.41 L186.7 206.34 L187.2 206.25 L187.7 206.13 L188.2 205.99 L188.7 205.82 L189.2 205.63 L189.7 205.41 L190.2 205.18 L190.7 204.93 L191.2 204.67 L191.7 204.4 L192.2 204.14 L192.7 203.87 L193.2 203.62 L193.7 203.38 L194.2 203.16 L194.7 202.96 L195.2 202.79 L195.7 202.65 L196.2 202.55 L196.7 202.47 L197.2 202.41 L197.7 202.39 L198.2 202.38 L198.7 202.4 L199.2 202.46 L199.7 202.6 L200.2 202.82 L200.7 203.12 L201.2 203.51 L201.7 203.97 L202.2 204.48 L202.7 205.03 L203.2 205.6 L203.7 206.16 L204.2 206.7 L204.7 207.21 L205.2 207.65 L205.7 208.05 L206.2 208.37 L206.7 208.64 L207.2 208.85 L207.7 209.02 L208.2 209.14 L208.7 209.22 L209.2 209.28 L209.7 209.32 L210.2 209.35 L210.7 209.37 L211.2 209.38 L211.7 209.38 L212.2 209.39 L212.7 209.39 L213.2 209.39 L213.7 209.39 L214.2 209.39 L214.7 209.39 L215.2 209.39 L215.7 209.39 L216.2 209.39 L216.7 209.39 L217.2 209.39 L217.7 209.39 L218.2 209.39 L218.7 209.39 L219.2 209.39 L219.7 209.39 L220.2 209.39 L220.7 209.39 L221.2 209.39 L221.7 209.39 L222.2 209.39 L222.7 209.39 L223.2 209.39 L223.7 209.39 L223.8 209.39 Z" fill="#dadada" stroke="none"/>
<path d="M136.7 209.39 L137.2 209.39 L137.7 209.39 L138.2 209.39 L138.7 209.39 L139.2 209.39 L139.7 209.39 L140.2 209.39 L140.7 209.39 L141.2 209.39 L141.7 209.39 L142.2 209.39 L142.7 209.39 L143.2 209.39 L143.7 209.39 L144.2 209.39 L144.7 209.39 L145.2 209.39 L145.7 209.39 L146.2 209.39 L146.7 209.39 L147.2 209.39 L147.7 209.39 L148.2 209.39 L148.7 209.39 L149.2 209.39 L149.7 209.39 L150.2 209.39 L150.7 209.39 L151.2 209.39 L151.7 209.38 L152.2 209.36 L152.7 209.32 L153.2 209.24 L153.7 209.09 L154.2 208.82 L154.7 208.38 L155.2 207.72 L155.7 206.8 L156.2 205.65 L156.7 204.33 L157.2 203 L157.7 201.84 L158.2 201.04 L158.7 200.73 L159.2 200.8 L159.7 201.17 L160.2 201.77 L160.7 202.52 L161.2 203.32 L161.7 204.09 L162.2 204.78 L162.7 205.33 L163.2 205.74 L163.7 206.03 L164.2 206.2 L164.7 206.3 L165.2 206.33 L165.7 206.33 L166.2 206.31 L166.7 206.29 L167.2 206.26 L167.7 206.24 L168.2 206.22 L168.7 206.21 L169.2 206.2 L169.7 206.19 L170.2 206.19 L170.7 206.19 L171.2 206.19 L171.7 206.19 L172.2 206.19 L172.7 206.19 L173.2 206.19 L173.7 206.19 L174.2 206.19 L174.7 206.19 L175.2 206.19 L175.7 206.2 L176.2 206.2 L176.7 206.21 L177.2 206.21 L177.7 206.22 L178.2 206.24 L178.7 206.25 L179.2 206.27 L179.7 206.3 L180.2 206.32 L180.7 206.35 L181.2 206.38 L181.7 206.41 L182.2 206.44 L182.7 206.46 L183.2 206.49 L183.7 206.5 L184.2 206.51 L184.7 206.51 L185.2 206.5 L185.7 206.47 L186.2 206.41 L186.7 206.34 L187.2 206.25 L187.7 206.13 L188.2 205.99 L188.7 205.82 L189.2 205.63 L189.7 205.41 L190.2 205.18 L190.7 204.93 L191.2 204.67 L191.7 204.4 L192.2 204.14 L192.7 203.87 L193.2 203.62 L193.7 203.38 L194.2 203.16 L194.7 202.96 L195.2 202.79 L195.7 202.65 L196.2 202.55 L196.7 202.47 L197.2 202.41 L197.7 202.39 L198.2 202.38 L198.7 202.4 L199.2 202.46 L199.7 202.6 L200.2 202.82 L200.7 203.12 L201.2 203.51 L201.7 203.97 L202.2 204.48 L202.7 205.03 L203.2 205.6 L203.7 206.16 L204.2 206.7 L204.7 207.21 L205.2 207.65 L205.7 208.05 L206.2 208.37 L206.7 208.64 L207.2 208.85 L207.7 209.02 L208.2 209.14 L208.7 209.22 L209.2 209.28 L209.7 209.32 L210.2 209.35 L210.7 209.37 L211.2 209.38 L211.7 209.38 L212.2 209.39 L212.7 209.39 L213.2 209.39 L213.7 209.39 L214.2 209.39 L214.7 209.39 L215.2 209.39 L215.7 209.39 L216.2 209.39 L216.7 209.39 L217.2 209.39 L217.7 209.39 L218.2 209.39 L218.7 209.39 L219.2 209.39 L219.7 209.39 L220.2 209.39 L220.7 209.39 L221.2 209.39 L221.7 209.39 L222.2 209.39 L222.7 209.39 L223.2 209.39 L223.7 209.39" fill="none" stroke="#b9b9b9" stroke-width="1" stroke-linejoin="round"/>
<path d="M136.7 221.02 L136.7 221.02 L137.2 221.02 L137.7 221.02 L138.2 221.02 L138.7 221.02 L139.2 221.02 L139.7 221.02 L140.2 221.02 L140.7 221.02 L141.2 221.02 L141.7 221.02 L142.2 221.02 L142.7 221.02 L143.2 221.02 L143.7 221.02 L144.2 221.02 L144.7 221.02 L145.2 221.02 L145.7 221.02 L146.2 221.02 L146.7 221.02 L147.2 221.02 L147.7 221.01 L148.2 221.01 L148.7 221.01 L149.2 221 L149.7 220.99 L150.2 220.98 L150.7 220.95 L151.2 220.91 L151.7 220.85 L152.2 220.76 L152.7 220.62 L153.2 220.42 L153.7 220.15 L154.2 219.8 L154.7 219.36 L155.2 218.84 L155.7 218.26 L156.2 217.65 L156.7 217.05 L157.2 216.5 L157.7 216.07 L158.2 215.79 L158.7 215.67 L159.2 215.73 L159.7 215.95 L160.2 216.28 L160.7 216.69 L161.2 217.12 L161.7 217.53 L162.2 217.89 L162.7 218.18 L163.2 218.38 L163.7 218.51 L164.2 218.56 L164.7 218.57 L165.2 218.53 L165.7 218.47 L166.2 218.39 L166.7 218.3 L167.2 218.22 L167.7 218.13 L168.2 218.05 L168.7 217.98 L169.2 217.92 L169.7 217.86 L170.2 217.81 L170.7 217.76 L171.2 217.73 L171.7 217.7 L172.2 217.67 L172.7 217.66 L173.2 217.64 L173.7 217.63 L174.2 217.63 L174.7 217.62 L175.2 217.62 L175.7 217.62 L176.2 217.62 L176.7 217.62 L177.2 217.62 L177.7 217.63 L178.2 217.64 L178.7 217.66 L179.2 217.68 L179.7 217.71 L180.2 217.74 L180.7 217.75 L181.2 217.76 L181.7 217.74 L182.2 217.69 L182.7 217.6 L183.2 217.46 L183.7 217.26 L184.2 217 L184.7 216.69 L185.2 216.32 L185.7 215.92 L186.2 215.48 L186.7 215.03 L187.2 214.58 L187.7 214.14 L188.2 213.73 L188.7 213.36 L189.2 213.05 L189.7 212.78 L190.2 212.57 L190.7 212.41 L191.2 212.3 L191.7 212.24 L192.2 212.2 L192.7 212.19 L193.2 212.2 L193.7 212.21 L194.2 212.22 L194.7 212.26 L195.2 212.35 L195.7 212.5 L196.2 212.72 L196.7 213.04 L197.2 213.46 L197.7 213.98 L198.2 214.58 L198.7 215.25 L199.2 215.98 L199.7 216.72 L200.2 217.46 L200.7 218.15 L201.2 218.79 L201.7 219.34 L202.2 219.8 L202.7 220.17 L203.2 220.45 L203.7 220.66 L204.2 220.8 L204.7 220.89 L205.2 220.95 L205.7 220.98 L206.2 221 L206.7 221.01 L207.2 221.02 L207.7 221.02 L208.2 221.02 L208.7 221.02 L209.2 221.02 L209.7 221.02 L210.2 221.02 L210.7 221.02 L211.2 221.02 L211.7 221.02 L212.2 221.02 L212.7 221.02 L213.2 221.02 L213.7 221.02 L214.2 221.02 L214.7 221.02 L215.2 221.02 L215.7 221.02 L216.2 221.02 L216.7 221.02 L217.2 221.02 L217.7 221.02 L218.2 221.02 L218.7 221.02 L219.2 221.02 L219.7 221.02 L220.2 221.02 L220.7 221.02 L221.2 221.02 L221.7 221.02 L222.2 221.02 L222.7 221.02 L223.2 221.02 L223.7 221.02 L223.8 221.02 Z" fill="#dadada" stroke="none"/>
<path d="M136.7 221.02 L137.2 221.02 L137.7 221.02 L138.2 221.02 L138.7 221.02 L139.2 221.02 L139.7 221.02 L140.2 221.02 L140.7 221.02 L141.2 221.02 L141.7 221.02 L142.2 221.02 L142.7 221.02 L143.2 221.02 L143.7 221.02 L144.2 221.02 L144.7 221.02 L145.2 221.02 L145.7 221.02 L146.2 221.02 L146.7 221.02 L147.2 221.02 L147.7 221.01 L148.2 221.01 L148.7 221.01 L149.2 221 L149.7 220.99 L150.2 220.98 L150.7 220.95 L151.2 220.91 L151.7 220.85 L152.2 220.76 L152.7 220.62 L153.2 220.42 L153.7 220.15 L154.2 219.8 L154.7 219.36 L155.2 218.84 L155.7 218.26 L156.2 217.65 L156.7 217.05 L157.2 216.5 L157.7 216.07 L158.2 215.79 L158.7 215.67 L159.2 215.73 L159.7 215.95 L160.2 216.28 L160.7 216.69 L161.2 217.12 L161.7 217.53 L162.2 217.89 L162.7 218.18 L163.2 218.38 L163.7 218.51 L164.2 218.56 L164.7 218.57 L165.2 218.53 L165.7 218.47 L166.2 218.39 L166.7 218.3 L167.2 218.22 L167.7 218.13 L168.2 218.05 L168.7 217.98 L169.2 217.92 L169.7 217.86 L170.2 217.81 L170.7 217.76 L171.2 217.73 L171.7 217.7 L172.2 217.67 L172.7 217.66 L173.2 217.64 L173.7 217.63 L174.2 217.63 L174.7 217.62 L175.2 217.62 L175.7 217.62 L176.2 217.62 L176.7 217.62 L177.2 217.62 L177.7 217.63 L178.2 217.64 L178.7 217.66 L179.2 217.68 L179.7 217.71 L180.2 217.74 L180.7 217.75 L181.2 217.76 L181.7 217.74 L182.2 217.69 L182.7 217.6 L183.2 217.46 L183.7 217.26 L184.2 217 L184.7 216.69 L185.2 216.32 L185.7 215.92 L186.2 215.48 L186.7 215.03 L187.2 214.58 L187.7 214.14 L188.2 213.73 L188.7 213.36 L189.2 213.05 L189.7 212.78 L190.2 212.57 L190.7 212.41 L191.2 212.3 L191.7 212.24 L192.2 212.2 L192.7 212.19 L193.2 212.2 L193.7 212.21 L194.2 212.22 L194.7 212.26 L195.2 212.35 L195.7 212.5 L196.2 212.72 L196.7 213.04 L197.2 213.46 L197.7 213.98 L198.2 214.58 L198.7 215.25 L199.2 215.98 L199.7 216.72 L200.2 217.46 L200.7 218.15 L201.2 218.79 L201.7 219.34 L202.2 219.8 L202.7 220.17 L203.2 220.45 L203.7 220.66 L204.2 220.8 L204.7 220.89 L205.2 220.95 L205.7 220.98 L206.2 221 L206.7 221.01 L207.2 221.02 L207.7 221.02 L208.2 221.02 L208.7 221.02 L209.2 221.02 L209.7 221.02 L210.2 221.02 L210.7 221.02 L211.2 221.02 L211.7 221.02 L212.2 221.02 L212.7 221.02 L213.2 221.02 L213.7 221.02 L214.2 221.02 L214.7 221.02 L215.2 221.02 L215.7 221.02 L216.2 221.02 L216.7 221.02 L217.2 221.02 L217.7 221.02 L218.2 221.02 L218.7 221.02 L219.2 221.02 L219.7 221.02 L220.2 221.02 L220.7 221.02 L221.2 221.02 L221.7 221.02 L222.2 221.02 L222.7 221.02 L223.2 221.02 L223.7 221.02" fill="none" stroke="#b9b9b9" stroke-width="1" stroke-linejoin="round"/>
<path d="M136.7 232.65 L136.7 232.65 L137.2 232.65 L137.7 232.65 L138.2 232.65 L138.7 232.65 L139.2 232.65 L139.7 232.65 L140.2 232.65 L140.7 232.65 L141.2 232.65 L141.7 232.65 L142.2 232.65 L142.7 232.65 L143.2 232.65 L143.7 232.65 L144.2 232.65 L144.7 232.65 L145.2 232.65 L145.7 232.65 L146.2 232.65 L146.7 232.65 L147.2 232.65 L147.7 232.65 L148.2 232.65 L148.7 232.65 L149.2 232.65 L149.7 232.65 L150.2 232.65 L150.7 232.65 L151.2 232.65 L151.7 232.65 L152.2 232.65 L152.7 232.65 L153.2 232.65 L153.7 232.64 L154.2 232.63 L154.7 232.61 L155.2 232.56 L155.7 232.47 L156.2 232.34 L156.7 232.16 L157.2 231.96 L157.7 231.78 L158.2 231.67 L158.7 231.66 L159.2 231.75 L159.7 231.92 L160.2 232.12 L160.7 232.31 L161.2 232.45 L161.7 232.54 L162.2 232.6 L162.7 232.62 L163.2 232.63 L163.7 232.64 L164.2 232.63 L164.7 232.63 L165.2 232.62 L165.7 232.62 L166.2 232.61 L166.7 232.59 L167.2 232.58 L167.7 232.56 L168.2 232.54 L168.7 232.51 L169.2 232.48 L169.7 232.45 L170.2 232.4 L170.7 232.35 L171.2 232.29 L171.7 232.22 L172.2 232.13 L172.7 232.04 L173.2 231.93 L173.7 231.81 L174.2 231.67 L174.7 231.51 L175.2 231.33 L175.7 231.14 L176.2 230.92 L176.7 230.69 L177.2 230.43 L177.7 230.16 L178.2 229.86 L178.7 229.55 L179.2 229.21 L179.7 228.86 L180.2 228.49 L180.7 228.11 L181.2 227.72 L181.7 227.32 L182.2 226.91 L182.7 226.51 L183.2 226.1 L183.7 225.69 L184.2 225.3 L184.7 224.92 L185.2 224.55 L185.7 224.2 L186.2 223.87 L186.7 223.57 L187.2 223.3 L187.7 223.05 L188.2 222.84 L188.7 222.66 L189.2 222.51 L189.7 222.4 L190.2 222.32 L190.7 222.27 L191.2 222.25 L191.7 222.26 L192.2 222.37 L192.7 222.58 L193.2 222.92 L193.7 223.37 L194.2 223.93 L194.7 224.57 L195.2 225.28 L195.7 226.03 L196.2 226.81 L196.7 227.57 L197.2 228.31 L197.7 229 L198.2 229.64 L198.7 230.21 L199.2 230.71 L199.7 231.13 L200.2 231.48 L200.7 231.77 L201.2 232 L201.7 232.18 L202.2 232.31 L202.7 232.42 L203.2 232.49 L203.7 232.54 L204.2 232.58 L204.7 232.6 L205.2 232.62 L205.7 232.63 L206.2 232.64 L206.7 232.64 L207.2 232.65 L207.7 232.65 L208.2 232.65 L208.7 232.65 L209.2 232.65 L209.7 232.65 L210.2 232.65 L210.7 232.65 L211.2 232.65 L211.7 232.65 L212.2 232.65 L212.7 232.65 L213.2 232.65 L213.7 232.65 L214.2 232.65 L214.7 232.65 L215.2 232.65 L215.7 232.65 L216.2 232.65 L216.7 232.65 L217.2 232.65 L217.7 232.65 L218.2 232.65 L218.7 232.65 L219.2 232.65 L219.7 232.65 L220.2 232.65 L220.7 232.65 L221.2 232.65 L221.7 232.65 L222.2 232.65 L222.7 232.65 L223.2 232.65 L223.7 232.65 L223.8 232.65 Z" fill="#dadada" stroke="none"/>
<path d="M136.7 232.65 L137.2 232.65 L137.7 232.65 L138.2 232.65 L138.7 232.65 L139.2 232.65 L139.7 232.65 L140.2 232.65 L140.7 232.65 L141.2 232.65 L141.7 232.65 L142.2 232.65 L142.7 232.65 L143.2 232.65 L143.7 232.65 L144.2 232.65 L144.7 232.65 L145.2 232.65 L145.7 232.65 L146.2 232.65 L146.7 232.65 L147.2 232.65 L147.7 232.65 L148.2 232.65 L148.7 232.65 L149.2 232.65 L149.7 232.65 L150.2 232.65 L150.7 232.65 L151.2 232.65 L151.7 232.65 L152.2 232.65 L152.7 232.65 L153.2 232.65 L153.7 232.64 L154.2 232.63 L154.7 232.61 L155.2 232.56 L155.7 232.47 L156.2 232.34 L156.7 232.16 L157.2 231.96 L157.7 231.78 L158.2 231.67 L158.7 231.66 L159.2 231.75 L159.7 231.92 L160.2 232.12 L160.7 232.31 L161.2 232.45 L161.7 232.54 L162.2 232.6 L162.7 232.62 L163.2 232.63 L163.7 232.64 L164.2 232.63 L164.7 232.63 L165.2 232.62 L165.7 232.62 L166.2 232.61 L166.7 232.59 L167.2 232.58 L167.7 232.56 L168.2 232.54 L168.7 232.51 L169.2 232.48 L169.7 232.45 L170.2 232.4 L170.7 232.35 L171.2 232.29 L171.7 232.22 L172.2 232.13 L172.7 232.04 L173.2 231.93 L173.7 231.81 L174.2 231.67 L174.7 231.51 L175.2 231.33 L175.7 231.14 L176.2 230.92 L176.7 230.69 L177.2 230.43 L177.7 230.16 L178.2 229.86 L178.7 229.55 L179.2 229.21 L179.7 228.86 L180.2 228.49 L180.7 228.11 L181.2 227.72 L181.7 227.32 L182.2 226.91 L182.7 226.51 L183.2 226.1 L183.7 225.69 L184.2 225.3 L184.7 224.92 L185.2 224.55 L185.7 224.2 L186.2 223.87 L186.7 223.57 L187.2 223.3 L187.7 223.05 L188.2 222.84 L188.7 222.66 L189.2 222.51 L189.7 222.4 L190.2 222.32 L190.7 222.27 L191.2 222.25 L191.7 222.26 L192.2 222.37 L192.7 222.58 L193.2 222.92 L193.7 223.37 L194.2 223.93 L194.7 224.57 L195.2 225.28 L195.7 226.03 L196.2 226.81 L196.7 227.57 L197.2 228.31 L197.7 229 L198.2 229.64 L198.7 230.21 L199.2 230.71 L199.7 231.13 L200.2 231.48 L200.7 231.77 L201.2 232 L201.7 232.18 L202.2 232.31 L202.7 232.42 L203.2 232.49 L203.7 232.54 L204.2 232.58 L204.7 232.6 L205.2 232.62 L205.7 232.63 L206.2 232.64 L206.7 232.64 L207.2 232.65 L207.7 232.65 L208.2 232.65 L208.7 232.65 L209.2 232.65 L209.7 232.65 L210.2 232.65 L210.7 232.65 L211.2 232.65 L211.7 232.65 L212.2 232.65 L212.7 232.65 L213.2 232.65 L213.7 232.65 L214.2 232.65 L214.7 232.65 L215.2 232.65 L215.7 232.65 L216.2 232.65 L216.7 232.65 L217.2 232.65 L217.7 232.65 L218.2 232.65 L218.7 232.65 L219.2 232.65 L219.7 232.65 L220.2 232.65 L220.7 232.65 L221.2 232.65 L221.7 232.65 L222.2 232.65 L222.7 232.65 L223.2 232.65 L223.7 232.65" fill="none" stroke="#b9b9b9" stroke-width="1" stroke-linejoin="round"/>
<path d="M136.7 244.28 L136.7 244.28 L137.2 244.28 L137.7 244.28 L138.2 244.28 L138.7 244.28 L139.2 244.28 L139.7 244.28 L140.2 244.28 L140.7 244.28 L141.2 244.28 L141.7 244.28 L142.2 244.28 L142.7 244.28 L143.2 244.28 L143.7 244.28 L144.2 244.28 L144.7 244.28 L145.2 244.28 L145.7 244.28 L146.2 244.28 L146.7 244.28 L147.2 244.28 L147.7 244.28 L148.2 244.28 L148.7 244.28 L149.2 244.28 L149.7 244.28 L150.2 244.28 L150.7 244.28 L151.2 244.28 L151.7 244.28 L152.2 244.28 L152.7 244.28 L153.2 244.28 L153.7 244.28 L154.2 244.28 L154.7 244.28 L155.2 244.28 L155.7 244.28 L156.2 244.28 L156.7 244.28 L157.2 244.28 L157.7 244.28 L158.2 244.28 L158.7 244.28 L159.2 244.28 L159.7 244.27 L160.2 244.27 L160.7 244.27 L161.2 244.26 L161.7 244.25 L162.2 244.24 L162.7 244.22 L163.2 244.2 L163.7 244.17 L164.2 244.13 L164.7 244.08 L165.2 244.01 L165.7 243.93 L166.2 243.83 L166.7 243.7 L167.2 243.55 L167.7 243.37 L168.2 243.15 L168.7 242.89 L169.2 242.6 L169.7 242.26 L170.2 241.88 L170.7 241.46 L171.2 241 L171.7 240.49 L172.2 239.96 L172.7 239.39 L173.2 238.81 L173.7 238.21 L174.2 237.61 L174.7 237.02 L175.2 236.44 L175.7 235.89 L176.2 235.38 L176.7 234.92 L177.2 234.52 L177.7 234.18 L178.2 233.9 L178.7 233.7 L179.2 233.56 L179.7 233.49 L180.2 233.48 L180.7 233.53 L181.2 233.67 L181.7 233.91 L182.2 234.25 L182.7 234.69 L183.2 235.21 L183.7 235.81 L184.2 236.46 L184.7 237.16 L185.2 237.87 L185.7 238.59 L186.2 239.3 L186.7 239.98 L187.2 240.62 L187.7 241.2 L188.2 241.73 L188.7 242.2 L189.2 242.61 L189.7 242.96 L190.2 243.25 L190.7 243.49 L191.2 243.68 L191.7 243.83 L192.2 243.95 L192.7 244.04 L193.2 244.11 L193.7 244.16 L194.2 244.2 L194.7 244.23 L195.2 244.24 L195.7 244.26 L196.2 244.26 L196.7 244.27 L197.2 244.27 L197.7 244.28 L198.2 244.28 L198.7 244.28 L199.2 244.28 L199.7 244.28 L200.2 244.28 L200.7 244.28 L201.2 244.28 L201.7 244.28 L202.2 244.28 L202.7 244.28 L203.2 244.28 L203.7 244.28 L204.2 244.28 L204.7 244.28 L205.2 244.28 L205.7 244.28 L206.2 244.28 L206.7 244.28 L207.2 244.28 L207.7 244.28 L208.2 244.28 L208.7 244.28 L209.2 244.28 L209.7 244.28 L210.2 244.28 L210.7 244.28 L211.2 244.28 L211.7 244.28 L212.2 244.28 L212.7 244.28 L213.2 244.28 L213.7 244.28 L214.2 244.28 L214.7 244.28 L215.2 244.28 L215.7 244.28 L216.2 244.28 L216.7 244.28 L217.2 244.28 L217.7 244.28 L218.2 244.28 L218.7 244.28 L219.2 244.28 L219.7 244.28 L220.2 244.28 L220.7 244.28 L221.2 244.28 L221.7 244.28 L222.2 244.28 L222.7 244.28 L223.2 244.28 L223.7 244.28 L223.8 244.28 Z" fill="#dadada" stroke="none"/>
<path d="M136.7 244.28 L137.2 244.28 L137.7 244.28 L138.2 244.28 L138.7 244.28 L139.2 244.28 L139.7 244.28 L140.2 244.28 L140.7 244.28 L141.2 244.28 L141.7 244.28 L142.2 244.28 L142.7 244.28 L143.2 244.28 L143.7 244.28 L144.2 244.28 L144.7 244.28 L145.2 244.28 L145.7 244.28 L146.2 244.28 L146.7 244.28 L147.2 244.28 L147.7 244.28 L148.2 244.28 L148.7 244.28 L149.2 244.28 L149.7 244.28 L150.2 244.28 L150.7 244.28 L151.2 244.28 L151.7 244.28 L152.2 244.28 L152.7 244.28 L153.2 244.28 L153.7 244.28 L154.2 244.28 L154.7 244.28 L155.2 244.28 L155.7 244.28 L156.2 244.28 L156.7 244.28 L157.2 244.28 L157.7 244.28 L158.2 244.28 L158.7 244.28 L159.2 244.28 L159.7 244.27 L160.2 244.27 L160.7 244.27 L161.2 244.26 L161.7 244.25 L162.2 244.24 L162.7 244.22 L163.2 244.2 L163.7 244.17 L164.2 244.13 L164.7 244.08 L165.2 244.01 L165.7 243.93 L166.2 243.83 L166.7 243.7 L167.2 243.55 L167.7 243.37 L168.2 243.15 L168.7 242.89 L169.2 242.6 L169.7 242.26 L170.2 241.88 L170.7 241.46 L171.2 241 L171.7 240.49 L172.2 239.96 L172.7 239.39 L173.2 238.81 L173.7 238.21 L174.2 237.61 L174.7 237.02 L175.2 236.44 L175.7 235.89 L176.2 235.38 L176.7 234.92 L177.2 234.52 L177.7 234.18 L178.2 233.9 L178.7 233.7 L179.2 233.56 L179.7 233.49 L180.2 233.48 L180.7 233.53 L181.2 233.67 L181.7 233.91 L182.2 234.25 L182.7 234.69 L183.2 235.21 L183.7 235.81 L184.2 236.46 L184.7 237.16 L185.2 237.87 L185.7 238.59 L186.2 239.3 L186.7 239.98 L187.2 240.62 L187.7 241.2 L188.2 241.73 L188.7 242.2 L189.2 242.61 L189.7 242.96 L190.2 243.25 L190.7 243.49 L191.2 243.68 L191.7 243.83 L192.2 243.95 L192.7 244.04 L193.2 244.11 L193.7 244.16 L194.2 244.2 L194.7 244.23 L195.2 244.24 L195.7 244.26 L196.2 244.26 L196.7 244.27 L197.2 244.27 L197.7 244.28 L198.2 244.28 L198.7 244.28 L199.2 244.28 L199.7 244.28 L200.2 244.28 L200.7 244.28 L201.2 244.28 L201.7 244.28 L202.2 244.28 L202.7 244.28 L203.2 244.28 L203.7 244.28 L204.2 244.28 L204.7 244.28 L205.2 244.28 L205.7 244.28 L206.2 244.28 L206.7 244.28 L207.2 244.28 L207.7 244.28 L208.2 244.28 L208.7 244.28 L209.2 244.28 L209.7 244.28 L210.2 244.28 L210.7 244.28 L211.2 244.28 L211.7 244.28 L212.2 244.28 L212.7 244.28 L213.2 244.28 L213.7 244.28 L214.2 244.28 L214.7 244.28 L215.2 244.28 L215.7 244.28 L216.2 244.28 L216.7 244.28 L217.2 244.28 L217.7 244.28 L218.2 244.28 L218.7 244.28 L219.2 244.28 L219.7 244.28 L220.2 244.28 L220.7 244.28 L221.2 244.28 L221.7 244.28 L222.2 244.28 L222.7 244.28 L223.2 244.28 L223.7 244.28" fill="none" stroke="#b9b9b9" stroke-width="1" stroke-linejoin="round"/>
<path d="M136.7 255.91 L136.7 255.91 L137.2 255.91 L137.7 255.91 L138.2 255.91 L138.7 255.91 L139.2 255.91 L139.7 255.91 L140.2 255.91 L140.7 255.91 L141.2 255.91 L141.7 255.91 L142.2 255.91 L142.7 255.91 L143.2 255.91 L143.7 255.91 L144.2 255.91 L144.7 255.91 L145.2 255.91 L145.7 255.91 L146.2 255.91 L146.7 255.91 L147.2 255.91 L147.7 255.91 L148.2 255.91 L148.7 255.91 L149.2 255.91 L149.7 255.91 L150.2 255.91 L150.7 255.91 L151.2 255.91 L151.7 255.91 L152.2 255.91 L152.7 255.91 L153.2 255.91 L153.7 255.91 L154.2 255.91 L154.7 255.91 L155.2 255.91 L155.7 255.91 L156.2 255.91 L156.7 255.91 L157.2 255.91 L157.7 255.91 L158.2 255.91 L158.7 255.91 L159.2 255.91 L159.7 255.91 L160.2 255.91 L160.7 255.91 L161.2 255.9 L161.7 255.9 L162.2 255.89 L162.7 255.89 L163.2 255.87 L163.7 255.85 L164.2 255.81 L164.7 255.77 L165.2 255.7 L165.7 255.61 L166.2 255.48 L166.7 255.31 L167.2 255.1 L167.7 254.82 L168.2 254.49 L168.7 254.08 L169.2 253.59 L169.7 253.03 L170.2 252.4 L170.7 251.7 L171.2 250.95 L171.7 250.16 L172.2 249.36 L172.7 248.57 L173.2 247.81 L173.7 247.11 L174.2 246.49 L174.7 245.98 L175.2 245.58 L175.7 245.31 L176.2 245.15 L176.7 245.11 L177.2 245.14 L177.7 245.27 L178.2 245.49 L178.7 245.81 L179.2 246.22 L179.7 246.73 L180.2 247.31 L180.7 247.96 L181.2 248.65 L181.7 249.36 L182.2 250.08 L182.7 250.79 L183.2 251.48 L183.7 252.12 L184.2 252.72 L184.7 253.26 L185.2 253.74 L185.7 254.16 L186.2 254.52 L186.7 254.82 L187.2 255.07 L187.7 255.27 L188.2 255.44 L188.7 255.56 L189.2 255.66 L189.7 255.73 L190.2 255.78 L190.7 255.82 L191.2 255.85 L191.7 255.87 L192.2 255.88 L192.7 255.89 L193.2 255.9 L193.7 255.9 L194.2 255.91 L194.7 255.91 L195.2 255.91 L195.7 255.91 L196.2 255.91 L196.7 255.91 L197.2 255.91 L197.7 255.91 L198.2 255.91 L198.7 255.91 L199.2 255.91 L199.7 255.91 L200.2 255.91 L200.7 255.91 L201.2 255.91 L201.7 255.91 L202.2 255.91 L202.7 255.91 L203.2 255.91 L203.7 255.91 L204.2 255.91 L204.7 255.91 L205.2 255.91 L205.7 255.91 L206.2 255.91 L206.7 255.91 L207.2 255.91 L207.7 255.91 L208.2 255.91 L208.7 255.91 L209.2 255.91 L209.7 255.91 L210.2 255.91 L210.7 255.91 L211.2 255.91 L211.7 255.91 L212.2 255.91 L212.7 255.91 L213.2 255.91 L213.7 255.91 L214.2 255.91 L214.7 255.91 L215.2 255.91 L215.7 255.91 L216.2 255.91 L216.7 255.91 L217.2 255.91 L217.7 255.91 L218.2 255.91 L218.7 255.91 L219.2 255.91 L219.7 255.91 L220.2 255.91 L220.7 255.91 L221.2 255.91 L221.7 255.91 L222.2 255.91 L222.7 255.91 L223.2 255.91 L223.7 255.91 L223.8 255.91 Z" fill="#dadada" stroke="none"/>
<path d="M136.7 255.91 L137.2 255.91 L137.7 255.91 L138.2 255.91 L138.7 255.91 L139.2 255.91 L139.7 255.91 L140.2 255.91 L140.7 255.91 L141.2 255.91 L141.7 255.91 L142.2 255.91 L142.7 255.91 L143.2 255.91 L143.7 255.91 L144.2 255.91 L144.7 255.91 L145.2 255.91 L145.7 255.91 L146.2 255.91 L146.7 255.91 L147.2 255.91 L147.7 255.91 L148.2 255.91 L148.7 255.91 L149.2 255.91 L149.7 255.91 L150.2 255.91 L150.7 255.91 L151.2 255.91 L151.7 255.91 L152.2 255.91 L152.7 255.91 L153.2 255.91 L153.7 255.91 L154.2 255.91 L154.7 255.91 L155.2 255.91 L155.7 255.91 L156.2 255.91 L156.7 255.91 L157.2 255.91 L157.7 255.91 L158.2 255.91 L158.7 255.91 L159.2 255.91 L159.7 255.91 L160.2 255.91 L160.7 255.91 L161.2 255.9 L161.7 255.9 L162.2 255.89 L162.7 255.89 L163.2 255.87 L163.7 255.85 L164.2 255.81 L164.7 255.77 L165.2 255.7 L165.7 255.61 L166.2 255.48 L166.7 255.31 L167.2 255.1 L167.7 254.82 L168.2 254.49 L168.7 254.08 L169.2 253.59 L169.7 253.03 L170.2 252.4 L170.7 251.7 L171.2 250.95 L171.7 250.16 L172.2 249.36 L172.7 248.57 L173.2 247.81 L173.7 247.11 L174.2 246.49 L174.7 245.98 L175.2 245.58 L175.7 245.31 L176.2 245.15 L176.7 245.11 L177.2 245.14 L177.7 245.27 L178.2 245.49 L178.7 245.81 L179.2 246.22 L179.7 246.73 L180.2 247.31 L180.7 247.96 L181.2 248.65 L181.7 249.36 L182.2 250.08 L182.7 250.79 L183.2 251.48 L183.7 252.12 L184.2 252.72 L184.7 253.26 L185.2 253.74 L185.7 254.16 L186.2 254.52 L186.7 254.82 L187.2 255.07 L187.7 255.27 L188.2 255.44 L188.7 255.56 L189.2 255.66 L189.7 255.73 L190.2 255.78 L190.7 255.82 L191.2 255.85 L191.7 255.87 L192.2 255.88 L192.7 255.89 L193.2 255.9 L193.7 255.9 L194.2 255.91 L194.7 255.91 L195.2 255.91 L195.7 255.91 L196.2 255.91 L196.7 255.91 L197.2 255.91 L197.7 255.91 L198.2 255.91 L198.7 255.91 L199.2 255.91 L199.7 255.91 L200.2 255.91 L200.7 255.91 L201.2 255.91 L201.7 255.91 L202.2 255.91 L202.7 255.91 L203.2 255.91 L203.7 255.91 L204.2 255.91 L204.7 255.91 L205.2 255.91 L205.7 255.91 L206.2 255.91 L206.7 255.91 L207.2 255.91 L207.7 255.91 L208.2 255.91 L208.7 255.91 L209.2 255.91 L209.7 255.91 L210.2 255.91 L210.7 255.91 L211.2 255.91 L211.7 255.91 L212.2 255.91 L212.7 255.91 L213.2 255.91 L213.7 255.91 L214.2 255.91 L214.7 255.91 L215.2 255.91 L215.7 255.91 L216.2 255.91 L216.7 255.91 L217.2 255.91 L217.7 255.91 L218.2 255.91 L218.7 255.91 L219.2 255.91 L219.7 255.91 L220.2 255.91 L220.7 255.91 L221.2 255.91 L221.7 255.91 L222.2 255.91 L222.7 255.91 L223.2 255.91 L223.7 255.91" fill="none" stroke="#b9b9b9" stroke-width="1" stroke-linejoin="round"/>
<line x1="164.3" y1="162.6" x2="164.3" y2="255.91" stroke="#6a6a6a" stroke-width="1.4" stroke-dasharray="8 10.3" stroke-dashoffset="9.2"/>
<path d="M136.2 255.91 V162.6 H224.3 V255.91" fill="none" stroke="#1a1a1a" stroke-width="1.1"/>
<line x1="47.5" y1="116.9" x2="136.2" y2="116.9" stroke="#1a1a1a" stroke-width="1.1"/>
<line x1="52.7" y1="116.9" x2="52.7" y2="120.1" stroke="#1a1a1a" stroke-width="1"/>
<line x1="67" y1="116.9" x2="67" y2="120.1" stroke="#1a1a1a" stroke-width="1"/>
<line x1="81.5" y1="116.9" x2="81.5" y2="120.1" stroke="#1a1a1a" stroke-width="1"/>
<line x1="106.3" y1="116.9" x2="106.3" y2="120.1" stroke="#1a1a1a" stroke-width="1"/>
<line x1="127.5" y1="116.9" x2="127.5" y2="120.1" stroke="#1a1a1a" stroke-width="1"/>
<line x1="54.13" y1="116.9" x2="54.13" y2="118.9" stroke="#1a1a1a" stroke-width="0.8"/>
<line x1="55.56" y1="116.9" x2="55.56" y2="118.9" stroke="#1a1a1a" stroke-width="0.8"/>
<line x1="56.99" y1="116.9" x2="56.99" y2="118.9" stroke="#1a1a1a" stroke-width="0.8"/>
<line x1="58.42" y1="116.9" x2="58.42" y2="118.9" stroke="#1a1a1a" stroke-width="0.8"/>
<line x1="59.85" y1="116.9" x2="59.85" y2="118.9" stroke="#1a1a1a" stroke-width="0.8"/>
<line x1="61.28" y1="116.9" x2="61.28" y2="118.9" stroke="#1a1a1a" stroke-width="0.8"/>
<line x1="62.71" y1="116.9" x2="62.71" y2="118.9" stroke="#1a1a1a" stroke-width="0.8"/>
<line x1="64.14" y1="116.9" x2="64.14" y2="118.9" stroke="#1a1a1a" stroke-width="0.8"/>
<line x1="65.57" y1="116.9" x2="65.57" y2="118.9" stroke="#1a1a1a" stroke-width="0.8"/>
<line x1="68.45" y1="116.9" x2="68.45" y2="118.9" stroke="#1a1a1a" stroke-width="0.8"/>
<line x1="69.9" y1="116.9" x2="69.9" y2="118.9" stroke="#1a1a1a" stroke-width="0.8"/>
<line x1="71.35" y1="116.9" x2="71.35" y2="118.9" stroke="#1a1a1a" stroke-width="0.8"/>
<line x1="72.8" y1="116.9" x2="72.8" y2="118.9" stroke="#1a1a1a" stroke-width="0.8"/>
<line x1="74.25" y1="116.9" x2="74.25" y2="118.9" stroke="#1a1a1a" stroke-width="0.8"/>
<line x1="75.7" y1="116.9" x2="75.7" y2="118.9" stroke="#1a1a1a" stroke-width="0.8"/>
<line x1="77.15" y1="116.9" x2="77.15" y2="118.9" stroke="#1a1a1a" stroke-width="0.8"/>
<line x1="78.6" y1="116.9" x2="78.6" y2="118.9" stroke="#1a1a1a" stroke-width="0.8"/>
<line x1="80.05" y1="116.9" x2="80.05" y2="118.9" stroke="#1a1a1a" stroke-width="0.8"/>
<line x1="88.97" y1="116.9" x2="88.97" y2="118.9" stroke="#1a1a1a" stroke-width="0.8"/>
<line x1="93.33" y1="116.9" x2="93.33" y2="118.9" stroke="#1a1a1a" stroke-width="0.8"/>
<line x1="96.43" y1="116.9" x2="96.43" y2="118.9" stroke="#1a1a1a" stroke-width="0.8"/>
<line x1="98.83" y1="116.9" x2="98.83" y2="118.9" stroke="#1a1a1a" stroke-width="0.8"/>
<line x1="100.8" y1="116.9" x2="100.8" y2="118.9" stroke="#1a1a1a" stroke-width="0.8"/>
<line x1="102.46" y1="116.9" x2="102.46" y2="118.9" stroke="#1a1a1a" stroke-width="0.8"/>
<line x1="103.9" y1="116.9" x2="103.9" y2="118.9" stroke="#1a1a1a" stroke-width="0.8"/>
<line x1="105.17" y1="116.9" x2="105.17" y2="118.9" stroke="#1a1a1a" stroke-width="0.8"/>
<line x1="112.68" y1="116.9" x2="112.68" y2="118.9" stroke="#1a1a1a" stroke-width="0.8"/>
<line x1="116.41" y1="116.9" x2="116.41" y2="118.9" stroke="#1a1a1a" stroke-width="0.8"/>
<line x1="119.06" y1="116.9" x2="119.06" y2="118.9" stroke="#1a1a1a" stroke-width="0.8"/>
<line x1="121.12" y1="116.9" x2="121.12" y2="118.9" stroke="#1a1a1a" stroke-width="0.8"/>
<line x1="122.8" y1="116.9" x2="122.8" y2="118.9" stroke="#1a1a1a" stroke-width="0.8"/>
<line x1="124.22" y1="116.9" x2="124.22" y2="118.9" stroke="#1a1a1a" stroke-width="0.8"/>
<line x1="125.45" y1="116.9" x2="125.45" y2="118.9" stroke="#1a1a1a" stroke-width="0.8"/>
<line x1="126.53" y1="116.9" x2="126.53" y2="118.9" stroke="#1a1a1a" stroke-width="0.8"/>
<line x1="133.88" y1="116.9" x2="133.88" y2="118.9" stroke="#1a1a1a" stroke-width="0.8"/>
<line x1="65.6" y1="116.9" x2="65.6" y2="119.3" stroke="#1a1a1a" stroke-width="0.8"/>
<line x1="66.3" y1="116.9" x2="66.3" y2="119.3" stroke="#1a1a1a" stroke-width="0.8"/>
<line x1="67.7" y1="116.9" x2="67.7" y2="119.3" stroke="#1a1a1a" stroke-width="0.8"/>
<line x1="68.4" y1="116.9" x2="68.4" y2="119.3" stroke="#1a1a1a" stroke-width="0.8"/>
<text transform="translate(56 127.6) rotate(-53)" font-size="7.6" text-anchor="end" fill="#222" stroke="#222" stroke-width="0.2">&#8722;10<tspan font-size="6.6" dy="-1.3">3</tspan></text>
<text transform="translate(70.4 127.4) rotate(-53)" font-size="7.6" text-anchor="end" fill="#222" stroke="#222" stroke-width="0.2">0</text>
<text transform="translate(84.4 127.6) rotate(-53)" font-size="7.6" text-anchor="end" fill="#222" stroke="#222" stroke-width="0.2">10<tspan font-size="6.6" dy="-1.3">3</tspan></text>
<text transform="translate(109.3 128.2) rotate(-53)" font-size="7.6" text-anchor="end" fill="#222" stroke="#222" stroke-width="0.2">10<tspan font-size="6.6" dy="-1.3">4</tspan></text>
<text transform="translate(130.9 127.6) rotate(-53)" font-size="7.6" text-anchor="end" fill="#222" stroke="#222" stroke-width="0.2">10<tspan font-size="6.6" dy="-1.3">5</tspan></text>
<line x1="136.2" y1="116.9" x2="224.1" y2="116.9" stroke="#1a1a1a" stroke-width="1.1"/>
<line x1="141.4" y1="116.9" x2="141.4" y2="120.1" stroke="#1a1a1a" stroke-width="1"/>
<line x1="155.7" y1="116.9" x2="155.7" y2="120.1" stroke="#1a1a1a" stroke-width="1"/>
<line x1="170.2" y1="116.9" x2="170.2" y2="120.1" stroke="#1a1a1a" stroke-width="1"/>
<line x1="195" y1="116.9" x2="195" y2="120.1" stroke="#1a1a1a" stroke-width="1"/>
<line x1="216.2" y1="116.9" x2="216.2" y2="120.1" stroke="#1a1a1a" stroke-width="1"/>
<line x1="142.83" y1="116.9" x2="142.83" y2="118.9" stroke="#1a1a1a" stroke-width="0.8"/>
<line x1="144.26" y1="116.9" x2="144.26" y2="118.9" stroke="#1a1a1a" stroke-width="0.8"/>
<line x1="145.69" y1="116.9" x2="145.69" y2="118.9" stroke="#1a1a1a" stroke-width="0.8"/>
<line x1="147.12" y1="116.9" x2="147.12" y2="118.9" stroke="#1a1a1a" stroke-width="0.8"/>
<line x1="148.55" y1="116.9" x2="148.55" y2="118.9" stroke="#1a1a1a" stroke-width="0.8"/>
<line x1="149.98" y1="116.9" x2="149.98" y2="118.9" stroke="#1a1a1a" stroke-width="0.8"/>
<line x1="151.41" y1="116.9" x2="151.41" y2="118.9" stroke="#1a1a1a" stroke-width="0.8"/>
<line x1="152.84" y1="116.9" x2="152.84" y2="118.9" stroke="#1a1a1a" stroke-width="0.8"/>
<line x1="154.27" y1="116.9" x2="154.27" y2="118.9" stroke="#1a1a1a" stroke-width="0.8"/>
<line x1="157.15" y1="116.9" x2="157.15" y2="118.9" stroke="#1a1a1a" stroke-width="0.8"/>
<line x1="158.6" y1="116.9" x2="158.6" y2="118.9" stroke="#1a1a1a" stroke-width="0.8"/>
<line x1="160.05" y1="116.9" x2="160.05" y2="118.9" stroke="#1a1a1a" stroke-width="0.8"/>
<line x1="161.5" y1="116.9" x2="161.5" y2="118.9" stroke="#1a1a1a" stroke-width="0.8"/>
<line x1="162.95" y1="116.9" x2="162.95" y2="118.9" stroke="#1a1a1a" stroke-width="0.8"/>
<line x1="164.4" y1="116.9" x2="164.4" y2="118.9" stroke="#1a1a1a" stroke-width="0.8"/>
<line x1="165.85" y1="116.9" x2="165.85" y2="118.9" stroke="#1a1a1a" stroke-width="0.8"/>
<line x1="167.3" y1="116.9" x2="167.3" y2="118.9" stroke="#1a1a1a" stroke-width="0.8"/>
<line x1="168.75" y1="116.9" x2="168.75" y2="118.9" stroke="#1a1a1a" stroke-width="0.8"/>
<line x1="177.67" y1="116.9" x2="177.67" y2="118.9" stroke="#1a1a1a" stroke-width="0.8"/>
<line x1="182.03" y1="116.9" x2="182.03" y2="118.9" stroke="#1a1a1a" stroke-width="0.8"/>
<line x1="185.13" y1="116.9" x2="185.13" y2="118.9" stroke="#1a1a1a" stroke-width="0.8"/>
<line x1="187.53" y1="116.9" x2="187.53" y2="118.9" stroke="#1a1a1a" stroke-width="0.8"/>
<line x1="189.5" y1="116.9" x2="189.5" y2="118.9" stroke="#1a1a1a" stroke-width="0.8"/>
<line x1="191.16" y1="116.9" x2="191.16" y2="118.9" stroke="#1a1a1a" stroke-width="0.8"/>
<line x1="192.6" y1="116.9" x2="192.6" y2="118.9" stroke="#1a1a1a" stroke-width="0.8"/>
<line x1="193.87" y1="116.9" x2="193.87" y2="118.9" stroke="#1a1a1a" stroke-width="0.8"/>
<line x1="201.38" y1="116.9" x2="201.38" y2="118.9" stroke="#1a1a1a" stroke-width="0.8"/>
<line x1="205.11" y1="116.9" x2="205.11" y2="118.9" stroke="#1a1a1a" stroke-width="0.8"/>
<line x1="207.76" y1="116.9" x2="207.76" y2="118.9" stroke="#1a1a1a" stroke-width="0.8"/>
<line x1="209.82" y1="116.9" x2="209.82" y2="118.9" stroke="#1a1a1a" stroke-width="0.8"/>
<line x1="211.5" y1="116.9" x2="211.5" y2="118.9" stroke="#1a1a1a" stroke-width="0.8"/>
<line x1="212.92" y1="116.9" x2="212.92" y2="118.9" stroke="#1a1a1a" stroke-width="0.8"/>
<line x1="214.15" y1="116.9" x2="214.15" y2="118.9" stroke="#1a1a1a" stroke-width="0.8"/>
<line x1="215.23" y1="116.9" x2="215.23" y2="118.9" stroke="#1a1a1a" stroke-width="0.8"/>
<line x1="222.58" y1="116.9" x2="222.58" y2="118.9" stroke="#1a1a1a" stroke-width="0.8"/>
<line x1="154.3" y1="116.9" x2="154.3" y2="119.3" stroke="#1a1a1a" stroke-width="0.8"/>
<line x1="155" y1="116.9" x2="155" y2="119.3" stroke="#1a1a1a" stroke-width="0.8"/>
<line x1="156.4" y1="116.9" x2="156.4" y2="119.3" stroke="#1a1a1a" stroke-width="0.8"/>
<line x1="157.1" y1="116.9" x2="157.1" y2="119.3" stroke="#1a1a1a" stroke-width="0.8"/>
<text transform="translate(144.7 127.6) rotate(-53)" font-size="7.6" text-anchor="end" fill="#222" stroke="#222" stroke-width="0.2">&#8722;10<tspan font-size="6.6" dy="-1.3">3</tspan></text>
<text transform="translate(159.1 127.4) rotate(-53)" font-size="7.6" text-anchor="end" fill="#222" stroke="#222" stroke-width="0.2">0</text>
<text transform="translate(173.1 127.6) rotate(-53)" font-size="7.6" text-anchor="end" fill="#222" stroke="#222" stroke-width="0.2">10<tspan font-size="6.6" dy="-1.3">3</tspan></text>
<text transform="translate(198 128.2) rotate(-53)" font-size="7.6" text-anchor="end" fill="#222" stroke="#222" stroke-width="0.2">10<tspan font-size="6.6" dy="-1.3">4</tspan></text>
<text transform="translate(219.6 127.6) rotate(-53)" font-size="7.6" text-anchor="end" fill="#222" stroke="#222" stroke-width="0.2">10<tspan font-size="6.6" dy="-1.3">5</tspan></text>
<line x1="47.5" y1="255.6" x2="136.2" y2="255.6" stroke="#1a1a1a" stroke-width="1.1"/>
<line x1="52.7" y1="255.6" x2="52.7" y2="258.8" stroke="#1a1a1a" stroke-width="1"/>
<line x1="67" y1="255.6" x2="67" y2="258.8" stroke="#1a1a1a" stroke-width="1"/>
<line x1="81.5" y1="255.6" x2="81.5" y2="258.8" stroke="#1a1a1a" stroke-width="1"/>
<line x1="106.3" y1="255.6" x2="106.3" y2="258.8" stroke="#1a1a1a" stroke-width="1"/>
<line x1="127.5" y1="255.6" x2="127.5" y2="258.8" stroke="#1a1a1a" stroke-width="1"/>
<line x1="54.13" y1="255.6" x2="54.13" y2="257.6" stroke="#1a1a1a" stroke-width="0.8"/>
<line x1="55.56" y1="255.6" x2="55.56" y2="257.6" stroke="#1a1a1a" stroke-width="0.8"/>
<line x1="56.99" y1="255.6" x2="56.99" y2="257.6" stroke="#1a1a1a" stroke-width="0.8"/>
<line x1="58.42" y1="255.6" x2="58.42" y2="257.6" stroke="#1a1a1a" stroke-width="0.8"/>
<line x1="59.85" y1="255.6" x2="59.85" y2="257.6" stroke="#1a1a1a" stroke-width="0.8"/>
<line x1="61.28" y1="255.6" x2="61.28" y2="257.6" stroke="#1a1a1a" stroke-width="0.8"/>
<line x1="62.71" y1="255.6" x2="62.71" y2="257.6" stroke="#1a1a1a" stroke-width="0.8"/>
<line x1="64.14" y1="255.6" x2="64.14" y2="257.6" stroke="#1a1a1a" stroke-width="0.8"/>
<line x1="65.57" y1="255.6" x2="65.57" y2="257.6" stroke="#1a1a1a" stroke-width="0.8"/>
<line x1="68.45" y1="255.6" x2="68.45" y2="257.6" stroke="#1a1a1a" stroke-width="0.8"/>
<line x1="69.9" y1="255.6" x2="69.9" y2="257.6" stroke="#1a1a1a" stroke-width="0.8"/>
<line x1="71.35" y1="255.6" x2="71.35" y2="257.6" stroke="#1a1a1a" stroke-width="0.8"/>
<line x1="72.8" y1="255.6" x2="72.8" y2="257.6" stroke="#1a1a1a" stroke-width="0.8"/>
<line x1="74.25" y1="255.6" x2="74.25" y2="257.6" stroke="#1a1a1a" stroke-width="0.8"/>
<line x1="75.7" y1="255.6" x2="75.7" y2="257.6" stroke="#1a1a1a" stroke-width="0.8"/>
<line x1="77.15" y1="255.6" x2="77.15" y2="257.6" stroke="#1a1a1a" stroke-width="0.8"/>
<line x1="78.6" y1="255.6" x2="78.6" y2="257.6" stroke="#1a1a1a" stroke-width="0.8"/>
<line x1="80.05" y1="255.6" x2="80.05" y2="257.6" stroke="#1a1a1a" stroke-width="0.8"/>
<line x1="88.97" y1="255.6" x2="88.97" y2="257.6" stroke="#1a1a1a" stroke-width="0.8"/>
<line x1="93.33" y1="255.6" x2="93.33" y2="257.6" stroke="#1a1a1a" stroke-width="0.8"/>
<line x1="96.43" y1="255.6" x2="96.43" y2="257.6" stroke="#1a1a1a" stroke-width="0.8"/>
<line x1="98.83" y1="255.6" x2="98.83" y2="257.6" stroke="#1a1a1a" stroke-width="0.8"/>
<line x1="100.8" y1="255.6" x2="100.8" y2="257.6" stroke="#1a1a1a" stroke-width="0.8"/>
<line x1="102.46" y1="255.6" x2="102.46" y2="257.6" stroke="#1a1a1a" stroke-width="0.8"/>
<line x1="103.9" y1="255.6" x2="103.9" y2="257.6" stroke="#1a1a1a" stroke-width="0.8"/>
<line x1="105.17" y1="255.6" x2="105.17" y2="257.6" stroke="#1a1a1a" stroke-width="0.8"/>
<line x1="112.68" y1="255.6" x2="112.68" y2="257.6" stroke="#1a1a1a" stroke-width="0.8"/>
<line x1="116.41" y1="255.6" x2="116.41" y2="257.6" stroke="#1a1a1a" stroke-width="0.8"/>
<line x1="119.06" y1="255.6" x2="119.06" y2="257.6" stroke="#1a1a1a" stroke-width="0.8"/>
<line x1="121.12" y1="255.6" x2="121.12" y2="257.6" stroke="#1a1a1a" stroke-width="0.8"/>
<line x1="122.8" y1="255.6" x2="122.8" y2="257.6" stroke="#1a1a1a" stroke-width="0.8"/>
<line x1="124.22" y1="255.6" x2="124.22" y2="257.6" stroke="#1a1a1a" stroke-width="0.8"/>
<line x1="125.45" y1="255.6" x2="125.45" y2="257.6" stroke="#1a1a1a" stroke-width="0.8"/>
<line x1="126.53" y1="255.6" x2="126.53" y2="257.6" stroke="#1a1a1a" stroke-width="0.8"/>
<line x1="133.88" y1="255.6" x2="133.88" y2="257.6" stroke="#1a1a1a" stroke-width="0.8"/>
<line x1="65.6" y1="255.6" x2="65.6" y2="258" stroke="#1a1a1a" stroke-width="0.8"/>
<line x1="66.3" y1="255.6" x2="66.3" y2="258" stroke="#1a1a1a" stroke-width="0.8"/>
<line x1="67.7" y1="255.6" x2="67.7" y2="258" stroke="#1a1a1a" stroke-width="0.8"/>
<line x1="68.4" y1="255.6" x2="68.4" y2="258" stroke="#1a1a1a" stroke-width="0.8"/>
<text transform="translate(56 266.2) rotate(-53)" font-size="7.6" text-anchor="end" fill="#222" stroke="#222" stroke-width="0.2">&#8722;10<tspan font-size="6.6" dy="-1.3">3</tspan></text>
<text transform="translate(70.4 266) rotate(-53)" font-size="7.6" text-anchor="end" fill="#222" stroke="#222" stroke-width="0.2">0</text>
<text transform="translate(84.4 266.2) rotate(-53)" font-size="7.6" text-anchor="end" fill="#222" stroke="#222" stroke-width="0.2">10<tspan font-size="6.6" dy="-1.3">3</tspan></text>
<text transform="translate(109.3 266.8) rotate(-53)" font-size="7.6" text-anchor="end" fill="#222" stroke="#222" stroke-width="0.2">10<tspan font-size="6.6" dy="-1.3">4</tspan></text>
<text transform="translate(130.9 266.2) rotate(-53)" font-size="7.6" text-anchor="end" fill="#222" stroke="#222" stroke-width="0.2">10<tspan font-size="6.6" dy="-1.3">5</tspan></text>
<line x1="136.2" y1="255.6" x2="224.3" y2="255.6" stroke="#1a1a1a" stroke-width="1.1"/>
<line x1="141.4" y1="255.6" x2="141.4" y2="258.8" stroke="#1a1a1a" stroke-width="1"/>
<line x1="155.7" y1="255.6" x2="155.7" y2="258.8" stroke="#1a1a1a" stroke-width="1"/>
<line x1="170.2" y1="255.6" x2="170.2" y2="258.8" stroke="#1a1a1a" stroke-width="1"/>
<line x1="195" y1="255.6" x2="195" y2="258.8" stroke="#1a1a1a" stroke-width="1"/>
<line x1="216.2" y1="255.6" x2="216.2" y2="258.8" stroke="#1a1a1a" stroke-width="1"/>
<line x1="142.83" y1="255.6" x2="142.83" y2="257.6" stroke="#1a1a1a" stroke-width="0.8"/>
<line x1="144.26" y1="255.6" x2="144.26" y2="257.6" stroke="#1a1a1a" stroke-width="0.8"/>
<line x1="145.69" y1="255.6" x2="145.69" y2="257.6" stroke="#1a1a1a" stroke-width="0.8"/>
<line x1="147.12" y1="255.6" x2="147.12" y2="257.6" stroke="#1a1a1a" stroke-width="0.8"/>
<line x1="148.55" y1="255.6" x2="148.55" y2="257.6" stroke="#1a1a1a" stroke-width="0.8"/>
<line x1="149.98" y1="255.6" x2="149.98" y2="257.6" stroke="#1a1a1a" stroke-width="0.8"/>
<line x1="151.41" y1="255.6" x2="151.41" y2="257.6" stroke="#1a1a1a" stroke-width="0.8"/>
<line x1="152.84" y1="255.6" x2="152.84" y2="257.6" stroke="#1a1a1a" stroke-width="0.8"/>
<line x1="154.27" y1="255.6" x2="154.27" y2="257.6" stroke="#1a1a1a" stroke-width="0.8"/>
<line x1="157.15" y1="255.6" x2="157.15" y2="257.6" stroke="#1a1a1a" stroke-width="0.8"/>
<line x1="158.6" y1="255.6" x2="158.6" y2="257.6" stroke="#1a1a1a" stroke-width="0.8"/>
<line x1="160.05" y1="255.6" x2="160.05" y2="257.6" stroke="#1a1a1a" stroke-width="0.8"/>
<line x1="161.5" y1="255.6" x2="161.5" y2="257.6" stroke="#1a1a1a" stroke-width="0.8"/>
<line x1="162.95" y1="255.6" x2="162.95" y2="257.6" stroke="#1a1a1a" stroke-width="0.8"/>
<line x1="164.4" y1="255.6" x2="164.4" y2="257.6" stroke="#1a1a1a" stroke-width="0.8"/>
<line x1="165.85" y1="255.6" x2="165.85" y2="257.6" stroke="#1a1a1a" stroke-width="0.8"/>
<line x1="167.3" y1="255.6" x2="167.3" y2="257.6" stroke="#1a1a1a" stroke-width="0.8"/>
<line x1="168.75" y1="255.6" x2="168.75" y2="257.6" stroke="#1a1a1a" stroke-width="0.8"/>
<line x1="177.67" y1="255.6" x2="177.67" y2="257.6" stroke="#1a1a1a" stroke-width="0.8"/>
<line x1="182.03" y1="255.6" x2="182.03" y2="257.6" stroke="#1a1a1a" stroke-width="0.8"/>
<line x1="185.13" y1="255.6" x2="185.13" y2="257.6" stroke="#1a1a1a" stroke-width="0.8"/>
<line x1="187.53" y1="255.6" x2="187.53" y2="257.6" stroke="#1a1a1a" stroke-width="0.8"/>
<line x1="189.5" y1="255.6" x2="189.5" y2="257.6" stroke="#1a1a1a" stroke-width="0.8"/>
<line x1="191.16" y1="255.6" x2="191.16" y2="257.6" stroke="#1a1a1a" stroke-width="0.8"/>
<line x1="192.6" y1="255.6" x2="192.6" y2="257.6" stroke="#1a1a1a" stroke-width="0.8"/>
<line x1="193.87" y1="255.6" x2="193.87" y2="257.6" stroke="#1a1a1a" stroke-width="0.8"/>
<line x1="201.38" y1="255.6" x2="201.38" y2="257.6" stroke="#1a1a1a" stroke-width="0.8"/>
<line x1="205.11" y1="255.6" x2="205.11" y2="257.6" stroke="#1a1a1a" stroke-width="0.8"/>
<line x1="207.76" y1="255.6" x2="207.76" y2="257.6" stroke="#1a1a1a" stroke-width="0.8"/>
<line x1="209.82" y1="255.6" x2="209.82" y2="257.6" stroke="#1a1a1a" stroke-width="0.8"/>
<line x1="211.5" y1="255.6" x2="211.5" y2="257.6" stroke="#1a1a1a" stroke-width="0.8"/>
<line x1="212.92" y1="255.6" x2="212.92" y2="257.6" stroke="#1a1a1a" stroke-width="0.8"/>
<line x1="214.15" y1="255.6" x2="214.15" y2="257.6" stroke="#1a1a1a" stroke-width="0.8"/>
<line x1="215.23" y1="255.6" x2="215.23" y2="257.6" stroke="#1a1a1a" stroke-width="0.8"/>
<line x1="222.58" y1="255.6" x2="222.58" y2="257.6" stroke="#1a1a1a" stroke-width="0.8"/>
<line x1="154.3" y1="255.6" x2="154.3" y2="258" stroke="#1a1a1a" stroke-width="0.8"/>
<line x1="155" y1="255.6" x2="155" y2="258" stroke="#1a1a1a" stroke-width="0.8"/>
<line x1="156.4" y1="255.6" x2="156.4" y2="258" stroke="#1a1a1a" stroke-width="0.8"/>
<line x1="157.1" y1="255.6" x2="157.1" y2="258" stroke="#1a1a1a" stroke-width="0.8"/>
<text transform="translate(144.7 266.2) rotate(-53)" font-size="7.6" text-anchor="end" fill="#222" stroke="#222" stroke-width="0.2">&#8722;10<tspan font-size="6.6" dy="-1.3">3</tspan></text>
<text transform="translate(159.1 266) rotate(-53)" font-size="7.6" text-anchor="end" fill="#222" stroke="#222" stroke-width="0.2">0</text>
<text transform="translate(173.1 266.2) rotate(-53)" font-size="7.6" text-anchor="end" fill="#222" stroke="#222" stroke-width="0.2">10<tspan font-size="6.6" dy="-1.3">3</tspan></text>
<text transform="translate(198 266.8) rotate(-53)" font-size="7.6" text-anchor="end" fill="#222" stroke="#222" stroke-width="0.2">10<tspan font-size="6.6" dy="-1.3">4</tspan></text>
<text transform="translate(219.6 266.2) rotate(-53)" font-size="7.6" text-anchor="end" fill="#222" stroke="#222" stroke-width="0.2">10<tspan font-size="6.6" dy="-1.3">5</tspan></text>
<text x="28" y="288.2" font-size="8" text-anchor="start" fill="#222" font-weight="normal" textLength="15.5" lengthAdjust="spacingAndGlyphs" stroke="#222" stroke-width="0.2" >CAR</text>
<line x1="47.5" y1="285.6" x2="220" y2="285.6" stroke="#111" stroke-width="1.2"/>
<path d="M219 282.6 L226.5 285.6 L219 288.6 Z" fill="#111"/>
<text x="238.62" y="16.5" font-size="14.86" fill="#111" font-weight="bold" textLength="9.83" lengthAdjust="spacingAndGlyphs">B</text>
<line x1="280.8" y1="29.9" x2="280.8" y2="205.9" stroke="#111" stroke-width="1.2"/>
<line x1="280.2" y1="205.4" x2="501.7" y2="205.4" stroke="#111" stroke-width="1.2"/>
<line x1="276.8" y1="205.3" x2="280.8" y2="205.3" stroke="#111" stroke-width="1"/>
<line x1="278.6" y1="182.81" x2="280.8" y2="182.81" stroke="#111" stroke-width="0.8"/>
<line x1="278.6" y1="169.66" x2="280.8" y2="169.66" stroke="#111" stroke-width="0.8"/>
<line x1="278.6" y1="160.33" x2="280.8" y2="160.33" stroke="#111" stroke-width="0.8"/>
<line x1="278.6" y1="153.09" x2="280.8" y2="153.09" stroke="#111" stroke-width="0.8"/>
<line x1="278.6" y1="147.17" x2="280.8" y2="147.17" stroke="#111" stroke-width="0.8"/>
<line x1="278.6" y1="142.17" x2="280.8" y2="142.17" stroke="#111" stroke-width="0.8"/>
<line x1="278.6" y1="137.84" x2="280.8" y2="137.84" stroke="#111" stroke-width="0.8"/>
<line x1="278.6" y1="134.02" x2="280.8" y2="134.02" stroke="#111" stroke-width="0.8"/>
<line x1="276.8" y1="130.6" x2="280.8" y2="130.6" stroke="#111" stroke-width="1"/>
<line x1="278.6" y1="108.11" x2="280.8" y2="108.11" stroke="#111" stroke-width="0.8"/>
<line x1="278.6" y1="94.96" x2="280.8" y2="94.96" stroke="#111" stroke-width="0.8"/>
<line x1="278.6" y1="85.63" x2="280.8" y2="85.63" stroke="#111" stroke-width="0.8"/>
<line x1="278.6" y1="78.39" x2="280.8" y2="78.39" stroke="#111" stroke-width="0.8"/>
<line x1="278.6" y1="72.47" x2="280.8" y2="72.47" stroke="#111" stroke-width="0.8"/>
<line x1="278.6" y1="67.47" x2="280.8" y2="67.47" stroke="#111" stroke-width="0.8"/>
<line x1="278.6" y1="63.14" x2="280.8" y2="63.14" stroke="#111" stroke-width="0.8"/>
<line x1="278.6" y1="59.32" x2="280.8" y2="59.32" stroke="#111" stroke-width="0.8"/>
<line x1="276.8" y1="55.9" x2="280.8" y2="55.9" stroke="#111" stroke-width="1"/>
<line x1="278.6" y1="33.41" x2="280.8" y2="33.41" stroke="#111" stroke-width="0.8"/>
<text x="249.77" y="58.6" font-size="8.2" fill="#222" font-weight="normal" textLength="23.54" lengthAdjust="spacingAndGlyphs" stroke="#222" stroke-width="0.2">10000</text>
<text x="254.98" y="133.2" font-size="8.2" fill="#222" font-weight="normal" textLength="18.3" lengthAdjust="spacingAndGlyphs" stroke="#222" stroke-width="0.2">1000</text>
<text x="259.58" y="208.3" font-size="8.2" fill="#222" font-weight="normal" textLength="13.73" lengthAdjust="spacingAndGlyphs" stroke="#222" stroke-width="0.2">100</text>
<text transform="translate(247.9 124.91) rotate(-90)" font-size="11.2" fill="#222" font-weight="normal" textLength="15.22" lengthAdjust="spacingAndGlyphs" stroke="#222" stroke-width="0.25">MFI</text>
<line x1="280.8" y1="205.4" x2="280.8" y2="208.6" stroke="#111" stroke-width="1"/>
<text transform="translate(285.1 217.2) rotate(-45)" font-size="8.6" text-anchor="end" fill="#222" stroke="#222" stroke-width="0.2">0</text>
<line x1="296.34" y1="205.4" x2="296.34" y2="208.6" stroke="#111" stroke-width="1"/>
<text transform="translate(300.64 217.2) rotate(-45)" font-size="8.6" text-anchor="end" fill="#222" stroke="#222" stroke-width="0.2">12</text>
<line x1="311.89" y1="205.4" x2="311.89" y2="208.6" stroke="#111" stroke-width="1"/>
<text transform="translate(316.19 217.2) rotate(-45)" font-size="8.6" text-anchor="end" fill="#222" stroke="#222" stroke-width="0.2">24</text>
<line x1="327.43" y1="205.4" x2="327.43" y2="208.6" stroke="#111" stroke-width="1"/>
<text transform="translate(331.73 217.2) rotate(-45)" font-size="8.6" text-anchor="end" fill="#222" stroke="#222" stroke-width="0.2">36</text>
<line x1="342.97" y1="205.4" x2="342.97" y2="208.6" stroke="#111" stroke-width="1"/>
<text transform="translate(347.27 217.2) rotate(-45)" font-size="8.6" text-anchor="end" fill="#222" stroke="#222" stroke-width="0.2">48</text>
<line x1="358.51" y1="205.4" x2="358.51" y2="208.6" stroke="#111" stroke-width="1"/>
<text transform="translate(362.81 217.2) rotate(-45)" font-size="8.6" text-anchor="end" fill="#222" stroke="#222" stroke-width="0.2">60</text>
<line x1="374.06" y1="205.4" x2="374.06" y2="208.6" stroke="#111" stroke-width="1"/>
<text transform="translate(378.36 217.2) rotate(-45)" font-size="8.6" text-anchor="end" fill="#222" stroke="#222" stroke-width="0.2">72</text>
<line x1="389.6" y1="205.4" x2="389.6" y2="208.6" stroke="#111" stroke-width="1"/>
<text transform="translate(393.9 217.2) rotate(-45)" font-size="8.6" text-anchor="end" fill="#222" stroke="#222" stroke-width="0.2">84</text>
<line x1="405.14" y1="205.4" x2="405.14" y2="208.6" stroke="#111" stroke-width="1"/>
<text transform="translate(409.44 217.2) rotate(-45)" font-size="8.6" text-anchor="end" fill="#222" stroke="#222" stroke-width="0.2">96</text>
<line x1="420.69" y1="205.4" x2="420.69" y2="208.6" stroke="#111" stroke-width="1"/>
<text transform="translate(424.99 217.2) rotate(-45)" font-size="8.6" text-anchor="end" fill="#222" stroke="#222" stroke-width="0.2">108</text>
<line x1="436.23" y1="205.4" x2="436.23" y2="208.6" stroke="#111" stroke-width="1"/>
<text transform="translate(440.53 217.2) rotate(-45)" font-size="8.6" text-anchor="end" fill="#222" stroke="#222" stroke-width="0.2">120</text>
<line x1="451.77" y1="205.4" x2="451.77" y2="208.6" stroke="#111" stroke-width="1"/>
<text transform="translate(456.07 217.2) rotate(-45)" font-size="8.6" text-anchor="end" fill="#222" stroke="#222" stroke-width="0.2">132</text>
<line x1="467.31" y1="205.4" x2="467.31" y2="208.6" stroke="#111" stroke-width="1"/>
<text transform="translate(471.61 217.2) rotate(-45)" font-size="8.6" text-anchor="end" fill="#222" stroke="#222" stroke-width="0.2">144</text>
<line x1="482.86" y1="205.4" x2="482.86" y2="208.6" stroke="#111" stroke-width="1"/>
<text transform="translate(487.16 217.2) rotate(-45)" font-size="8.6" text-anchor="end" fill="#222" stroke="#222" stroke-width="0.2">156</text>
<line x1="498.4" y1="205.4" x2="498.4" y2="208.6" stroke="#111" stroke-width="1"/>
<text transform="translate(502.7 217.2) rotate(-45)" font-size="8.6" text-anchor="end" fill="#222" stroke="#222" stroke-width="0.2">168</text>
<text x="367" y="242.8" font-size="11.2" text-anchor="start" fill="#1a1a1a" font-weight="normal" textLength="49.2" lengthAdjust="spacingAndGlyphs" stroke="#1a1a1a" stroke-width="0.2" >Time (hours)</text>
<path d="M280.8 105 V120 M278.6 105 H283 M278.6 120 H283" stroke="#bdbdbd" stroke-width="0.9" fill="none"/>
<path d="M311.89 126.6 V150 M309.69 126.6 H314.09 M309.69 150 H314.09" stroke="#bdbdbd" stroke-width="0.9" fill="none"/>
<path d="M327.43 84.2 V118 M325.23 84.2 H329.63 M325.23 118 H329.63" stroke="#bdbdbd" stroke-width="0.9" fill="none"/>
<path d="M342.97 79.2 V174.8 M340.77 79.2 H345.17 M340.77 174.8 H345.17" stroke="#bdbdbd" stroke-width="0.9" fill="none"/>
<path d="M374.06 80 V116 M371.86 80 H376.26 M371.86 116 H376.26" stroke="#bdbdbd" stroke-width="0.9" fill="none"/>
<path d="M436.23 106 V126.4 M434.03 106 H438.43 M434.03 126.4 H438.43" stroke="#bdbdbd" stroke-width="0.9" fill="none"/>
<path d="M498.4 116 V129.7 M496.2 116 H500.6 M496.2 129.7 H500.6" stroke="#bdbdbd" stroke-width="0.9" fill="none"/>
<path d="M280.8 98 V108 M278.6 98 H283 M278.6 108 H283" stroke="#9c1b32" stroke-width="0.9" fill="none"/>
<path d="M296.34 164 V175 M294.14 164 H298.54 M294.14 175 H298.54" stroke="#9c1b32" stroke-width="0.9" fill="none"/>
<path d="M311.89 145.9 V164 M309.69 145.9 H314.09 M309.69 164 H314.09" stroke="#9c1b32" stroke-width="0.9" fill="none"/>
<path d="M327.43 146 V166.7 M325.23 146 H329.63 M325.23 166.7 H329.63" stroke="#9c1b32" stroke-width="0.9" fill="none"/>
<path d="M342.97 94.8 V156.4 M340.77 94.8 H345.17 M340.77 156.4 H345.17" stroke="#9c1b32" stroke-width="0.9" fill="none"/>
<path d="M374.06 73.1 V97.4 M371.86 73.1 H376.26 M371.86 97.4 H376.26" stroke="#9c1b32" stroke-width="0.9" fill="none"/>
<path d="M436.23 101.7 V109.9 M434.03 101.7 H438.43 M434.03 109.9 H438.43" stroke="#9c1b32" stroke-width="0.9" fill="none"/>
<path d="M498.4 110.9 V118.6 M496.2 110.9 H500.6 M496.2 118.6 H500.6" stroke="#9c1b32" stroke-width="0.9" fill="none"/>
<path d="M296.34 171 V184.3 M294.14 171 H298.54 M294.14 184.3 H298.54" stroke="#3a1e5c" stroke-width="0.9" fill="none"/>
<path d="M311.89 150 V162 M309.69 150 H314.09 M309.69 162 H314.09" stroke="#3a1e5c" stroke-width="0.9" fill="none"/>
<path d="M327.43 137 V146 M325.23 137 H329.63 M325.23 146 H329.63" stroke="#3a1e5c" stroke-width="0.9" fill="none"/>
<path d="M342.97 128.6 V141.4 M340.77 128.6 H345.17 M340.77 141.4 H345.17" stroke="#3a1e5c" stroke-width="0.9" fill="none"/>
<path d="M436.23 82.5 V88.5 M434.03 82.5 H438.43 M434.03 88.5 H438.43" stroke="#3a1e5c" stroke-width="0.9" fill="none"/>
<path d="M280.8 66 V75 M278.6 66 H283 M278.6 75 H283" stroke="#424b58" stroke-width="0.9" fill="none"/>
<path d="M296.34 151.8 V163 M294.14 151.8 H298.54 M294.14 163 H298.54" stroke="#424b58" stroke-width="0.9" fill="none"/>
<path d="M311.89 150 V163.5 M309.69 150 H314.09 M309.69 163.5 H314.09" stroke="#424b58" stroke-width="0.9" fill="none"/>
<path d="M327.43 99.5 V126 M325.23 99.5 H329.63 M325.23 126 H329.63" stroke="#424b58" stroke-width="0.9" fill="none"/>
<path d="M374.06 49.3 V65.9 M371.86 49.3 H376.26 M371.86 65.9 H376.26" stroke="#424b58" stroke-width="0.9" fill="none"/>
<path d="M436.23 70.5 V81.7 M434.03 70.5 H438.43 M434.03 81.7 H438.43" stroke="#424b58" stroke-width="0.9" fill="none"/>
<path d="M498.4 63.3 V82.3 M496.2 63.3 H500.6 M496.2 82.3 H500.6" stroke="#424b58" stroke-width="0.9" fill="none"/>
<polyline points="280.8,112.6 296.34,160 311.89,140.8 327.43,101.3 342.97,100.3 374.06,91 436.23,113.8 498.4,122.5" fill="none" stroke="#bdbdbd" stroke-width="1.1"/>
<path d="M280.8 109.3 L283.9 114.8 L277.7 114.8 Z" fill="#bdbdbd"/>
<path d="M296.34 156.7 L299.44 162.2 L293.24 162.2 Z" fill="#bdbdbd"/>
<path d="M311.89 137.5 L314.99 143 L308.79 143 Z" fill="#bdbdbd"/>
<path d="M327.43 98 L330.53 103.5 L324.33 103.5 Z" fill="#bdbdbd"/>
<path d="M342.97 97 L346.07 102.5 L339.87 102.5 Z" fill="#bdbdbd"/>
<path d="M374.06 87.7 L377.16 93.2 L370.96 93.2 Z" fill="#bdbdbd"/>
<path d="M436.23 110.5 L439.33 116 L433.13 116 Z" fill="#bdbdbd"/>
<path d="M498.4 119.2 L501.5 124.7 L495.3 124.7 Z" fill="#bdbdbd"/>
<polyline points="280.8,102.6 296.34,169.5 311.89,153.8 327.43,153.2 342.97,112.8 374.06,82.8 436.23,106 498.4,115.3" fill="none" stroke="#9c1b32" stroke-width="1.1"/>
<circle cx="280.8" cy="102.6" r="2.9" fill="#9c1b32"/>
<circle cx="296.34" cy="169.5" r="2.9" fill="#9c1b32"/>
<circle cx="311.89" cy="153.8" r="2.9" fill="#9c1b32"/>
<circle cx="327.43" cy="153.2" r="2.9" fill="#9c1b32"/>
<circle cx="342.97" cy="112.8" r="2.9" fill="#9c1b32"/>
<circle cx="374.06" cy="82.8" r="2.9" fill="#9c1b32"/>
<circle cx="436.23" cy="106" r="2.9" fill="#9c1b32"/>
<circle cx="498.4" cy="115.3" r="2.9" fill="#9c1b32"/>
<polyline points="280.8,94.4 296.34,177.5 311.89,155.3 327.43,141.6 342.97,134.3 374.06,109.1 436.23,85.6 498.4,92.4" fill="none" stroke="#3a1e5c" stroke-width="1.1"/>
<rect x="278.2" y="91.8" width="5.2" height="5.2" fill="#3a1e5c"/>
<rect x="293.74" y="174.9" width="5.2" height="5.2" fill="#3a1e5c"/>
<rect x="309.29" y="152.7" width="5.2" height="5.2" fill="#3a1e5c"/>
<rect x="324.83" y="139" width="5.2" height="5.2" fill="#3a1e5c"/>
<rect x="340.37" y="131.7" width="5.2" height="5.2" fill="#3a1e5c"/>
<rect x="371.46" y="106.5" width="5.2" height="5.2" fill="#3a1e5c"/>
<rect x="433.63" y="83" width="5.2" height="5.2" fill="#3a1e5c"/>
<rect x="495.8" y="89.8" width="5.2" height="5.2" fill="#3a1e5c"/>
<polyline points="280.8,66.4 296.34,157.8 311.89,155 327.43,124.4 342.97,49.6 374.06,57 436.23,76.4 498.4,70.6" fill="none" stroke="#424b58" stroke-width="1.1"/>
<path d="M277.7 64 L283.9 64 L280.8 69.6 Z" fill="#424b58"/>
<path d="M293.24 155.4 L299.44 155.4 L296.34 161 Z" fill="#424b58"/>
<path d="M308.79 152.6 L314.99 152.6 L311.89 158.2 Z" fill="#424b58"/>
<path d="M324.33 122 L330.53 122 L327.43 127.6 Z" fill="#424b58"/>
<path d="M339.87 47.2 L346.07 47.2 L342.97 52.8 Z" fill="#424b58"/>
<path d="M370.96 54.6 L377.16 54.6 L374.06 60.2 Z" fill="#424b58"/>
<path d="M433.13 74 L439.33 74 L436.23 79.6 Z" fill="#424b58"/>
<path d="M495.3 68.2 L501.5 68.2 L498.4 73.8 Z" fill="#424b58"/>
<line x1="442.5" y1="8.3" x2="456.5" y2="8.3" stroke="#9c1b32" stroke-width="1.1"/>
<circle cx="449.5" cy="8.3" r="2.9" fill="#9c1b32"/>
<text x="461" y="11.2" font-size="8.2" text-anchor="start" fill="#222" font-weight="normal" textLength="21" lengthAdjust="spacingAndGlyphs" stroke="#222" stroke-width="0.2" >GSH 6</text>
<line x1="443.2" y1="22.5" x2="457.2" y2="22.5" stroke="#3a1e5c" stroke-width="1.1"/>
<rect x="447.6" y="19.9" width="5.2" height="5.2" fill="#3a1e5c"/>
<text x="462" y="25.4" font-size="8.2" text-anchor="start" fill="#222" font-weight="normal" textLength="19.3" lengthAdjust="spacingAndGlyphs" stroke="#222" stroke-width="0.2" >TRAC</text>
<line x1="443.8" y1="35.2" x2="457.8" y2="35.2" stroke="#bdbdbd" stroke-width="1.1"/>
<path d="M450.8 31.9 L453.9 37.4 L447.7 37.4 Z" fill="#bdbdbd"/>
<text x="462.2" y="38.1" font-size="8.2" text-anchor="start" fill="#222" font-weight="normal" textLength="35.6" lengthAdjust="spacingAndGlyphs" stroke="#222" stroke-width="0.2" >GSH 6+C1</text>
<line x1="444.4" y1="47.4" x2="458.4" y2="47.4" stroke="#424b58" stroke-width="1.1"/>
<path d="M448.3 45 L454.5 45 L451.4 50.6 Z" fill="#424b58"/>
<text x="463.2" y="50.3" font-size="8.2" text-anchor="start" fill="#222" font-weight="normal" textLength="38.6" lengthAdjust="spacingAndGlyphs" stroke="#222" stroke-width="0.2" >TRAC-EF1&#945;</text>
<text x="4.45" y="314.2" font-size="15.86" fill="#111" font-weight="bold" textLength="9.92" lengthAdjust="spacingAndGlyphs">C</text>
<line x1="24.4" y1="388.2" x2="24.4" y2="337" stroke="#111" stroke-width="1.1"/>
<path d="M22.1 338.8 L24.4 333.4 L26.7 338.8 Z" fill="#111"/>
<text transform="translate(27.5 487.98) rotate(-90)" font-size="10.6" fill="#1a1a1a" font-weight="normal" textLength="97.43" lengthAdjust="spacingAndGlyphs" stroke="#1a1a1a" stroke-width="0.25">Tumor burden (total flux)</text>
<text x="52.73" y="506.8" font-size="10.8" fill="#1a1a1a" font-weight="normal" textLength="92.81" lengthAdjust="spacingAndGlyphs" stroke="#1a1a1a" stroke-width="0.27">Days post T cell injection</text>
<line x1="153.2" y1="503.8" x2="506" y2="503.8" stroke="#111" stroke-width="1.2"/>
<path d="M504.6 501.1 L511.4 503.8 L504.6 506.5 Z" fill="#111"/>
<text x="93.31" y="312.5" font-size="11" fill="#1a1a1a" font-weight="normal" textLength="17.04" lengthAdjust="spacingAndGlyphs" stroke="#1a1a1a" stroke-width="0.28">GSH</text>
<text x="112.5" y="312.5" font-size="11" fill="#1a1a1a" font-weight="normal" textLength="3.95" lengthAdjust="spacingAndGlyphs" stroke="#1a1a1a" stroke-width="0.28">6</text>
<text x="117.28" y="312.5" font-size="11" fill="#1a1a1a" font-weight="normal" textLength="4.16" lengthAdjust="spacingAndGlyphs" stroke="#1a1a1a" stroke-width="0.28">2</text>
<text x="127.52" y="314" font-size="10.2" fill="#222" font-weight="normal" textLength="5.64" lengthAdjust="spacingAndGlyphs" stroke="#222" stroke-width="0.26">&#215;</text>
<text x="133.7" y="312.5" font-size="11" fill="#1a1a1a" font-weight="normal" textLength="8.9" lengthAdjust="spacingAndGlyphs" stroke="#1a1a1a" stroke-width="0.28">10</text>
<text x="143.15" y="309.6" font-size="6.8" fill="#222" font-weight="normal" textLength="4.8" lengthAdjust="spacingAndGlyphs" stroke="#222" stroke-width="0.17">5</text>
<line x1="55.4" y1="313.3" x2="55.4" y2="379" stroke="#111" stroke-width="1.4"/>
<line x1="54.7" y1="378.4" x2="186.9" y2="378.4" stroke="#111" stroke-width="1.3"/>
<line x1="51.4" y1="317.1" x2="55.4" y2="317.1" stroke="#111" stroke-width="1.2"/>
<text x="34.78" y="321" font-size="8.8" fill="#222" font-weight="normal" textLength="10.68" lengthAdjust="spacingAndGlyphs" stroke="#222" stroke-width="0.22">10</text>
<text x="45.29" y="317.7" font-size="6" fill="#222" font-weight="normal" textLength="3.83" lengthAdjust="spacingAndGlyphs" stroke="#222" stroke-width="0.15">9</text>
<line x1="51.4" y1="332.77" x2="55.4" y2="332.77" stroke="#111" stroke-width="1.2"/>
<text x="34.78" y="336.67" font-size="8.8" fill="#222" font-weight="normal" textLength="10.68" lengthAdjust="spacingAndGlyphs" stroke="#222" stroke-width="0.22">10</text>
<text x="45.29" y="333.37" font-size="6" fill="#222" font-weight="normal" textLength="3.79" lengthAdjust="spacingAndGlyphs" stroke="#222" stroke-width="0.15">8</text>
<line x1="51.4" y1="348.44" x2="55.4" y2="348.44" stroke="#111" stroke-width="1.2"/>
<text x="34.78" y="352.34" font-size="8.8" fill="#222" font-weight="normal" textLength="10.68" lengthAdjust="spacingAndGlyphs" stroke="#222" stroke-width="0.22">10</text>
<text x="45.25" y="349.04" font-size="6" fill="#222" font-weight="normal" textLength="3.91" lengthAdjust="spacingAndGlyphs" stroke="#222" stroke-width="0.15">7</text>
<line x1="51.4" y1="364.11" x2="55.4" y2="364.11" stroke="#111" stroke-width="1.2"/>
<text x="34.78" y="368.01" font-size="8.8" fill="#222" font-weight="normal" textLength="10.68" lengthAdjust="spacingAndGlyphs" stroke="#222" stroke-width="0.22">10</text>
<text x="45.26" y="364.71" font-size="6" fill="#222" font-weight="normal" textLength="3.83" lengthAdjust="spacingAndGlyphs" stroke="#222" stroke-width="0.15">6</text>
<line x1="53.4" y1="375.06" x2="55.4" y2="375.06" stroke="#111" stroke-width="0.7"/>
<line x1="53.4" y1="372.3" x2="55.4" y2="372.3" stroke="#111" stroke-width="0.7"/>
<line x1="53.4" y1="370.35" x2="55.4" y2="370.35" stroke="#111" stroke-width="0.7"/>
<line x1="53.4" y1="368.83" x2="55.4" y2="368.83" stroke="#111" stroke-width="0.7"/>
<line x1="53.4" y1="367.59" x2="55.4" y2="367.59" stroke="#111" stroke-width="0.7"/>
<line x1="53.4" y1="366.54" x2="55.4" y2="366.54" stroke="#111" stroke-width="0.7"/>
<line x1="53.4" y1="365.63" x2="55.4" y2="365.63" stroke="#111" stroke-width="0.7"/>
<line x1="53.4" y1="364.83" x2="55.4" y2="364.83" stroke="#111" stroke-width="0.7"/>
<line x1="53.4" y1="359.39" x2="55.4" y2="359.39" stroke="#111" stroke-width="0.7"/>
<line x1="53.4" y1="356.63" x2="55.4" y2="356.63" stroke="#111" stroke-width="0.7"/>
<line x1="53.4" y1="354.68" x2="55.4" y2="354.68" stroke="#111" stroke-width="0.7"/>
<line x1="53.4" y1="353.16" x2="55.4" y2="353.16" stroke="#111" stroke-width="0.7"/>
<line x1="53.4" y1="351.92" x2="55.4" y2="351.92" stroke="#111" stroke-width="0.7"/>
<line x1="53.4" y1="350.87" x2="55.4" y2="350.87" stroke="#111" stroke-width="0.7"/>
<line x1="53.4" y1="349.96" x2="55.4" y2="349.96" stroke="#111" stroke-width="0.7"/>
<line x1="53.4" y1="349.16" x2="55.4" y2="349.16" stroke="#111" stroke-width="0.7"/>
<line x1="53.4" y1="343.72" x2="55.4" y2="343.72" stroke="#111" stroke-width="0.7"/>
<line x1="53.4" y1="340.96" x2="55.4" y2="340.96" stroke="#111" stroke-width="0.7"/>
<line x1="53.4" y1="339.01" x2="55.4" y2="339.01" stroke="#111" stroke-width="0.7"/>
<line x1="53.4" y1="337.49" x2="55.4" y2="337.49" stroke="#111" stroke-width="0.7"/>
<line x1="53.4" y1="336.25" x2="55.4" y2="336.25" stroke="#111" stroke-width="0.7"/>
<line x1="53.4" y1="335.2" x2="55.4" y2="335.2" stroke="#111" stroke-width="0.7"/>
<line x1="53.4" y1="334.29" x2="55.4" y2="334.29" stroke="#111" stroke-width="0.7"/>
<line x1="53.4" y1="333.49" x2="55.4" y2="333.49" stroke="#111" stroke-width="0.7"/>
<line x1="53.4" y1="328.05" x2="55.4" y2="328.05" stroke="#111" stroke-width="0.7"/>
<line x1="53.4" y1="325.29" x2="55.4" y2="325.29" stroke="#111" stroke-width="0.7"/>
<line x1="53.4" y1="323.34" x2="55.4" y2="323.34" stroke="#111" stroke-width="0.7"/>
<line x1="53.4" y1="321.82" x2="55.4" y2="321.82" stroke="#111" stroke-width="0.7"/>
<line x1="53.4" y1="320.58" x2="55.4" y2="320.58" stroke="#111" stroke-width="0.7"/>
<line x1="53.4" y1="319.53" x2="55.4" y2="319.53" stroke="#111" stroke-width="0.7"/>
<line x1="53.4" y1="318.62" x2="55.4" y2="318.62" stroke="#111" stroke-width="0.7"/>
<line x1="53.4" y1="317.82" x2="55.4" y2="317.82" stroke="#111" stroke-width="0.7"/>
<line x1="55.65" y1="378.4" x2="55.65" y2="381" stroke="#111" stroke-width="1.1"/>
<text x="53.08" y="393.6" font-size="9.2" fill="#222" font-weight="normal" textLength="5.1" lengthAdjust="spacingAndGlyphs" stroke="#222" stroke-width="0.23">0</text>
<line x1="71.55" y1="378.4" x2="71.55" y2="381" stroke="#111" stroke-width="1.1"/>
<text x="66.48" y="393.6" font-size="9.2" fill="#222" font-weight="normal" textLength="9.9" lengthAdjust="spacingAndGlyphs" stroke="#222" stroke-width="0.23">10</text>
<line x1="87.45" y1="378.4" x2="87.45" y2="381" stroke="#111" stroke-width="1.1"/>
<text x="82.62" y="393.6" font-size="9.2" fill="#222" font-weight="normal" textLength="9.66" lengthAdjust="spacingAndGlyphs" stroke="#222" stroke-width="0.23">20</text>
<line x1="103.35" y1="378.4" x2="103.35" y2="381" stroke="#111" stroke-width="1.1"/>
<text x="98.61" y="393.6" font-size="9.2" fill="#222" font-weight="normal" textLength="9.57" lengthAdjust="spacingAndGlyphs" stroke="#222" stroke-width="0.23">30</text>
<line x1="119.25" y1="378.4" x2="119.25" y2="381" stroke="#111" stroke-width="1.1"/>
<text x="114.68" y="393.6" font-size="9.2" fill="#222" font-weight="normal" textLength="9.38" lengthAdjust="spacingAndGlyphs" stroke="#222" stroke-width="0.23">40</text>
<line x1="135.15" y1="378.4" x2="135.15" y2="381" stroke="#111" stroke-width="1.1"/>
<text x="130.41" y="393.6" font-size="9.2" fill="#222" font-weight="normal" textLength="9.57" lengthAdjust="spacingAndGlyphs" stroke="#222" stroke-width="0.23">50</text>
<line x1="151.05" y1="378.4" x2="151.05" y2="381" stroke="#111" stroke-width="1.1"/>
<text x="146.22" y="393.6" font-size="9.2" fill="#222" font-weight="normal" textLength="9.66" lengthAdjust="spacingAndGlyphs" stroke="#222" stroke-width="0.23">60</text>
<line x1="166.95" y1="378.4" x2="166.95" y2="381" stroke="#111" stroke-width="1.1"/>
<text x="162.12" y="393.6" font-size="9.2" fill="#222" font-weight="normal" textLength="9.66" lengthAdjust="spacingAndGlyphs" stroke="#222" stroke-width="0.23">70</text>
<line x1="182.85" y1="378.4" x2="182.85" y2="381" stroke="#111" stroke-width="1.1"/>
<text x="178.06" y="393.6" font-size="9.2" fill="#222" font-weight="normal" textLength="9.61" lengthAdjust="spacingAndGlyphs" stroke="#222" stroke-width="0.23">80</text>
<polyline points="55.65,359.41 60.42,342.96 71.55,368.97 82.68,369.44 93.81,371 104.94,371.32 116.07,370.69 127.2,371.63 138.33,371.16 149.46,371.32 160.59,371.95 171.72,370.38 182.85,371.63" fill="none" stroke="#6e5287" stroke-width="1.1" stroke-linejoin="round"/>
<polyline points="55.65,357.06 60.42,341.39 71.55,364.89 82.68,368.81 93.81,371.16 104.94,371.47 116.07,371 127.2,371.47 138.33,371.32 149.46,371.63 160.59,372.57 171.72,371.16 182.85,371.32" fill="none" stroke="#4c3063" stroke-width="1.2" stroke-linejoin="round"/>
<polyline points="55.65,353.92 60.42,337.78 71.55,360.51 82.68,368.03 93.81,371 104.94,371.32 116.07,370.38 127.2,371.95 138.33,371 149.46,371.16 160.59,371.63 171.72,370.06 182.85,371.95" fill="none" stroke="#2f1a40" stroke-width="1.2" stroke-linejoin="round"/>
<text x="247.7" y="312.5" font-size="11" fill="#1a1a1a" font-weight="normal" textLength="17.36" lengthAdjust="spacingAndGlyphs" stroke="#1a1a1a" stroke-width="0.28">GSH</text>
<text x="266.33" y="312.5" font-size="11" fill="#1a1a1a" font-weight="normal" textLength="3.59" lengthAdjust="spacingAndGlyphs" stroke="#1a1a1a" stroke-width="0.28">6</text>
<text x="271.84" y="312.5" font-size="11" fill="#1a1a1a" font-weight="normal" textLength="3.07" lengthAdjust="spacingAndGlyphs" stroke="#1a1a1a" stroke-width="0.28">1</text>
<text x="281.21" y="314" font-size="10.2" fill="#222" font-weight="normal" textLength="5.77" lengthAdjust="spacingAndGlyphs" stroke="#222" stroke-width="0.26">&#215;</text>
<text x="287.54" y="312.5" font-size="11" fill="#1a1a1a" font-weight="normal" textLength="8.34" lengthAdjust="spacingAndGlyphs" stroke="#1a1a1a" stroke-width="0.28">10</text>
<text x="297.13" y="309.6" font-size="6.8" fill="#222" font-weight="normal" textLength="5.15" lengthAdjust="spacingAndGlyphs" stroke="#222" stroke-width="0.17">5</text>
<line x1="220" y1="313.3" x2="220" y2="379.2" stroke="#111" stroke-width="1.4"/>
<line x1="219.3" y1="378.6" x2="351.5" y2="378.6" stroke="#111" stroke-width="1.3"/>
<line x1="216" y1="317.1" x2="220" y2="317.1" stroke="#111" stroke-width="1.2"/>
<text x="199.38" y="321" font-size="8.8" fill="#222" font-weight="normal" textLength="10.68" lengthAdjust="spacingAndGlyphs" stroke="#222" stroke-width="0.22">10</text>
<text x="209.89" y="317.7" font-size="6" fill="#222" font-weight="normal" textLength="3.83" lengthAdjust="spacingAndGlyphs" stroke="#222" stroke-width="0.15">9</text>
<line x1="216" y1="332.77" x2="220" y2="332.77" stroke="#111" stroke-width="1.2"/>
<text x="199.38" y="336.67" font-size="8.8" fill="#222" font-weight="normal" textLength="10.68" lengthAdjust="spacingAndGlyphs" stroke="#222" stroke-width="0.22">10</text>
<text x="209.89" y="333.37" font-size="6" fill="#222" font-weight="normal" textLength="3.79" lengthAdjust="spacingAndGlyphs" stroke="#222" stroke-width="0.15">8</text>
<line x1="216" y1="348.44" x2="220" y2="348.44" stroke="#111" stroke-width="1.2"/>
<text x="199.38" y="352.34" font-size="8.8" fill="#222" font-weight="normal" textLength="10.68" lengthAdjust="spacingAndGlyphs" stroke="#222" stroke-width="0.22">10</text>
<text x="209.85" y="349.04" font-size="6" fill="#222" font-weight="normal" textLength="3.91" lengthAdjust="spacingAndGlyphs" stroke="#222" stroke-width="0.15">7</text>
<line x1="216" y1="364.11" x2="220" y2="364.11" stroke="#111" stroke-width="1.2"/>
<text x="199.38" y="368.01" font-size="8.8" fill="#222" font-weight="normal" textLength="10.68" lengthAdjust="spacingAndGlyphs" stroke="#222" stroke-width="0.22">10</text>
<text x="209.86" y="364.71" font-size="6" fill="#222" font-weight="normal" textLength="3.83" lengthAdjust="spacingAndGlyphs" stroke="#222" stroke-width="0.15">6</text>
<line x1="218" y1="375.06" x2="220" y2="375.06" stroke="#111" stroke-width="0.7"/>
<line x1="218" y1="372.3" x2="220" y2="372.3" stroke="#111" stroke-width="0.7"/>
<line x1="218" y1="370.35" x2="220" y2="370.35" stroke="#111" stroke-width="0.7"/>
<line x1="218" y1="368.83" x2="220" y2="368.83" stroke="#111" stroke-width="0.7"/>
<line x1="218" y1="367.59" x2="220" y2="367.59" stroke="#111" stroke-width="0.7"/>
<line x1="218" y1="366.54" x2="220" y2="366.54" stroke="#111" stroke-width="0.7"/>
<line x1="218" y1="365.63" x2="220" y2="365.63" stroke="#111" stroke-width="0.7"/>
<line x1="218" y1="364.83" x2="220" y2="364.83" stroke="#111" stroke-width="0.7"/>
<line x1="218" y1="359.39" x2="220" y2="359.39" stroke="#111" stroke-width="0.7"/>
<line x1="218" y1="356.63" x2="220" y2="356.63" stroke="#111" stroke-width="0.7"/>
<line x1="218" y1="354.68" x2="220" y2="354.68" stroke="#111" stroke-width="0.7"/>
<line x1="218" y1="353.16" x2="220" y2="353.16" stroke="#111" stroke-width="0.7"/>
<line x1="218" y1="351.92" x2="220" y2="351.92" stroke="#111" stroke-width="0.7"/>
<line x1="218" y1="350.87" x2="220" y2="350.87" stroke="#111" stroke-width="0.7"/>
<line x1="218" y1="349.96" x2="220" y2="349.96" stroke="#111" stroke-width="0.7"/>
<line x1="218" y1="349.16" x2="220" y2="349.16" stroke="#111" stroke-width="0.7"/>
<line x1="218" y1="343.72" x2="220" y2="343.72" stroke="#111" stroke-width="0.7"/>
<line x1="218" y1="340.96" x2="220" y2="340.96" stroke="#111" stroke-width="0.7"/>
<line x1="218" y1="339.01" x2="220" y2="339.01" stroke="#111" stroke-width="0.7"/>
<line x1="218" y1="337.49" x2="220" y2="337.49" stroke="#111" stroke-width="0.7"/>
<line x1="218" y1="336.25" x2="220" y2="336.25" stroke="#111" stroke-width="0.7"/>
<line x1="218" y1="335.2" x2="220" y2="335.2" stroke="#111" stroke-width="0.7"/>
<line x1="218" y1="334.29" x2="220" y2="334.29" stroke="#111" stroke-width="0.7"/>
<line x1="218" y1="333.49" x2="220" y2="333.49" stroke="#111" stroke-width="0.7"/>
<line x1="218" y1="328.05" x2="220" y2="328.05" stroke="#111" stroke-width="0.7"/>
<line x1="218" y1="325.29" x2="220" y2="325.29" stroke="#111" stroke-width="0.7"/>
<line x1="218" y1="323.34" x2="220" y2="323.34" stroke="#111" stroke-width="0.7"/>
<line x1="218" y1="321.82" x2="220" y2="321.82" stroke="#111" stroke-width="0.7"/>
<line x1="218" y1="320.58" x2="220" y2="320.58" stroke="#111" stroke-width="0.7"/>
<line x1="218" y1="319.53" x2="220" y2="319.53" stroke="#111" stroke-width="0.7"/>
<line x1="218" y1="318.62" x2="220" y2="318.62" stroke="#111" stroke-width="0.7"/>
<line x1="218" y1="317.82" x2="220" y2="317.82" stroke="#111" stroke-width="0.7"/>
<line x1="220.25" y1="378.6" x2="220.25" y2="381.2" stroke="#111" stroke-width="1.1"/>
<text x="217.68" y="393.8" font-size="9.2" fill="#222" font-weight="normal" textLength="5.1" lengthAdjust="spacingAndGlyphs" stroke="#222" stroke-width="0.23">0</text>
<line x1="236.15" y1="378.6" x2="236.15" y2="381.2" stroke="#111" stroke-width="1.1"/>
<text x="231.08" y="393.8" font-size="9.2" fill="#222" font-weight="normal" textLength="9.9" lengthAdjust="spacingAndGlyphs" stroke="#222" stroke-width="0.23">10</text>
<line x1="252.05" y1="378.6" x2="252.05" y2="381.2" stroke="#111" stroke-width="1.1"/>
<text x="247.22" y="393.8" font-size="9.2" fill="#222" font-weight="normal" textLength="9.66" lengthAdjust="spacingAndGlyphs" stroke="#222" stroke-width="0.23">20</text>
<line x1="267.95" y1="378.6" x2="267.95" y2="381.2" stroke="#111" stroke-width="1.1"/>
<text x="263.21" y="393.8" font-size="9.2" fill="#222" font-weight="normal" textLength="9.57" lengthAdjust="spacingAndGlyphs" stroke="#222" stroke-width="0.23">30</text>
<line x1="283.85" y1="378.6" x2="283.85" y2="381.2" stroke="#111" stroke-width="1.1"/>
<text x="279.28" y="393.8" font-size="9.2" fill="#222" font-weight="normal" textLength="9.38" lengthAdjust="spacingAndGlyphs" stroke="#222" stroke-width="0.23">40</text>
<line x1="299.75" y1="378.6" x2="299.75" y2="381.2" stroke="#111" stroke-width="1.1"/>
<text x="295.01" y="393.8" font-size="9.2" fill="#222" font-weight="normal" textLength="9.57" lengthAdjust="spacingAndGlyphs" stroke="#222" stroke-width="0.23">50</text>
<line x1="315.65" y1="378.6" x2="315.65" y2="381.2" stroke="#111" stroke-width="1.1"/>
<text x="310.82" y="393.8" font-size="9.2" fill="#222" font-weight="normal" textLength="9.66" lengthAdjust="spacingAndGlyphs" stroke="#222" stroke-width="0.23">60</text>
<line x1="331.55" y1="378.6" x2="331.55" y2="381.2" stroke="#111" stroke-width="1.1"/>
<text x="326.72" y="393.8" font-size="9.2" fill="#222" font-weight="normal" textLength="9.66" lengthAdjust="spacingAndGlyphs" stroke="#222" stroke-width="0.23">70</text>
<line x1="347.45" y1="378.6" x2="347.45" y2="381.2" stroke="#111" stroke-width="1.1"/>
<text x="342.66" y="393.8" font-size="9.2" fill="#222" font-weight="normal" textLength="9.61" lengthAdjust="spacingAndGlyphs" stroke="#222" stroke-width="0.23">80</text>
<polyline points="220.25,354.71 225.02,337.47 236.15,358.47 247.28,365.36 258.41,369.75 269.54,370.38 280.67,370.06 291.8,370.69 302.93,370.38 314.06,370.38 325.19,371.63 336.32,370.38 347.45,370.38" fill="none" stroke="#d9a046" stroke-width="1.3" stroke-linejoin="round"/>
<polyline points="220.25,356.28 225.02,337.16 236.15,351.26 247.28,365.99 258.41,369.75 269.54,370.69 280.67,369.44 291.8,371 302.93,370.69 314.06,370.69 325.19,371.16 336.32,370.38 347.45,370.38" fill="none" stroke="#c88a2a" stroke-width="1.3" stroke-linejoin="round"/>
<polyline points="220.25,355.33 225.02,338.1 236.15,351.89 247.28,365.68 258.41,369.44 269.54,370.38 280.67,370.38 291.8,370.38 302.93,371 314.06,370.69 325.19,371.95 336.32,370.06 347.45,370.69" fill="none" stroke="#b87d22" stroke-width="1.2" stroke-linejoin="round"/>
<text x="411.61" y="312.5" font-size="11" fill="#1a1a1a" font-weight="normal" textLength="17.04" lengthAdjust="spacingAndGlyphs" stroke="#1a1a1a" stroke-width="0.28">GSH</text>
<text x="430.52" y="312.5" font-size="11" fill="#1a1a1a" font-weight="normal" textLength="3.71" lengthAdjust="spacingAndGlyphs" stroke="#1a1a1a" stroke-width="0.28">6</text>
<text x="436.14" y="312.5" font-size="11" fill="#1a1a1a" font-weight="normal" textLength="4.33" lengthAdjust="spacingAndGlyphs" stroke="#1a1a1a" stroke-width="0.28">5</text>
<text x="446.12" y="314" font-size="10.2" fill="#222" font-weight="normal" textLength="5.64" lengthAdjust="spacingAndGlyphs" stroke="#222" stroke-width="0.26">&#215;</text>
<text x="452.39" y="312.5" font-size="11" fill="#1a1a1a" font-weight="normal" textLength="9.01" lengthAdjust="spacingAndGlyphs" stroke="#1a1a1a" stroke-width="0.28">10</text>
<text x="462.25" y="309.6" font-size="6.8" fill="#222" font-weight="normal" textLength="4.07" lengthAdjust="spacingAndGlyphs" stroke="#222" stroke-width="0.17">4</text>
<line x1="384.4" y1="313.3" x2="384.4" y2="379.2" stroke="#111" stroke-width="1.4"/>
<line x1="383.7" y1="378.6" x2="515.9" y2="378.6" stroke="#111" stroke-width="1.3"/>
<line x1="380.4" y1="317.1" x2="384.4" y2="317.1" stroke="#111" stroke-width="1.2"/>
<text x="363.78" y="321" font-size="8.8" fill="#222" font-weight="normal" textLength="10.68" lengthAdjust="spacingAndGlyphs" stroke="#222" stroke-width="0.22">10</text>
<text x="374.29" y="317.7" font-size="6" fill="#222" font-weight="normal" textLength="3.83" lengthAdjust="spacingAndGlyphs" stroke="#222" stroke-width="0.15">9</text>
<line x1="380.4" y1="332.77" x2="384.4" y2="332.77" stroke="#111" stroke-width="1.2"/>
<text x="363.78" y="336.67" font-size="8.8" fill="#222" font-weight="normal" textLength="10.68" lengthAdjust="spacingAndGlyphs" stroke="#222" stroke-width="0.22">10</text>
<text x="374.29" y="333.37" font-size="6" fill="#222" font-weight="normal" textLength="3.79" lengthAdjust="spacingAndGlyphs" stroke="#222" stroke-width="0.15">8</text>
<line x1="380.4" y1="348.44" x2="384.4" y2="348.44" stroke="#111" stroke-width="1.2"/>
<text x="363.78" y="352.34" font-size="8.8" fill="#222" font-weight="normal" textLength="10.68" lengthAdjust="spacingAndGlyphs" stroke="#222" stroke-width="0.22">10</text>
<text x="374.25" y="349.04" font-size="6" fill="#222" font-weight="normal" textLength="3.91" lengthAdjust="spacingAndGlyphs" stroke="#222" stroke-width="0.15">7</text>
<line x1="380.4" y1="364.11" x2="384.4" y2="364.11" stroke="#111" stroke-width="1.2"/>
<text x="363.78" y="368.01" font-size="8.8" fill="#222" font-weight="normal" textLength="10.68" lengthAdjust="spacingAndGlyphs" stroke="#222" stroke-width="0.22">10</text>
<text x="374.26" y="364.71" font-size="6" fill="#222" font-weight="normal" textLength="3.83" lengthAdjust="spacingAndGlyphs" stroke="#222" stroke-width="0.15">6</text>
<line x1="382.4" y1="375.06" x2="384.4" y2="375.06" stroke="#111" stroke-width="0.7"/>
<line x1="382.4" y1="372.3" x2="384.4" y2="372.3" stroke="#111" stroke-width="0.7"/>
<line x1="382.4" y1="370.35" x2="384.4" y2="370.35" stroke="#111" stroke-width="0.7"/>
<line x1="382.4" y1="368.83" x2="384.4" y2="368.83" stroke="#111" stroke-width="0.7"/>
<line x1="382.4" y1="367.59" x2="384.4" y2="367.59" stroke="#111" stroke-width="0.7"/>
<line x1="382.4" y1="366.54" x2="384.4" y2="366.54" stroke="#111" stroke-width="0.7"/>
<line x1="382.4" y1="365.63" x2="384.4" y2="365.63" stroke="#111" stroke-width="0.7"/>
<line x1="382.4" y1="364.83" x2="384.4" y2="364.83" stroke="#111" stroke-width="0.7"/>
<line x1="382.4" y1="359.39" x2="384.4" y2="359.39" stroke="#111" stroke-width="0.7"/>
<line x1="382.4" y1="356.63" x2="384.4" y2="356.63" stroke="#111" stroke-width="0.7"/>
<line x1="382.4" y1="354.68" x2="384.4" y2="354.68" stroke="#111" stroke-width="0.7"/>
<line x1="382.4" y1="353.16" x2="384.4" y2="353.16" stroke="#111" stroke-width="0.7"/>
<line x1="382.4" y1="351.92" x2="384.4" y2="351.92" stroke="#111" stroke-width="0.7"/>
<line x1="382.4" y1="350.87" x2="384.4" y2="350.87" stroke="#111" stroke-width="0.7"/>
<line x1="382.4" y1="349.96" x2="384.4" y2="349.96" stroke="#111" stroke-width="0.7"/>
<line x1="382.4" y1="349.16" x2="384.4" y2="349.16" stroke="#111" stroke-width="0.7"/>
<line x1="382.4" y1="343.72" x2="384.4" y2="343.72" stroke="#111" stroke-width="0.7"/>
<line x1="382.4" y1="340.96" x2="384.4" y2="340.96" stroke="#111" stroke-width="0.7"/>
<line x1="382.4" y1="339.01" x2="384.4" y2="339.01" stroke="#111" stroke-width="0.7"/>
<line x1="382.4" y1="337.49" x2="384.4" y2="337.49" stroke="#111" stroke-width="0.7"/>
<line x1="382.4" y1="336.25" x2="384.4" y2="336.25" stroke="#111" stroke-width="0.7"/>
<line x1="382.4" y1="335.2" x2="384.4" y2="335.2" stroke="#111" stroke-width="0.7"/>
<line x1="382.4" y1="334.29" x2="384.4" y2="334.29" stroke="#111" stroke-width="0.7"/>
<line x1="382.4" y1="333.49" x2="384.4" y2="333.49" stroke="#111" stroke-width="0.7"/>
<line x1="382.4" y1="328.05" x2="384.4" y2="328.05" stroke="#111" stroke-width="0.7"/>
<line x1="382.4" y1="325.29" x2="384.4" y2="325.29" stroke="#111" stroke-width="0.7"/>
<line x1="382.4" y1="323.34" x2="384.4" y2="323.34" stroke="#111" stroke-width="0.7"/>
<line x1="382.4" y1="321.82" x2="384.4" y2="321.82" stroke="#111" stroke-width="0.7"/>
<line x1="382.4" y1="320.58" x2="384.4" y2="320.58" stroke="#111" stroke-width="0.7"/>
<line x1="382.4" y1="319.53" x2="384.4" y2="319.53" stroke="#111" stroke-width="0.7"/>
<line x1="382.4" y1="318.62" x2="384.4" y2="318.62" stroke="#111" stroke-width="0.7"/>
<line x1="382.4" y1="317.82" x2="384.4" y2="317.82" stroke="#111" stroke-width="0.7"/>
<line x1="384.65" y1="378.6" x2="384.65" y2="381.2" stroke="#111" stroke-width="1.1"/>
<text x="382.08" y="393.8" font-size="9.2" fill="#222" font-weight="normal" textLength="5.1" lengthAdjust="spacingAndGlyphs" stroke="#222" stroke-width="0.23">0</text>
<line x1="400.55" y1="378.6" x2="400.55" y2="381.2" stroke="#111" stroke-width="1.1"/>
<text x="395.48" y="393.8" font-size="9.2" fill="#222" font-weight="normal" textLength="9.9" lengthAdjust="spacingAndGlyphs" stroke="#222" stroke-width="0.23">10</text>
<line x1="416.45" y1="378.6" x2="416.45" y2="381.2" stroke="#111" stroke-width="1.1"/>
<text x="411.62" y="393.8" font-size="9.2" fill="#222" font-weight="normal" textLength="9.66" lengthAdjust="spacingAndGlyphs" stroke="#222" stroke-width="0.23">20</text>
<line x1="432.35" y1="378.6" x2="432.35" y2="381.2" stroke="#111" stroke-width="1.1"/>
<text x="427.61" y="393.8" font-size="9.2" fill="#222" font-weight="normal" textLength="9.57" lengthAdjust="spacingAndGlyphs" stroke="#222" stroke-width="0.23">30</text>
<line x1="448.25" y1="378.6" x2="448.25" y2="381.2" stroke="#111" stroke-width="1.1"/>
<text x="443.68" y="393.8" font-size="9.2" fill="#222" font-weight="normal" textLength="9.38" lengthAdjust="spacingAndGlyphs" stroke="#222" stroke-width="0.23">40</text>
<line x1="464.15" y1="378.6" x2="464.15" y2="381.2" stroke="#111" stroke-width="1.1"/>
<text x="459.41" y="393.8" font-size="9.2" fill="#222" font-weight="normal" textLength="9.57" lengthAdjust="spacingAndGlyphs" stroke="#222" stroke-width="0.23">50</text>
<line x1="480.05" y1="378.6" x2="480.05" y2="381.2" stroke="#111" stroke-width="1.1"/>
<text x="475.22" y="393.8" font-size="9.2" fill="#222" font-weight="normal" textLength="9.66" lengthAdjust="spacingAndGlyphs" stroke="#222" stroke-width="0.23">60</text>
<line x1="495.95" y1="378.6" x2="495.95" y2="381.2" stroke="#111" stroke-width="1.1"/>
<text x="491.12" y="393.8" font-size="9.2" fill="#222" font-weight="normal" textLength="9.66" lengthAdjust="spacingAndGlyphs" stroke="#222" stroke-width="0.23">70</text>
<line x1="511.85" y1="378.6" x2="511.85" y2="381.2" stroke="#111" stroke-width="1.1"/>
<text x="507.06" y="393.8" font-size="9.2" fill="#222" font-weight="normal" textLength="9.61" lengthAdjust="spacingAndGlyphs" stroke="#222" stroke-width="0.23">80</text>
<polyline points="384.65,357.06 389.42,340.45 400.55,335.12 411.68,366.62 422.81,368.81 433.94,370.06 445.07,370.38 456.2,371.16 467.33,370.38 478.46,371 489.59,371.16 500.72,369.44 511.85,370.69" fill="none" stroke="#356a48" stroke-width="1.1" stroke-linejoin="round"/>
<polyline points="384.65,356.28 389.42,338.72 400.55,332.77 411.68,364.11 422.81,368.34 433.94,369.91 445.07,370.06 456.2,370.85 467.33,370.06 478.46,370.69 489.59,371 500.72,370.06 511.85,370.38" fill="none" stroke="#24503a" stroke-width="1.2" stroke-linejoin="round"/>
<polyline points="384.65,355.49 389.42,336.84 400.55,330.42 411.68,360.82 422.81,367.87 433.94,369.75 445.07,370.06 456.2,370.69 467.33,369.75 478.46,370.38 489.59,370.69 500.72,369.12 511.85,370.38" fill="none" stroke="#173a28" stroke-width="1.2" stroke-linejoin="round"/>
<text x="96.37" y="408.5" font-size="11" fill="#1a1a1a" font-weight="normal" textLength="18.18" lengthAdjust="spacingAndGlyphs" stroke="#1a1a1a" stroke-width="0.28">TRAC</text>
<text x="117.89" y="408.5" font-size="11" fill="#1a1a1a" font-weight="normal" textLength="4.03" lengthAdjust="spacingAndGlyphs" stroke="#1a1a1a" stroke-width="0.28">2</text>
<text x="125.29" y="410" font-size="10.2" fill="#222" font-weight="normal" textLength="5.91" lengthAdjust="spacingAndGlyphs" stroke="#222" stroke-width="0.26">&#215;</text>
<text x="131.01" y="408.5" font-size="11" fill="#1a1a1a" font-weight="normal" textLength="8.68" lengthAdjust="spacingAndGlyphs" stroke="#1a1a1a" stroke-width="0.28">10</text>
<text x="140.17" y="405.6" font-size="6.8" fill="#222" font-weight="normal" textLength="4.57" lengthAdjust="spacingAndGlyphs" stroke="#222" stroke-width="0.17">5</text>
<line x1="55.3" y1="409.6" x2="55.3" y2="475.7" stroke="#111" stroke-width="1.4"/>
<line x1="54.6" y1="475.1" x2="186.8" y2="475.1" stroke="#111" stroke-width="1.3"/>
<line x1="51.3" y1="413.4" x2="55.3" y2="413.4" stroke="#111" stroke-width="1.2"/>
<text x="34.68" y="417.3" font-size="8.8" fill="#222" font-weight="normal" textLength="10.68" lengthAdjust="spacingAndGlyphs" stroke="#222" stroke-width="0.22">10</text>
<text x="45.19" y="414" font-size="6" fill="#222" font-weight="normal" textLength="3.83" lengthAdjust="spacingAndGlyphs" stroke="#222" stroke-width="0.15">9</text>
<line x1="51.3" y1="429.07" x2="55.3" y2="429.07" stroke="#111" stroke-width="1.2"/>
<text x="34.68" y="432.97" font-size="8.8" fill="#222" font-weight="normal" textLength="10.68" lengthAdjust="spacingAndGlyphs" stroke="#222" stroke-width="0.22">10</text>
<text x="45.19" y="429.67" font-size="6" fill="#222" font-weight="normal" textLength="3.79" lengthAdjust="spacingAndGlyphs" stroke="#222" stroke-width="0.15">8</text>
<line x1="51.3" y1="444.74" x2="55.3" y2="444.74" stroke="#111" stroke-width="1.2"/>
<text x="34.68" y="448.64" font-size="8.8" fill="#222" font-weight="normal" textLength="10.68" lengthAdjust="spacingAndGlyphs" stroke="#222" stroke-width="0.22">10</text>
<text x="45.15" y="445.34" font-size="6" fill="#222" font-weight="normal" textLength="3.91" lengthAdjust="spacingAndGlyphs" stroke="#222" stroke-width="0.15">7</text>
<line x1="51.3" y1="460.41" x2="55.3" y2="460.41" stroke="#111" stroke-width="1.2"/>
<text x="34.68" y="464.31" font-size="8.8" fill="#222" font-weight="normal" textLength="10.68" lengthAdjust="spacingAndGlyphs" stroke="#222" stroke-width="0.22">10</text>
<text x="45.16" y="461.01" font-size="6" fill="#222" font-weight="normal" textLength="3.83" lengthAdjust="spacingAndGlyphs" stroke="#222" stroke-width="0.15">6</text>
<line x1="53.3" y1="471.36" x2="55.3" y2="471.36" stroke="#111" stroke-width="0.7"/>
<line x1="53.3" y1="468.6" x2="55.3" y2="468.6" stroke="#111" stroke-width="0.7"/>
<line x1="53.3" y1="466.65" x2="55.3" y2="466.65" stroke="#111" stroke-width="0.7"/>
<line x1="53.3" y1="465.13" x2="55.3" y2="465.13" stroke="#111" stroke-width="0.7"/>
<line x1="53.3" y1="463.89" x2="55.3" y2="463.89" stroke="#111" stroke-width="0.7"/>
<line x1="53.3" y1="462.84" x2="55.3" y2="462.84" stroke="#111" stroke-width="0.7"/>
<line x1="53.3" y1="461.93" x2="55.3" y2="461.93" stroke="#111" stroke-width="0.7"/>
<line x1="53.3" y1="461.13" x2="55.3" y2="461.13" stroke="#111" stroke-width="0.7"/>
<line x1="53.3" y1="455.69" x2="55.3" y2="455.69" stroke="#111" stroke-width="0.7"/>
<line x1="53.3" y1="452.93" x2="55.3" y2="452.93" stroke="#111" stroke-width="0.7"/>
<line x1="53.3" y1="450.98" x2="55.3" y2="450.98" stroke="#111" stroke-width="0.7"/>
<line x1="53.3" y1="449.46" x2="55.3" y2="449.46" stroke="#111" stroke-width="0.7"/>
<line x1="53.3" y1="448.22" x2="55.3" y2="448.22" stroke="#111" stroke-width="0.7"/>
<line x1="53.3" y1="447.17" x2="55.3" y2="447.17" stroke="#111" stroke-width="0.7"/>
<line x1="53.3" y1="446.26" x2="55.3" y2="446.26" stroke="#111" stroke-width="0.7"/>
<line x1="53.3" y1="445.46" x2="55.3" y2="445.46" stroke="#111" stroke-width="0.7"/>
<line x1="53.3" y1="440.02" x2="55.3" y2="440.02" stroke="#111" stroke-width="0.7"/>
<line x1="53.3" y1="437.26" x2="55.3" y2="437.26" stroke="#111" stroke-width="0.7"/>
<line x1="53.3" y1="435.31" x2="55.3" y2="435.31" stroke="#111" stroke-width="0.7"/>
<line x1="53.3" y1="433.79" x2="55.3" y2="433.79" stroke="#111" stroke-width="0.7"/>
<line x1="53.3" y1="432.55" x2="55.3" y2="432.55" stroke="#111" stroke-width="0.7"/>
<line x1="53.3" y1="431.5" x2="55.3" y2="431.5" stroke="#111" stroke-width="0.7"/>
<line x1="53.3" y1="430.59" x2="55.3" y2="430.59" stroke="#111" stroke-width="0.7"/>
<line x1="53.3" y1="429.79" x2="55.3" y2="429.79" stroke="#111" stroke-width="0.7"/>
<line x1="53.3" y1="424.35" x2="55.3" y2="424.35" stroke="#111" stroke-width="0.7"/>
<line x1="53.3" y1="421.59" x2="55.3" y2="421.59" stroke="#111" stroke-width="0.7"/>
<line x1="53.3" y1="419.64" x2="55.3" y2="419.64" stroke="#111" stroke-width="0.7"/>
<line x1="53.3" y1="418.12" x2="55.3" y2="418.12" stroke="#111" stroke-width="0.7"/>
<line x1="53.3" y1="416.88" x2="55.3" y2="416.88" stroke="#111" stroke-width="0.7"/>
<line x1="53.3" y1="415.83" x2="55.3" y2="415.83" stroke="#111" stroke-width="0.7"/>
<line x1="53.3" y1="414.92" x2="55.3" y2="414.92" stroke="#111" stroke-width="0.7"/>
<line x1="53.3" y1="414.12" x2="55.3" y2="414.12" stroke="#111" stroke-width="0.7"/>
<line x1="55.55" y1="475.1" x2="55.55" y2="477.7" stroke="#111" stroke-width="1.1"/>
<text x="52.98" y="490.3" font-size="9.2" fill="#222" font-weight="normal" textLength="5.1" lengthAdjust="spacingAndGlyphs" stroke="#222" stroke-width="0.23">0</text>
<line x1="71.45" y1="475.1" x2="71.45" y2="477.7" stroke="#111" stroke-width="1.1"/>
<text x="66.38" y="490.3" font-size="9.2" fill="#222" font-weight="normal" textLength="9.9" lengthAdjust="spacingAndGlyphs" stroke="#222" stroke-width="0.23">10</text>
<line x1="87.35" y1="475.1" x2="87.35" y2="477.7" stroke="#111" stroke-width="1.1"/>
<text x="82.52" y="490.3" font-size="9.2" fill="#222" font-weight="normal" textLength="9.66" lengthAdjust="spacingAndGlyphs" stroke="#222" stroke-width="0.23">20</text>
<line x1="103.25" y1="475.1" x2="103.25" y2="477.7" stroke="#111" stroke-width="1.1"/>
<text x="98.51" y="490.3" font-size="9.2" fill="#222" font-weight="normal" textLength="9.57" lengthAdjust="spacingAndGlyphs" stroke="#222" stroke-width="0.23">30</text>
<line x1="119.15" y1="475.1" x2="119.15" y2="477.7" stroke="#111" stroke-width="1.1"/>
<text x="114.58" y="490.3" font-size="9.2" fill="#222" font-weight="normal" textLength="9.38" lengthAdjust="spacingAndGlyphs" stroke="#222" stroke-width="0.23">40</text>
<line x1="135.05" y1="475.1" x2="135.05" y2="477.7" stroke="#111" stroke-width="1.1"/>
<text x="130.31" y="490.3" font-size="9.2" fill="#222" font-weight="normal" textLength="9.57" lengthAdjust="spacingAndGlyphs" stroke="#222" stroke-width="0.23">50</text>
<line x1="150.95" y1="475.1" x2="150.95" y2="477.7" stroke="#111" stroke-width="1.1"/>
<text x="146.12" y="490.3" font-size="9.2" fill="#222" font-weight="normal" textLength="9.66" lengthAdjust="spacingAndGlyphs" stroke="#222" stroke-width="0.23">60</text>
<line x1="166.85" y1="475.1" x2="166.85" y2="477.7" stroke="#111" stroke-width="1.1"/>
<text x="162.02" y="490.3" font-size="9.2" fill="#222" font-weight="normal" textLength="9.66" lengthAdjust="spacingAndGlyphs" stroke="#222" stroke-width="0.23">70</text>
<line x1="182.75" y1="475.1" x2="182.75" y2="477.7" stroke="#111" stroke-width="1.1"/>
<text x="177.96" y="490.3" font-size="9.2" fill="#222" font-weight="normal" textLength="9.61" lengthAdjust="spacingAndGlyphs" stroke="#222" stroke-width="0.23">80</text>
<polyline points="55.55,455.71 60.32,442.39 71.45,466.36 82.58,468.72 93.71,468.25 104.84,468.25 115.97,467.93 127.1,468.56 138.23,464.8 149.36,468.25 160.49,468.25 171.62,467.62 182.75,468.25" fill="none" stroke="#8a88c6" stroke-width="1.3" stroke-linejoin="round"/>
<polyline points="55.55,454.77 60.32,441.61 71.45,462.29 82.58,468.25 93.71,468.25 104.84,468.25 115.97,467.62 127.1,468.25 138.23,467.93 149.36,468.25 160.49,468.72 171.62,467.46 182.75,467.46" fill="none" stroke="#5d5b98" stroke-width="1.3" stroke-linejoin="round"/>
<text x="260.46" y="408.5" font-size="11" fill="#1a1a1a" font-weight="normal" textLength="18.9" lengthAdjust="spacingAndGlyphs" stroke="#1a1a1a" stroke-width="0.28">TRAC</text>
<text x="282.47" y="408.5" font-size="11" fill="#1a1a1a" font-weight="normal" textLength="2.81" lengthAdjust="spacingAndGlyphs" stroke="#1a1a1a" stroke-width="0.28">1</text>
<text x="289.88" y="410" font-size="10.2" fill="#222" font-weight="normal" textLength="6.04" lengthAdjust="spacingAndGlyphs" stroke="#222" stroke-width="0.26">&#215;</text>
<text x="295.84" y="408.5" font-size="11" fill="#1a1a1a" font-weight="normal" textLength="8.34" lengthAdjust="spacingAndGlyphs" stroke="#1a1a1a" stroke-width="0.28">10</text>
<text x="304.61" y="405.6" font-size="6.8" fill="#222" font-weight="normal" textLength="5.39" lengthAdjust="spacingAndGlyphs" stroke="#222" stroke-width="0.17">5</text>
<line x1="219.7" y1="409.6" x2="219.7" y2="475.7" stroke="#111" stroke-width="1.4"/>
<line x1="219" y1="475.1" x2="351.2" y2="475.1" stroke="#111" stroke-width="1.3"/>
<line x1="215.7" y1="413.4" x2="219.7" y2="413.4" stroke="#111" stroke-width="1.2"/>
<text x="199.08" y="417.3" font-size="8.8" fill="#222" font-weight="normal" textLength="10.68" lengthAdjust="spacingAndGlyphs" stroke="#222" stroke-width="0.22">10</text>
<text x="209.59" y="414" font-size="6" fill="#222" font-weight="normal" textLength="3.83" lengthAdjust="spacingAndGlyphs" stroke="#222" stroke-width="0.15">9</text>
<line x1="215.7" y1="429.07" x2="219.7" y2="429.07" stroke="#111" stroke-width="1.2"/>
<text x="199.08" y="432.97" font-size="8.8" fill="#222" font-weight="normal" textLength="10.68" lengthAdjust="spacingAndGlyphs" stroke="#222" stroke-width="0.22">10</text>
<text x="209.59" y="429.67" font-size="6" fill="#222" font-weight="normal" textLength="3.79" lengthAdjust="spacingAndGlyphs" stroke="#222" stroke-width="0.15">8</text>
<line x1="215.7" y1="444.74" x2="219.7" y2="444.74" stroke="#111" stroke-width="1.2"/>
<text x="199.08" y="448.64" font-size="8.8" fill="#222" font-weight="normal" textLength="10.68" lengthAdjust="spacingAndGlyphs" stroke="#222" stroke-width="0.22">10</text>
<text x="209.55" y="445.34" font-size="6" fill="#222" font-weight="normal" textLength="3.91" lengthAdjust="spacingAndGlyphs" stroke="#222" stroke-width="0.15">7</text>
<line x1="215.7" y1="460.41" x2="219.7" y2="460.41" stroke="#111" stroke-width="1.2"/>
<text x="199.08" y="464.31" font-size="8.8" fill="#222" font-weight="normal" textLength="10.68" lengthAdjust="spacingAndGlyphs" stroke="#222" stroke-width="0.22">10</text>
<text x="209.56" y="461.01" font-size="6" fill="#222" font-weight="normal" textLength="3.83" lengthAdjust="spacingAndGlyphs" stroke="#222" stroke-width="0.15">6</text>
<line x1="217.7" y1="471.36" x2="219.7" y2="471.36" stroke="#111" stroke-width="0.7"/>
<line x1="217.7" y1="468.6" x2="219.7" y2="468.6" stroke="#111" stroke-width="0.7"/>
<line x1="217.7" y1="466.65" x2="219.7" y2="466.65" stroke="#111" stroke-width="0.7"/>
<line x1="217.7" y1="465.13" x2="219.7" y2="465.13" stroke="#111" stroke-width="0.7"/>
<line x1="217.7" y1="463.89" x2="219.7" y2="463.89" stroke="#111" stroke-width="0.7"/>
<line x1="217.7" y1="462.84" x2="219.7" y2="462.84" stroke="#111" stroke-width="0.7"/>
<line x1="217.7" y1="461.93" x2="219.7" y2="461.93" stroke="#111" stroke-width="0.7"/>
<line x1="217.7" y1="461.13" x2="219.7" y2="461.13" stroke="#111" stroke-width="0.7"/>
<line x1="217.7" y1="455.69" x2="219.7" y2="455.69" stroke="#111" stroke-width="0.7"/>
<line x1="217.7" y1="452.93" x2="219.7" y2="452.93" stroke="#111" stroke-width="0.7"/>
<line x1="217.7" y1="450.98" x2="219.7" y2="450.98" stroke="#111" stroke-width="0.7"/>
<line x1="217.7" y1="449.46" x2="219.7" y2="449.46" stroke="#111" stroke-width="0.7"/>
<line x1="217.7" y1="448.22" x2="219.7" y2="448.22" stroke="#111" stroke-width="0.7"/>
<line x1="217.7" y1="447.17" x2="219.7" y2="447.17" stroke="#111" stroke-width="0.7"/>
<line x1="217.7" y1="446.26" x2="219.7" y2="446.26" stroke="#111" stroke-width="0.7"/>
<line x1="217.7" y1="445.46" x2="219.7" y2="445.46" stroke="#111" stroke-width="0.7"/>
<line x1="217.7" y1="440.02" x2="219.7" y2="440.02" stroke="#111" stroke-width="0.7"/>
<line x1="217.7" y1="437.26" x2="219.7" y2="437.26" stroke="#111" stroke-width="0.7"/>
<line x1="217.7" y1="435.31" x2="219.7" y2="435.31" stroke="#111" stroke-width="0.7"/>
<line x1="217.7" y1="433.79" x2="219.7" y2="433.79" stroke="#111" stroke-width="0.7"/>
<line x1="217.7" y1="432.55" x2="219.7" y2="432.55" stroke="#111" stroke-width="0.7"/>
<line x1="217.7" y1="431.5" x2="219.7" y2="431.5" stroke="#111" stroke-width="0.7"/>
<line x1="217.7" y1="430.59" x2="219.7" y2="430.59" stroke="#111" stroke-width="0.7"/>
<line x1="217.7" y1="429.79" x2="219.7" y2="429.79" stroke="#111" stroke-width="0.7"/>
<line x1="217.7" y1="424.35" x2="219.7" y2="424.35" stroke="#111" stroke-width="0.7"/>
<line x1="217.7" y1="421.59" x2="219.7" y2="421.59" stroke="#111" stroke-width="0.7"/>
<line x1="217.7" y1="419.64" x2="219.7" y2="419.64" stroke="#111" stroke-width="0.7"/>
<line x1="217.7" y1="418.12" x2="219.7" y2="418.12" stroke="#111" stroke-width="0.7"/>
<line x1="217.7" y1="416.88" x2="219.7" y2="416.88" stroke="#111" stroke-width="0.7"/>
<line x1="217.7" y1="415.83" x2="219.7" y2="415.83" stroke="#111" stroke-width="0.7"/>
<line x1="217.7" y1="414.92" x2="219.7" y2="414.92" stroke="#111" stroke-width="0.7"/>
<line x1="217.7" y1="414.12" x2="219.7" y2="414.12" stroke="#111" stroke-width="0.7"/>
<line x1="219.95" y1="475.1" x2="219.95" y2="477.7" stroke="#111" stroke-width="1.1"/>
<text x="217.38" y="490.3" font-size="9.2" fill="#222" font-weight="normal" textLength="5.1" lengthAdjust="spacingAndGlyphs" stroke="#222" stroke-width="0.23">0</text>
<line x1="235.85" y1="475.1" x2="235.85" y2="477.7" stroke="#111" stroke-width="1.1"/>
<text x="230.78" y="490.3" font-size="9.2" fill="#222" font-weight="normal" textLength="9.9" lengthAdjust="spacingAndGlyphs" stroke="#222" stroke-width="0.23">10</text>
<line x1="251.75" y1="475.1" x2="251.75" y2="477.7" stroke="#111" stroke-width="1.1"/>
<text x="246.92" y="490.3" font-size="9.2" fill="#222" font-weight="normal" textLength="9.66" lengthAdjust="spacingAndGlyphs" stroke="#222" stroke-width="0.23">20</text>
<line x1="267.65" y1="475.1" x2="267.65" y2="477.7" stroke="#111" stroke-width="1.1"/>
<text x="262.91" y="490.3" font-size="9.2" fill="#222" font-weight="normal" textLength="9.57" lengthAdjust="spacingAndGlyphs" stroke="#222" stroke-width="0.23">30</text>
<line x1="283.55" y1="475.1" x2="283.55" y2="477.7" stroke="#111" stroke-width="1.1"/>
<text x="278.98" y="490.3" font-size="9.2" fill="#222" font-weight="normal" textLength="9.38" lengthAdjust="spacingAndGlyphs" stroke="#222" stroke-width="0.23">40</text>
<line x1="299.45" y1="475.1" x2="299.45" y2="477.7" stroke="#111" stroke-width="1.1"/>
<text x="294.71" y="490.3" font-size="9.2" fill="#222" font-weight="normal" textLength="9.57" lengthAdjust="spacingAndGlyphs" stroke="#222" stroke-width="0.23">50</text>
<line x1="315.35" y1="475.1" x2="315.35" y2="477.7" stroke="#111" stroke-width="1.1"/>
<text x="310.52" y="490.3" font-size="9.2" fill="#222" font-weight="normal" textLength="9.66" lengthAdjust="spacingAndGlyphs" stroke="#222" stroke-width="0.23">60</text>
<line x1="331.25" y1="475.1" x2="331.25" y2="477.7" stroke="#111" stroke-width="1.1"/>
<text x="326.42" y="490.3" font-size="9.2" fill="#222" font-weight="normal" textLength="9.66" lengthAdjust="spacingAndGlyphs" stroke="#222" stroke-width="0.23">70</text>
<line x1="347.15" y1="475.1" x2="347.15" y2="477.7" stroke="#111" stroke-width="1.1"/>
<text x="342.36" y="490.3" font-size="9.2" fill="#222" font-weight="normal" textLength="9.61" lengthAdjust="spacingAndGlyphs" stroke="#222" stroke-width="0.23">80</text>
<polyline points="219.95,453.36 224.72,440.98 235.85,465.74 246.98,467.15 258.11,467.77 269.24,467.77 280.37,467.15 291.5,467.46 302.63,467.46 313.76,467.77 324.89,468.09 336.02,466.21 347.15,467.93" fill="none" stroke="#b52a6c" stroke-width="1.5" stroke-linejoin="round"/>
<polyline points="219.95,454.14 224.72,440.35 235.85,463.7 246.98,465.74 258.11,466.52 269.24,466.68 280.37,466.21 291.5,466.21 302.63,466.21 313.76,466.52 324.89,466.99 336.02,464.95 347.15,466.68" fill="none" stroke="#8c1450" stroke-width="1.5" stroke-linejoin="round"/>
<text x="414.46" y="408.6" font-size="11" fill="#1a1a1a" font-weight="normal" textLength="18.9" lengthAdjust="spacingAndGlyphs" stroke="#1a1a1a" stroke-width="0.28">TRAC</text>
<text x="436.02" y="408.6" font-size="11" fill="#1a1a1a" font-weight="normal" textLength="4.57" lengthAdjust="spacingAndGlyphs" stroke="#1a1a1a" stroke-width="0.28">5</text>
<text x="443.88" y="410.1" font-size="10.2" fill="#222" font-weight="normal" textLength="6.04" lengthAdjust="spacingAndGlyphs" stroke="#222" stroke-width="0.26">&#215;</text>
<text x="449.84" y="408.6" font-size="11" fill="#1a1a1a" font-weight="normal" textLength="8.34" lengthAdjust="spacingAndGlyphs" stroke="#1a1a1a" stroke-width="0.28">10</text>
<text x="458.82" y="405.7" font-size="6.8" fill="#222" font-weight="normal" textLength="5.07" lengthAdjust="spacingAndGlyphs" stroke="#222" stroke-width="0.17">4</text>
<line x1="384.3" y1="411.4" x2="384.3" y2="478.1" stroke="#111" stroke-width="1.4"/>
<line x1="383.6" y1="477.5" x2="515.8" y2="477.5" stroke="#111" stroke-width="1.3"/>
<line x1="380.3" y1="415.2" x2="384.3" y2="415.2" stroke="#111" stroke-width="1.2"/>
<text x="363.68" y="419.1" font-size="8.8" fill="#222" font-weight="normal" textLength="10.68" lengthAdjust="spacingAndGlyphs" stroke="#222" stroke-width="0.22">10</text>
<text x="374.19" y="415.8" font-size="6" fill="#222" font-weight="normal" textLength="3.83" lengthAdjust="spacingAndGlyphs" stroke="#222" stroke-width="0.15">9</text>
<line x1="380.3" y1="430.87" x2="384.3" y2="430.87" stroke="#111" stroke-width="1.2"/>
<text x="363.68" y="434.77" font-size="8.8" fill="#222" font-weight="normal" textLength="10.68" lengthAdjust="spacingAndGlyphs" stroke="#222" stroke-width="0.22">10</text>
<text x="374.19" y="431.47" font-size="6" fill="#222" font-weight="normal" textLength="3.79" lengthAdjust="spacingAndGlyphs" stroke="#222" stroke-width="0.15">8</text>
<line x1="380.3" y1="446.54" x2="384.3" y2="446.54" stroke="#111" stroke-width="1.2"/>
<text x="363.68" y="450.44" font-size="8.8" fill="#222" font-weight="normal" textLength="10.68" lengthAdjust="spacingAndGlyphs" stroke="#222" stroke-width="0.22">10</text>
<text x="374.15" y="447.14" font-size="6" fill="#222" font-weight="normal" textLength="3.91" lengthAdjust="spacingAndGlyphs" stroke="#222" stroke-width="0.15">7</text>
<line x1="380.3" y1="462.21" x2="384.3" y2="462.21" stroke="#111" stroke-width="1.2"/>
<text x="363.68" y="466.11" font-size="8.8" fill="#222" font-weight="normal" textLength="10.68" lengthAdjust="spacingAndGlyphs" stroke="#222" stroke-width="0.22">10</text>
<text x="374.16" y="462.81" font-size="6" fill="#222" font-weight="normal" textLength="3.83" lengthAdjust="spacingAndGlyphs" stroke="#222" stroke-width="0.15">6</text>
<line x1="382.3" y1="473.16" x2="384.3" y2="473.16" stroke="#111" stroke-width="0.7"/>
<line x1="382.3" y1="470.4" x2="384.3" y2="470.4" stroke="#111" stroke-width="0.7"/>
<line x1="382.3" y1="468.45" x2="384.3" y2="468.45" stroke="#111" stroke-width="0.7"/>
<line x1="382.3" y1="466.93" x2="384.3" y2="466.93" stroke="#111" stroke-width="0.7"/>
<line x1="382.3" y1="465.69" x2="384.3" y2="465.69" stroke="#111" stroke-width="0.7"/>
<line x1="382.3" y1="464.64" x2="384.3" y2="464.64" stroke="#111" stroke-width="0.7"/>
<line x1="382.3" y1="463.73" x2="384.3" y2="463.73" stroke="#111" stroke-width="0.7"/>
<line x1="382.3" y1="462.93" x2="384.3" y2="462.93" stroke="#111" stroke-width="0.7"/>
<line x1="382.3" y1="457.49" x2="384.3" y2="457.49" stroke="#111" stroke-width="0.7"/>
<line x1="382.3" y1="454.73" x2="384.3" y2="454.73" stroke="#111" stroke-width="0.7"/>
<line x1="382.3" y1="452.78" x2="384.3" y2="452.78" stroke="#111" stroke-width="0.7"/>
<line x1="382.3" y1="451.26" x2="384.3" y2="451.26" stroke="#111" stroke-width="0.7"/>
<line x1="382.3" y1="450.02" x2="384.3" y2="450.02" stroke="#111" stroke-width="0.7"/>
<line x1="382.3" y1="448.97" x2="384.3" y2="448.97" stroke="#111" stroke-width="0.7"/>
<line x1="382.3" y1="448.06" x2="384.3" y2="448.06" stroke="#111" stroke-width="0.7"/>
<line x1="382.3" y1="447.26" x2="384.3" y2="447.26" stroke="#111" stroke-width="0.7"/>
<line x1="382.3" y1="441.82" x2="384.3" y2="441.82" stroke="#111" stroke-width="0.7"/>
<line x1="382.3" y1="439.06" x2="384.3" y2="439.06" stroke="#111" stroke-width="0.7"/>
<line x1="382.3" y1="437.11" x2="384.3" y2="437.11" stroke="#111" stroke-width="0.7"/>
<line x1="382.3" y1="435.59" x2="384.3" y2="435.59" stroke="#111" stroke-width="0.7"/>
<line x1="382.3" y1="434.35" x2="384.3" y2="434.35" stroke="#111" stroke-width="0.7"/>
<line x1="382.3" y1="433.3" x2="384.3" y2="433.3" stroke="#111" stroke-width="0.7"/>
<line x1="382.3" y1="432.39" x2="384.3" y2="432.39" stroke="#111" stroke-width="0.7"/>
<line x1="382.3" y1="431.59" x2="384.3" y2="431.59" stroke="#111" stroke-width="0.7"/>
<line x1="382.3" y1="426.15" x2="384.3" y2="426.15" stroke="#111" stroke-width="0.7"/>
<line x1="382.3" y1="423.39" x2="384.3" y2="423.39" stroke="#111" stroke-width="0.7"/>
<line x1="382.3" y1="421.44" x2="384.3" y2="421.44" stroke="#111" stroke-width="0.7"/>
<line x1="382.3" y1="419.92" x2="384.3" y2="419.92" stroke="#111" stroke-width="0.7"/>
<line x1="382.3" y1="418.68" x2="384.3" y2="418.68" stroke="#111" stroke-width="0.7"/>
<line x1="382.3" y1="417.63" x2="384.3" y2="417.63" stroke="#111" stroke-width="0.7"/>
<line x1="382.3" y1="416.72" x2="384.3" y2="416.72" stroke="#111" stroke-width="0.7"/>
<line x1="382.3" y1="415.92" x2="384.3" y2="415.92" stroke="#111" stroke-width="0.7"/>
<line x1="384.55" y1="477.5" x2="384.55" y2="480.1" stroke="#111" stroke-width="1.1"/>
<text x="381.98" y="492.7" font-size="9.2" fill="#222" font-weight="normal" textLength="5.1" lengthAdjust="spacingAndGlyphs" stroke="#222" stroke-width="0.23">0</text>
<line x1="400.45" y1="477.5" x2="400.45" y2="480.1" stroke="#111" stroke-width="1.1"/>
<text x="395.38" y="492.7" font-size="9.2" fill="#222" font-weight="normal" textLength="9.9" lengthAdjust="spacingAndGlyphs" stroke="#222" stroke-width="0.23">10</text>
<line x1="416.35" y1="477.5" x2="416.35" y2="480.1" stroke="#111" stroke-width="1.1"/>
<text x="411.52" y="492.7" font-size="9.2" fill="#222" font-weight="normal" textLength="9.66" lengthAdjust="spacingAndGlyphs" stroke="#222" stroke-width="0.23">20</text>
<line x1="432.25" y1="477.5" x2="432.25" y2="480.1" stroke="#111" stroke-width="1.1"/>
<text x="427.51" y="492.7" font-size="9.2" fill="#222" font-weight="normal" textLength="9.57" lengthAdjust="spacingAndGlyphs" stroke="#222" stroke-width="0.23">30</text>
<line x1="448.15" y1="477.5" x2="448.15" y2="480.1" stroke="#111" stroke-width="1.1"/>
<text x="443.58" y="492.7" font-size="9.2" fill="#222" font-weight="normal" textLength="9.38" lengthAdjust="spacingAndGlyphs" stroke="#222" stroke-width="0.23">40</text>
<line x1="464.05" y1="477.5" x2="464.05" y2="480.1" stroke="#111" stroke-width="1.1"/>
<text x="459.31" y="492.7" font-size="9.2" fill="#222" font-weight="normal" textLength="9.57" lengthAdjust="spacingAndGlyphs" stroke="#222" stroke-width="0.23">50</text>
<line x1="479.95" y1="477.5" x2="479.95" y2="480.1" stroke="#111" stroke-width="1.1"/>
<text x="475.12" y="492.7" font-size="9.2" fill="#222" font-weight="normal" textLength="9.66" lengthAdjust="spacingAndGlyphs" stroke="#222" stroke-width="0.23">60</text>
<line x1="495.85" y1="477.5" x2="495.85" y2="480.1" stroke="#111" stroke-width="1.1"/>
<text x="491.02" y="492.7" font-size="9.2" fill="#222" font-weight="normal" textLength="9.66" lengthAdjust="spacingAndGlyphs" stroke="#222" stroke-width="0.23">70</text>
<line x1="511.75" y1="477.5" x2="511.75" y2="480.1" stroke="#111" stroke-width="1.1"/>
<text x="506.96" y="492.7" font-size="9.2" fill="#222" font-weight="normal" textLength="9.61" lengthAdjust="spacingAndGlyphs" stroke="#222" stroke-width="0.23">80</text>
<polyline points="384.55,455.16 389.32,439.96 400.45,460.96 411.58,468.16 422.71,469.26 433.84,469.57 444.97,469.57 456.1,469.57 467.23,468.16 478.36,470.04 489.49,468.79 500.62,469.57 511.75,468.79" fill="none" stroke="#93b2de" stroke-width="1.2" stroke-linejoin="round"/>
<polyline points="384.55,454.38 389.32,438.7 400.45,457.82 411.58,467.85 422.71,469.26 433.84,469.73 444.97,469.73 456.1,469.73 467.23,468.48 478.36,469.57 489.49,468.95 500.62,469.73 511.75,468.79" fill="none" stroke="#7494c8" stroke-width="1.3" stroke-linejoin="round"/>
<polyline points="384.55,454.06 389.32,439.02 400.45,455.16 411.58,467.54 422.71,468.95 433.84,469.42 444.97,469.42 456.1,469.42 467.23,468.01 478.36,469.42 489.49,468.48 500.62,469.42 511.75,468.48" fill="none" stroke="#6082bb" stroke-width="1.3" stroke-linejoin="round"/>
<rect x="0.5" y="0.5" width="519" height="514" fill="none" stroke="#333" stroke-width="1"/>
</svg>
</body></html>
